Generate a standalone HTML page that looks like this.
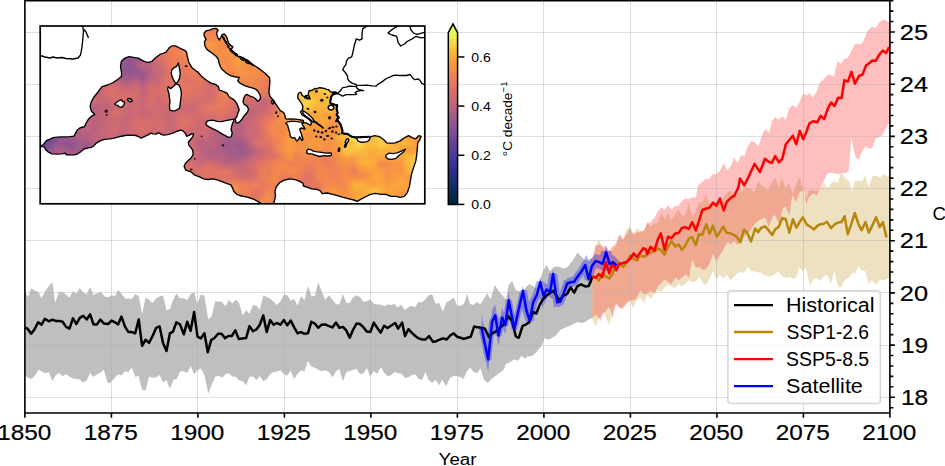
<!DOCTYPE html><html><head><meta charset="utf-8"><style>html,body{margin:0;padding:0;background:#fff;overflow:hidden}svg{display:block}</style></head><body><svg width="945" height="466" viewBox="0 0 945 466">
<rect width="945" height="466" fill="#fff"/>
<path d="M24.9,291.7 L25.7,291.7 L27.8,297.2 L31.2,288.3 L34.6,290.4 L38.6,292.1 L41.5,298.3 L44.9,291.4 L52.3,281.8 L55.2,302.9 L59.2,291.4 L62.6,292.1 L65.5,294.3 L69.5,297.7 L72.9,290.9 L76.4,293.8 L79.8,288.0 L83.2,292.6 L86.7,294.3 L90.1,286.9 L93.5,294.8 L97.0,293.5 L100.4,291.7 L104.7,296.5 L108.1,297.2 L111.6,295.2 L115.0,296.0 L118.1,289.7 L121.5,293.8 L125.6,298.9 L128.7,298.6 L131.8,298.9 L135.2,294.3 L138.7,296.0 L142.1,314.1 L145.5,297.7 L149.0,299.5 L152.4,302.9 L156.2,298.6 L159.6,296.2 L163.1,295.5 L166.5,310.3 L169.9,308.9 L173.0,300.3 L176.4,293.5 L180.0,298.3 L183.8,298.3 L187.2,300.0 L190.6,294.3 L194.1,291.7 L197.2,303.8 L200.9,294.3 L204.4,296.0 L208.3,319.5 L211.8,316.1 L215.2,301.2 L218.6,301.7 L221.5,301.2 L225.5,306.3 L228.9,300.0 L232.4,303.4 L235.8,299.5 L239.2,303.4 L242.7,315.4 L246.1,310.3 L249.5,313.7 L253.0,305.1 L256.4,305.8 L259.8,309.8 L263.3,295.2 L266.7,296.9 L270.1,298.6 L273.6,301.7 L277.0,305.1 L280.4,301.2 L283.9,294.8 L287.3,295.2 L290.7,300.7 L294.2,298.9 L297.6,305.8 L301.0,296.0 L304.5,300.3 L307.9,285.7 L311.3,296.0 L314.8,296.0 L318.2,282.3 L321.6,290.9 L325.1,300.0 L329.0,295.2 L332.4,299.5 L336.0,304.1 L339.4,304.6 L342.9,293.8 L346.3,302.9 L349.7,302.9 L353.2,297.2 L356.6,295.2 L360.0,296.9 L363.5,302.0 L366.9,301.2 L370.3,299.5 L373.8,303.8 L377.2,304.6 L380.6,304.6 L384.1,306.3 L387.5,304.6 L390.9,305.1 L394.4,304.1 L397.8,307.5 L401.2,304.6 L404.7,309.8 L408.1,307.5 L411.5,305.8 L415.0,307.2 L418.4,302.0 L421.8,302.4 L425.3,299.5 L428.7,295.2 L432.1,294.3 L435.6,303.8 L439.0,302.9 L442.8,311.5 L446.7,302.0 L450.2,300.3 L453.6,297.2 L457.0,305.5 L460.5,305.8 L463.9,304.1 L467.3,293.5 L470.0,303.9 L473.4,304.9 L476.9,302.1 L480.3,304.4 L483.7,299.2 L487.2,293.2 L490.6,299.2 L494.9,285.0 L498.3,290.6 L501.8,294.9 L506.1,299.2 L508.6,285.0 L512.1,280.9 L515.5,289.8 L518.9,291.5 L522.4,293.2 L526.0,286.9 L529.4,284.3 L532.9,286.1 L536.3,288.6 L539.7,280.9 L543.2,270.6 L546.6,265.1 L550.0,271.5 L553.5,267.2 L556.9,266.3 L560.3,267.2 L563.8,268.5 L567.2,267.2 L570.6,262.9 L574.1,258.6 L577.5,252.6 L581.8,256.9 L585.2,260.6 L588.7,259.4 L592.1,258.2 L592.3,258.2 L592.3,317.8 L592.1,317.8 L588.7,319.5 L585.2,322.1 L580.9,323.0 L577.5,322.1 L574.1,323.8 L570.6,325.5 L565.5,327.6 L560.3,330.0 L556.0,335.5 L551.5,338.1 L548.1,339.8 L544.7,338.1 L542.1,344.9 L538.7,349.2 L535.2,353.5 L531.8,356.1 L527.5,356.6 L524.9,358.7 L521.5,356.1 L518.1,360.4 L513.8,359.5 L510.3,362.1 L506.0,363.8 L503.5,370.0 L491.4,378.9 L487.9,382.9 L484.0,379.8 L480.5,368.6 L477.1,372.9 L473.7,372.1 L470.2,367.4 L466.8,371.5 L463.4,378.9 L459.9,376.7 L456.5,376.0 L453.1,376.0 L449.6,378.4 L446.2,386.3 L442.4,379.8 L439.0,385.3 L435.6,379.8 L432.1,382.9 L428.7,379.8 L425.3,372.1 L422.2,379.8 L418.7,378.9 L415.3,374.3 L411.9,375.0 L408.4,377.2 L405.0,378.1 L401.6,373.8 L398.1,373.3 L394.7,372.1 L391.3,375.0 L387.8,376.4 L384.4,372.9 L381.0,366.9 L377.2,373.8 L373.8,371.2 L370.3,376.4 L366.9,368.1 L363.5,373.3 L360.0,374.3 L356.6,369.1 L353.2,369.8 L349.7,370.9 L346.3,372.1 L342.9,381.5 L339.4,369.1 L336.0,371.2 L332.4,377.2 L329.0,372.1 L325.1,370.3 L321.6,371.2 L318.2,369.5 L314.8,367.8 L311.3,366.4 L307.9,360.9 L304.5,371.2 L301.0,370.3 L297.6,373.8 L294.2,378.9 L290.7,370.3 L287.3,375.5 L283.9,374.3 L280.4,370.3 L277.0,371.5 L273.6,372.1 L270.1,374.3 L266.7,378.9 L263.3,381.2 L259.8,376.0 L256.4,380.1 L253.0,376.4 L249.5,376.7 L246.1,385.3 L242.7,381.2 L239.2,380.6 L235.8,376.7 L232.4,376.4 L228.9,373.3 L225.5,374.3 L222.1,377.7 L218.6,375.5 L215.2,376.7 L211.8,384.6 L208.3,393.5 L204.4,375.0 L200.9,368.6 L197.5,370.3 L194.1,374.3 L190.6,366.1 L187.2,372.9 L183.8,371.2 L180.0,371.5 L176.8,378.9 L173.4,379.8 L169.9,388.7 L166.5,380.1 L163.1,382.4 L159.6,375.0 L156.2,377.2 L152.4,377.7 L149.0,376.4 L145.5,390.4 L142.1,389.7 L138.7,376.0 L135.2,376.7 L131.8,367.4 L128.4,372.1 L124.9,371.2 L121.5,375.5 L118.1,374.3 L114.1,378.4 L110.7,382.4 L107.8,383.2 L103.8,369.8 L100.4,372.6 L97.0,374.6 L93.5,376.7 L90.1,372.9 L86.7,380.6 L83.2,382.4 L79.8,379.4 L76.4,378.9 L72.9,378.4 L69.5,376.4 L66.1,374.3 L62.6,376.0 L59.2,372.9 L55.8,375.0 L52.3,381.2 L48.9,372.1 L45.5,373.3 L42.0,371.5 L38.6,369.8 L34.6,376.0 L31.2,378.9 L28.3,378.1 L25.7,376.0 L24.9,376.0 Z" fill="#bfbfbf"/>
<path d="M592.3,259.8 L595.5,246.6 L598.9,239.3 L602.3,247.5 L605.8,251.8 L609.2,251.8 L612.6,250.1 L616.1,244.9 L619.5,234.2 L622.9,239.3 L626.4,229.4 L629.8,226.0 L633.3,233.7 L637.2,228.3 L640.4,229.9 L643.6,230.9 L647.4,222.4 L650.1,227.2 L654.4,223.4 L657.6,222.9 L661.4,213.2 L664.6,219.1 L668.1,213.2 L671.5,220.2 L675.3,214.3 L678.5,208.9 L680.0,212.6 L682.6,216.1 L685.2,215.2 L688.6,203.2 L692.4,217.3 L695.9,210.9 L699.3,202.3 L702.7,201.9 L705.8,194.6 L709.2,204.0 L712.6,200.6 L716.1,204.0 L719.5,198.9 L722.9,200.6 L726.4,192.9 L729.8,190.7 L733.2,195.5 L737.1,193.7 L740.0,192.9 L744.3,188.6 L747.5,187.0 L750.7,189.2 L754.5,192.4 L758.2,181.1 L761.5,185.9 L764.7,187.6 L768.4,190.8 L770.0,186.1 L775.3,177.4 L778.7,188.0 L782.1,177.9 L785.5,188.0 L788.8,183.2 L792.7,193.8 L796.1,185.1 L799.5,177.4 L803.3,189.0 L806.2,198.2 L809.6,190.0 L813.0,190.4 L818.3,190.4 L820.2,189.0 L823.6,182.7 L827.5,188.0 L830.0,185.1 L831.2,183.3 L834.4,180.6 L837.6,183.3 L841.4,171.4 L845.4,178.7 L849.4,181.1 L851.9,191.6 L855.1,180.3 L859.1,181.1 L862.3,181.1 L865.2,175.0 L868.8,186.7 L872.8,175.5 L876.8,175.9 L880.0,177.9 L883.2,173.9 L886.5,176.3 L889.9,176.3 L889.9,278.3 L888.4,278.3 L883.7,280.2 L879.7,279.6 L875.7,284.7 L871.7,280.2 L868.6,283.9 L865.4,271.2 L861.4,270.4 L858.3,266.0 L855.1,273.9 L852.7,272.0 L849.5,277.5 L845.6,279.1 L841.6,286.6 L838.4,287.5 L834.4,271.2 L830.5,283.9 L827.3,274.4 L823.3,276.7 L820.2,280.7 L817.0,278.3 L813.8,279.1 L809.8,285.5 L805.9,267.2 L802.7,271.2 L799.5,266.9 L796.3,277.5 L793.2,279.1 L789.2,276.7 L786.0,278.3 L782.1,276.0 L778.1,271.2 L772.5,276.0 L768.6,276.3 L764.6,275.2 L760.6,272.8 L755.9,272.0 L754.4,271.3 L751.2,271.3 L748.0,266.8 L744.2,272.7 L740.5,272.0 L737.3,273.3 L734.0,277.0 L730.3,280.2 L727.1,274.9 L723.3,278.6 L720.1,274.9 L716.3,279.7 L713.1,270.6 L709.9,277.6 L706.1,285.1 L702.9,283.5 L699.7,277.0 L696.5,280.8 L692.7,282.4 L689.5,279.9 L685.8,282.9 L682.0,286.4 L678.8,283.5 L675.0,288.3 L668.6,285.1 L665.4,286.5 L661.1,291.9 L657.9,290.3 L654.7,293.0 L650.9,298.7 L647.2,295.1 L643.9,302.6 L640.2,297.3 L636.4,301.0 L633.2,308.0 L630.0,301.2 L626.0,305.5 L622.6,309.7 L619.6,307.2 L617.5,304.0 L615.8,303.0 L612.5,312.0 L611.0,318.3 L609.3,325.6 L605.0,315.0 L602.9,312.5 L600.5,316.0 L598.2,319.6 L595.6,326.5 L592.4,319.2 L592.3,319.2 Z" fill="#b8860b" fill-opacity="0.25"/>
<path d="M592.3,259.8 L595.5,246.2 L598.9,244.0 L602.3,246.6 L605.8,246.2 L609.2,250.9 L612.6,246.2 L616.1,243.6 L619.5,234.6 L622.9,239.7 L626.4,234.6 L629.8,228.6 L633.3,234.2 L637.2,232.0 L640.4,232.0 L643.6,230.9 L647.4,222.4 L650.1,223.1 L654.4,217.5 L658.1,211.1 L661.4,207.0 L664.6,210.0 L668.1,205.5 L671.5,209.8 L675.3,205.7 L679.1,205.7 L680.0,203.2 L682.6,200.2 L685.2,198.5 L688.6,198.9 L692.0,197.2 L695.9,197.6 L698.0,185.2 L700.6,183.4 L703.2,181.3 L705.8,178.4 L709.2,179.3 L712.6,174.1 L716.1,174.6 L719.5,171.5 L723.8,163.0 L727.3,170.7 L730.7,166.0 L734.1,157.5 L737.6,163.0 L741.0,155.2 L744.4,156.1 L747.9,145.8 L751.3,141.0 L754.7,142.0 L758.2,146.6 L760.0,142.1 L762.8,133.0 L765.6,128.8 L769.1,133.0 L771.9,121.2 L775.3,117.0 L778.8,119.8 L782.3,116.3 L785.8,120.0 L787.9,112.8 L789.3,108.1 L792.8,104.9 L796.3,108.1 L799.8,101.6 L803.2,93.5 L806.7,95.6 L809.5,93.2 L813.0,97.4 L816.5,91.4 L820.0,82.3 L824.2,78.8 L827.7,74.2 L831.1,75.6 L833.9,76.5 L837.4,60.7 L840.9,63.9 L844.4,58.8 L847.9,58.1 L851.4,50.5 L854.9,44.2 L858.3,43.5 L861.1,44.6 L863.9,40.0 L867.4,30.9 L870.2,27.9 L873.0,27.0 L875.8,27.9 L879.3,22.3 L882.8,19.5 L886.2,20.5 L888.3,21.9 L889.9,21.9 L889.9,122.6 L889.0,122.6 L886.2,128.1 L882.8,134.4 L879.3,137.2 L875.8,137.9 L872.3,147.7 L868.8,148.4 L865.3,146.3 L861.8,152.5 L858.3,160.2 L854.9,156.0 L851.4,137.2 L848.6,171.4 L845.1,173.0 L841.6,172.8 L838.1,174.2 L832.5,172.8 L831.2,173.1 L830.0,173.0 L827.5,173.5 L823.6,181.3 L820.2,189.0 L818.3,191.9 L816.9,195.7 L814.4,193.8 L812.0,194.3 L808.6,197.7 L806.2,205.0 L804.3,190.9 L802.4,190.9 L800.0,191.9 L796.1,202.0 L792.2,195.3 L790.8,205.0 L789.3,215.6 L785.8,206.8 L782.8,208.6 L779.3,224.5 L775.2,215.1 L772.8,216.2 L768.7,227.4 L765.7,218.6 L764.0,218.0 L758.7,220.4 L753.9,225.1 L750.4,230.4 L746.9,233.9 L742.1,238.7 L737.4,245.1 L734.0,241.1 L730.8,244.3 L727.6,241.9 L723.8,248.6 L720.1,255.0 L716.3,261.5 L713.1,253.9 L709.4,264.1 L706.1,269.0 L702.9,270.0 L699.2,266.8 L695.9,267.9 L692.2,259.3 L689.0,278.1 L685.8,274.3 L678.8,280.2 L675.6,277.6 L671.3,284.5 L664.8,279.2 L657.9,286.5 L654.7,293.3 L650.9,290.8 L647.2,293.5 L643.9,294.6 L640.2,290.3 L636.4,298.3 L633.2,300.5 L630.0,300.3 L627.8,301.2 L624.3,305.5 L621.8,308.0 L619.6,308.5 L617.5,305.5 L615.8,305.0 L612.5,318.5 L611.0,311.5 L608.9,307.2 L605.0,311.9 L602.9,313.5 L601.0,321.0 L598.6,317.5 L595.6,314.9 L592.4,318.0 L592.3,318.0 Z" fill="#ff0000" fill-opacity="0.25"/>
<g opacity="0.3">
<path d="M481.6,314.5 L488.2,347.1 L492.1,310.3 L495.2,304.3 L498.5,325.3 L502.3,308.1 L505.3,316.2 L508.7,292.0 L514.3,321.7 L523.0,285.4 L526.3,305.0 L529.8,315.6 L533.1,297.5 L536.8,290.0 L540.3,277.3 L543.6,290.8 L546.6,284.5 L550.0,287.1 L553.1,269.0 L557.2,297.4 L560.3,296.5 L563.8,287.9 L567.2,278.5 L570.6,277.3 L574.1,276.8 L577.5,271.6 L580.9,267.3 L585.2,260.1 L588.7,274.2 L591.8,259.3 L595.7,254.0 L599.2,255.1 L602.7,256.8 L606.1,245.2 L609.5,256.8 L613.1,255.1 L616.5,258.5 L616.5,272.5 L613.1,269.1 L609.5,270.8 L606.1,259.2 L602.7,270.8 L599.2,269.1 L595.7,268.0 L591.8,273.3 L588.7,284.2 L585.2,270.1 L580.9,277.3 L577.5,281.6 L574.1,286.8 L570.6,287.3 L567.2,288.5 L563.8,297.9 L560.3,306.5 L557.2,307.4 L553.1,279.0 L550.0,297.1 L546.6,294.5 L543.6,300.8 L540.3,287.3 L536.8,300.0 L533.1,307.5 L529.8,325.6 L526.3,315.0 L523.0,296.2 L514.3,335.9 L508.7,308.6 L505.3,334.0 L502.3,327.1 L498.5,345.9 L495.2,326.3 L492.1,333.7 L488.2,372.1 L481.6,342.3 Z" fill="#0000ff"/>
<path d="M481.6,328.4 L488.2,359.6 L492.1,322.0 L495.2,315.3 L498.5,335.6 L502.3,317.6 L505.3,325.1 L508.7,300.3 L514.3,328.8 L523.0,290.8" fill="none" stroke="#0000ff" stroke-width="6" stroke-linejoin="miter" stroke-miterlimit="3"/>
<path d="M523.0,290.8 L526.3,310.0 L529.8,320.6 L533.1,302.5 L536.8,295.0 L540.3,282.3 L543.6,295.8 L546.6,289.5 L550.0,292.1 L553.1,274.0 L557.2,302.4 L560.3,301.5 L563.8,292.9 L567.2,283.5 L570.6,282.3 L574.1,281.8 L577.5,276.6 L580.9,272.3 L585.2,265.1 L588.7,279.2 L591.8,266.3" fill="none" stroke="#0000ff" stroke-width="8" stroke-linejoin="miter" stroke-miterlimit="3"/>
<path d="M591.8,266.3 L595.7,261.0 L599.2,262.1 L602.7,263.8 L606.1,252.2 L609.5,263.8 L613.1,262.1 L616.5,265.5" fill="none" stroke="#0000ff" stroke-width="10" stroke-linejoin="miter" stroke-miterlimit="3"/>
</g>
<path d="M24.50,0 V413 M111.50,0 V413 M197.50,0 V413 M284.50,0 V413 M370.50,0 V413 M457.50,0 V413 M543.50,0 V413 M630.50,0 V413 M716.50,0 V413 M803.50,0 V413 M889.50,0 V413" stroke="#b0b0b0" stroke-opacity="0.45" stroke-width="1" fill="none"/>
<path d="M24.9,397.50 H889.9 M24.9,345.50 H889.9 M24.9,292.50 H889.9 M24.9,240.50 H889.9 M24.9,188.50 H889.9 M24.9,136.50 H889.9 M24.9,84.50 H889.9 M24.9,32.50 H889.9" stroke="#b0b0b0" stroke-opacity="0.4" stroke-width="1" fill="none"/>
<path d="M24.9,327.4 L27.4,328.6 L31.2,333.8 L34.6,329.2 L38.1,322.3 L41.5,324.7 L44.9,318.9 L48.9,321.3 L52.3,319.7 L55.8,320.9 L59.2,320.9 L62.6,321.8 L66.1,326.9 L69.5,328.6 L72.9,318.3 L76.4,324.0 L79.8,317.8 L83.2,315.8 L86.7,319.5 L90.1,314.4 L93.5,324.4 L97.0,324.4 L100.4,319.5 L103.8,323.5 L108.1,324.0 L111.6,320.6 L115.0,322.3 L118.1,324.4 L121.5,316.6 L124.9,326.4 L128.4,332.1 L131.8,332.1 L135.2,333.3 L138.7,319.5 L142.1,345.8 L145.5,339.8 L149.0,342.9 L152.4,336.4 L156.2,327.8 L159.6,326.4 L163.1,343.2 L166.5,351.0 L169.9,333.3 L173.0,331.6 L176.4,322.3 L180.0,324.4 L183.8,334.3 L187.2,321.8 L190.6,330.9 L194.1,312.0 L197.5,336.7 L200.9,338.4 L204.4,333.3 L207.8,352.2 L211.2,340.1 L214.7,337.7 L218.1,333.8 L221.5,333.8 L225.0,338.1 L228.4,336.0 L231.8,336.0 L235.3,330.4 L238.7,338.9 L242.1,338.4 L246.1,338.1 L249.5,326.1 L253.0,331.2 L256.4,329.5 L259.8,324.7 L263.3,315.4 L266.7,332.1 L270.1,320.1 L273.6,324.7 L277.0,323.0 L280.4,324.7 L283.9,320.1 L287.3,325.2 L290.7,320.6 L294.2,327.4 L297.6,333.3 L301.0,332.1 L304.5,333.8 L307.9,333.3 L311.3,321.8 L314.8,323.5 L318.2,327.8 L321.6,324.7 L325.1,324.4 L329.0,326.1 L332.4,327.4 L336.0,322.6 L339.4,327.8 L342.9,326.9 L346.3,330.4 L349.7,337.7 L353.2,329.5 L356.6,323.5 L360.0,324.0 L363.5,327.4 L366.9,331.6 L370.3,332.1 L373.8,322.6 L377.2,327.8 L380.6,332.6 L384.1,325.7 L387.5,328.1 L390.9,325.7 L395.2,323.0 L398.1,328.6 L402.1,322.6 L405.0,336.0 L408.4,329.2 L411.9,332.9 L415.3,336.0 L418.7,338.4 L422.2,339.5 L425.6,339.5 L429.0,336.0 L433.0,341.9 L436.4,341.2 L439.9,339.5 L443.3,338.4 L446.7,339.5 L450.2,335.5 L453.6,333.3 L457.0,336.7 L460.5,337.7 L463.9,338.9 L467.3,337.7 L470.8,336.7 L474.2,326.4 L476.0,326.9 L481.3,327.8 L485.0,328.8 L488.8,337.1 L492.5,333.3 L496.3,331.1 L500.0,327.8 L504.5,323.6 L508.3,316.1 L512.1,321.3 L515.8,336.3 L518.8,337.8 L522.6,325.8 L526.3,324.3 L529.3,322.1 L532.9,311.8 L536.3,313.5 L539.7,304.9 L543.2,298.9 L546.6,295.5 L550.0,292.9 L553.5,290.9 L556.0,295.0 L559.5,300.6 L562.9,296.0 L567.2,293.8 L570.6,287.4 L574.1,292.6 L577.5,286.1 L580.9,284.3 L585.2,286.4 L588.7,286.1 L590.9,280.9 L592.1,276.6 L592.3,276.6" stroke="#000" stroke-width="2.5" fill="none" stroke-linejoin="round"/>
<path d="M592.3,276.6 L595.7,276.9 L598.9,280.4 L602.1,273.3 L605.3,275.9 L609.2,278.5 L612.4,274.0 L616.3,262.4 L619.5,263.7 L623.3,266.9 L627.2,261.7 L630.4,255.3 L633.0,258.5 L636.9,260.5 L640.1,255.3 L643.3,256.6 L646.0,256.0 L647.2,253.6 L650.6,252.7 L654.5,251.2 L657.9,248.8 L660.8,249.8 L664.6,254.6 L668.0,246.9 L671.4,241.1 L675.3,246.4 L678.6,244.5 L682.0,249.8 L685.4,245.4 L688.8,238.7 L692.2,237.2 L695.8,245.1 L698.9,234.3 L702.3,234.8 L706.2,224.2 L709.6,233.8 L712.9,225.6 L716.8,236.7 L719.7,232.2 L723.3,226.6 L726.8,232.8 L730.3,233.3 L733.9,234.9 L736.8,236.9 L740.4,242.2 L743.9,229.8 L746.9,232.2 L751.0,241.6 L755.1,228.6 L758.1,232.2 L761.0,228.0 L765.1,226.3 L768.7,230.4 L772.2,235.1 L775.2,229.2 L778.7,226.9 L782.3,218.0 L785.8,219.2 L789.3,232.8 L792.9,219.2 L796.3,227.8 L799.6,222.1 L802.8,217.3 L806.8,224.6 L810.0,226.5 L814.0,229.4 L817.3,225.8 L820.5,224.2 L823.7,223.7 L826.9,221.7 L830.9,228.1 L835.0,224.2 L838.2,222.6 L841.4,222.1 L844.6,216.2 L847.8,234.2 L851.1,224.6 L854.8,213.0 L858.3,223.7 L861.5,230.2 L865.5,222.1 L868.8,232.6 L872.8,224.6 L876.0,217.3 L879.7,227.0 L882.9,222.1 L886.5,237.4" stroke="#b8860b" stroke-width="2.5" fill="none" stroke-linejoin="round"/>
<path d="M592.3,276.6 L595.7,277.8 L598.9,274.0 L602.1,277.2 L606.0,262.4 L609.2,273.3 L612.4,263.7 L616.3,270.1 L619.5,263.7 L623.3,263.0 L627.2,261.7 L630.4,258.5 L633.6,253.4 L636.9,257.2 L640.1,252.7 L643.3,248.2 L646.0,249.5 L647.2,254.1 L650.6,246.9 L654.5,250.7 L657.9,239.2 L660.8,233.4 L664.6,249.8 L668.0,236.7 L671.4,238.2 L675.3,233.4 L678.6,232.9 L682.0,228.0 L685.4,227.1 L688.8,229.0 L692.2,222.2 L695.8,230.5 L698.9,221.3 L702.3,210.0 L705.8,208.8 L709.6,207.6 L713.0,202.7 L716.5,205.8 L719.9,198.5 L723.6,210.5 L726.8,201.9 L730.6,198.0 L734.1,195.9 L737.5,189.4 L738.4,187.0 L740.0,178.4 L744.3,185.4 L748.6,176.8 L754.5,163.9 L760.0,172.1 L764.9,158.8 L768.4,161.6 L771.9,163.0 L775.3,156.0 L778.8,162.3 L782.3,158.8 L785.8,144.2 L789.3,140.0 L792.8,135.8 L796.3,144.2 L799.8,130.9 L803.2,139.3 L806.7,130.9 L809.5,123.3 L813.0,121.2 L817.2,122.3 L820.7,115.9 L824.2,119.1 L827.7,108.8 L831.1,102.5 L834.6,106.0 L838.1,97.7 L841.6,97.9 L844.4,80.2 L847.9,81.6 L851.4,71.9 L854.9,83.7 L859.0,76.0 L862.5,74.6 L866.0,65.6 L869.5,63.1 L872.3,60.5 L875.8,60.9 L879.3,54.6 L882.8,50.5 L886.2,53.0 L889.0,47.0" stroke="#ff0000" stroke-width="2.5" fill="none" stroke-linejoin="round"/>
<path d="M481.6,328.4 L488.2,359.6 L492.1,322.0 L495.2,315.3 L498.5,335.6 L502.3,317.6 L505.3,325.1 L508.7,300.3 L514.3,328.8 L523.0,290.8 L526.3,310.0 L529.8,320.6 L533.1,302.5 L536.8,295.0 L540.3,282.3 L543.6,295.8 L546.6,289.5 L550.0,292.1 L553.1,274.0 L557.2,302.4 L560.3,301.5 L563.8,292.9 L567.2,283.5 L570.6,282.3 L574.1,281.8 L577.5,276.6 L580.9,272.3 L585.2,265.1 L588.7,279.2 L591.8,266.3 L595.7,261.0 L599.2,262.1 L602.7,263.8 L606.1,252.2 L609.5,263.8 L613.1,262.1 L616.5,265.5" stroke="#0000ff" stroke-width="2.5" fill="none" stroke-linejoin="round"/>
<defs>
<clipPath id="seaclip"><path d="M40.5,145.7 L42.8,145.2 L44.4,143.1 L46.6,140.4 L49.8,139.3 L53.0,137.7 L57.3,137.2 L61.6,136.9 L65.9,136.9 L70.2,136.6 L73.9,136.1 L75.5,133.4 L77.1,130.2 L79.8,128.0 L83.0,127.0 L84.3,126.8 L85.9,123.6 L88.3,119.3 L91.2,116.4 L94.8,114.4 L91.5,111.2 L90.2,106.7 L91.2,101.9 L93.9,97.0 L97.2,93.0 L99.6,89.8 L102.0,86.6 L107.6,85.0 L113.3,82.5 L118.9,78.5 L121.5,76.5 L121.5,72.0 L120.5,66.8 L121.3,61.4 L123.4,59.3 L126.1,57.7 L129.3,56.6 L132.0,57.1 L134.7,57.7 L138.4,58.2 L142.2,60.3 L145.4,61.9 L148.6,62.3 L151.8,61.4 L154.0,59.3 L157.2,56.6 L159.9,54.4 L163.1,53.4 L165.8,52.3 L167.9,49.6 L169.5,47.5 L172.2,45.8 L175.5,45.8 L178.7,47.5 L181.9,49.1 L185.1,50.7 L186.7,52.3 L187.0,55.5 L187.8,58.2 L188.9,62.5 L189.9,64.1 L192.1,67.8 L194.8,70.0 L198.0,72.1 L201.2,76.0 L202.9,77.5 L207.2,80.7 L211.5,83.4 L215.8,84.5 L218.4,86.6 L219.5,90.4 L222.2,90.9 L224.3,92.0 L227.0,93.1 L228.6,95.8 L230.2,97.9 L232.9,99.0 L235.1,101.1 L236.7,103.3 L237.7,105.9 L238.8,108.6 L239.2,110.0 L237.6,113.8 L237.0,116.4 L235.4,118.6 L235.4,119.7 L236.0,122.9 L238.1,122.9 L240.2,121.3 L242.4,118.6 L244.0,115.9 L246.1,113.8 L247.7,111.6 L248.5,109.2 L246.9,105.9 L244.2,104.3 L243.1,102.2 L243.6,98.4 L245.3,95.2 L247.2,94.5 L250.1,96.1 L253.5,97.3 L255.5,98.8 L257.5,101.0 L259.0,100.6 L260.6,98.2 L260.0,95.0 L258.3,91.8 L256.0,89.3 L253.0,88.2 L249.0,87.2 L244.7,85.6 L240.4,83.4 L237.7,80.7 L239.4,77.5 L236.1,77.0 L230.8,75.9 L226.5,73.2 L222.7,70.0 L220.6,67.3 L219.0,63.0 L218.4,59.3 L215.8,56.0 L211.5,52.8 L207.2,49.6 L205.0,46.4 L204.5,41.6 L206.1,39.4 L204.5,36.7 L203.9,33.5 L206.1,30.8 L210.4,29.8 L213.1,28.7 L216.3,28.4 L218.1,30.1 L216.8,32.4 L216.8,34.6 L217.9,37.8 L219.5,40.0 L221.1,36.7 L222.2,34.6 L224.3,34.0 L225.9,35.7 L227.0,37.8 L227.6,40.0 L228.6,43.2 L230.8,45.3 L232.9,46.9 L231.8,48.5 L229.7,49.1 L230.8,51.2 L232.9,52.8 L236.1,55.0 L239.4,57.1 L242.6,58.2 L245.8,59.3 L249.0,61.4 L252.2,64.1 L255.5,66.2 L258.7,68.4 L260.8,70.0 L265.1,73.2 L269.4,77.5 L269.9,81.8 L269.4,87.2 L268.9,92.5 L270.0,96.6 L272.6,99.2 L275.2,103.0 L277.7,106.9 L280.3,110.7 L282.5,111.8 L284.2,113.5 L285.2,116.2 L285.4,118.6 L287.6,119.2 L291.0,118.9 L295.0,119.1 L299.0,119.7 L303.5,120.5 L303.5,122.3 L299.0,121.8 L295.0,121.3 L291.0,121.3 L287.8,121.8 L285.7,123.2 L287.6,125.1 L288.6,129.0 L289.6,131.9 L290.0,135.3 L291.0,137.2 L292.9,138.2 L294.8,137.7 L295.8,139.6 L296.8,141.1 L298.7,139.2 L299.7,136.8 L300.6,138.7 L302.1,140.6 L303.0,139.2 L302.1,136.8 L301.1,132.9 L300.2,130.9 L299.7,129.0 L301.1,128.0 L303.0,128.5 L305.0,129.0 L304.0,127.0 L302.6,125.1 L302.0,123.5 L304.0,122.8 L306.0,122.8 L307.9,123.7 L310.3,125.2 L311.3,124.2 L310.8,121.3 L308.9,119.4 L305.5,117.0 L302.1,115.0 L300.5,112.0 L302.3,110.0 L302.9,107.0 L302.2,104.5 L300.9,102.5 L299.7,100.6 L298.0,98.7 L297.7,96.1 L298.4,93.5 L300.3,92.2 L301.3,92.9 L302.2,95.5 L303.8,96.4 L305.5,96.1 L308.0,95.5 L308.7,92.2 L309.3,90.3 L311.2,90.6 L313.2,89.7 L314.8,88.4 L317.0,88.7 L319.6,87.7 L321.6,88.0 L324.1,88.4 L326.7,89.3 L328.6,89.7 L330.2,91.6 L331.9,92.2 L333.8,92.6 L335.8,92.4 L336.6,93.4 L334.4,93.8 L332.5,94.8 L331.2,96.7 L330.6,99.3 L330.2,101.9 L330.7,103.6 L335.0,104.7 L337.2,105.2 L336.6,108.9 L337.7,112.7 L336.6,114.8 L338.8,117.5 L337.2,119.1 L338.2,121.3 L340.4,124.0 L341.4,127.2 L342.5,130.4 L342.0,133.1 L344.7,133.6 L347.9,134.1 L350.0,135.8 L352.2,136.8 L355.4,137.4 L357.0,139.0 L358.1,141.1 L360.8,142.2 L364.0,142.2 L367.2,141.6 L369.3,140.0 L370.4,136.8 L374.5,135.7 L379.7,136.7 L383.8,139.8 L386.9,142.9 L391.0,143.3 L395.1,142.9 L400.3,140.9 L404.4,137.8 L408.5,135.7 L412.6,137.8 L415.7,138.8 L418.8,135.7 L421.2,136.3 L419.8,139.8 L417.7,142.9 L417.3,149.1 L416.7,155.3 L415.7,161.4 L413.6,167.6 L411.6,173.8 L410.5,179.9 L409.5,186.1 L407.5,192.3 L404.4,196.4 L400.3,197.4 L396.1,196.4 L391.0,196.4 L385.9,194.3 L380.7,194.3 L375.6,193.3 L370.4,194.3 L366.2,196.5 L362.0,198.6 L357.2,201.4 L353.7,200.0 L348.1,198.6 L342.5,197.2 L338.3,195.8 L332.8,194.4 L327.2,193.0 L322.3,193.7 L320.2,190.9 L317.4,189.5 L311.8,188.8 L307.7,187.4 L303.5,186.0 L302.8,183.2 L299.3,181.1 L295.1,179.7 L289.5,178.8 L283.9,180.4 L279.8,182.5 L276.3,186.7 L274.9,191.6 L275.6,195.8 L274.2,201.4 L274.0,204.5 L262.6,204.5 L260.3,203.1 L257.9,201.4 L253.2,199.0 L247.3,197.2 L241.4,196.0 L236.7,194.3 L233.7,191.3 L232.5,187.8 L230.8,184.8 L227.2,183.6 L222.5,181.9 L217.8,180.1 L213.1,178.9 L208.3,179.5 L203.6,178.9 L198.9,176.6 L194.2,174.8 L191.8,172.4 L189.4,171.3 L185.9,170.1 L184.1,166.5 L185.3,163.6 L188.3,160.6 L191.5,157.5 L193.2,154.0 L192.6,150.2 L191.0,147.6 L188.9,145.4 L188.3,142.2 L190.5,139.5 L192.6,136.8 L193.7,134.1 L192.1,133.6 L189.4,135.2 L186.7,136.3 L185.1,133.1 L183.0,130.9 L180.3,130.2 L176.5,131.5 L172.2,133.4 L167.9,134.7 L163.6,135.2 L161.0,134.1 L158.8,132.7 L156.1,134.1 L152.9,133.8 L150.8,133.1 L147.6,135.2 L144.3,136.6 L141.1,138.1 L139.0,136.8 L135.8,135.5 L131.5,135.2 L127.2,135.2 L122.9,136.0 L118.6,136.8 L114.3,138.1 L110.0,138.8 L104.5,139.3 L100.2,140.9 L96.4,143.1 L93.8,145.7 L91.6,147.3 L88.4,147.9 L84.1,149.0 L80.9,151.6 L77.7,153.8 L74.5,154.9 L70.2,154.9 L66.4,154.9 L65.3,153.2 L61.6,153.8 L57.3,154.1 L51.9,153.8 L47.7,151.6 L45.5,149.5 L44.4,146.8 L40.5,146.6 Z"/></clipPath>
<clipPath id="boxclip"><rect x="40.2" y="26" width="384.6" height="177.8"/></clipPath>
<filter id="blur" x="-20%" y="-20%" width="140%" height="140%"><feGaussianBlur stdDeviation="2"/></filter>
<linearGradient id="cbg" x1="0" y1="0" x2="0" y2="1"><stop offset="0.000" stop-color="#e8fa5b"/><stop offset="0.050" stop-color="#f5dc4b"/><stop offset="0.100" stop-color="#fabe3c"/><stop offset="0.170" stop-color="#fa9b3e"/><stop offset="0.250" stop-color="#f08252"/><stop offset="0.330" stop-color="#dc7069"/><stop offset="0.420" stop-color="#be647d"/><stop offset="0.500" stop-color="#9e5a8a"/><stop offset="0.580" stop-color="#7d5096"/><stop offset="0.670" stop-color="#5e3f98"/><stop offset="0.750" stop-color="#3e3498"/><stop offset="0.830" stop-color="#202f80"/><stop offset="0.900" stop-color="#102e64"/><stop offset="1.000" stop-color="#042333"/></linearGradient>
</defs>
<rect x="40.2" y="26" width="384.6" height="177.8" fill="#fff"/>
<g clip-path="url(#boxclip)">
<g clip-path="url(#seaclip)">
<g filter="url(#blur)">
<rect x="192" y="26" width="4" height="4.5" fill="#f2864f"/>
<rect x="196" y="26" width="4" height="4.5" fill="#f3894d"/>
<rect x="200" y="26" width="4" height="4.5" fill="#f3894c"/>
<rect x="204" y="26" width="4" height="4.5" fill="#f3894d"/>
<rect x="208" y="26" width="4" height="4.5" fill="#f18550"/>
<rect x="212" y="26" width="4" height="4.5" fill="#f08252"/>
<rect x="216" y="26" width="4" height="4.5" fill="#ee8154"/>
<rect x="220" y="26" width="4" height="4.5" fill="#f08252"/>
<rect x="224" y="26" width="4" height="4.5" fill="#f2874e"/>
<rect x="228" y="26" width="4" height="4.5" fill="#f58e48"/>
<rect x="232" y="26" width="4" height="4.5" fill="#f89642"/>
<rect x="192" y="30" width="4" height="4.5" fill="#f38a4b"/>
<rect x="196" y="30" width="12" height="4.5" fill="#f2874e"/>
<rect x="208" y="30" width="4" height="4.5" fill="#f08252"/>
<rect x="212" y="30" width="4" height="4.5" fill="#ef8154"/>
<rect x="216" y="30" width="4" height="4.5" fill="#f38a4c"/>
<rect x="220" y="30" width="4" height="4.5" fill="#f48d49"/>
<rect x="224" y="30" width="4" height="4.5" fill="#f38a4b"/>
<rect x="228" y="30" width="4" height="4.5" fill="#f69245"/>
<rect x="232" y="30" width="4" height="4.5" fill="#fa9e3e"/>
<rect x="164" y="34" width="8" height="4.5" fill="#ed7f56"/>
<rect x="172" y="34" width="4" height="4.5" fill="#f08351"/>
<rect x="176" y="34" width="4" height="4.5" fill="#f3894c"/>
<rect x="180" y="34" width="4" height="4.5" fill="#f08252"/>
<rect x="192" y="34" width="4" height="4.5" fill="#f2874e"/>
<rect x="196" y="34" width="8" height="4.5" fill="#f18351"/>
<rect x="204" y="34" width="4" height="4.5" fill="#f18550"/>
<rect x="208" y="34" width="4" height="4.5" fill="#ef8153"/>
<rect x="212" y="34" width="4" height="4.5" fill="#f08252"/>
<rect x="216" y="34" width="4" height="4.5" fill="#f69047"/>
<rect x="220" y="34" width="4" height="4.5" fill="#f79443"/>
<rect x="224" y="34" width="4" height="4.5" fill="#f58e48"/>
<rect x="228" y="34" width="4" height="4.5" fill="#f79344"/>
<rect x="232" y="34" width="4" height="4.5" fill="#fa9d3e"/>
<rect x="236" y="34" width="4" height="4.5" fill="#f99841"/>
<rect x="160" y="38" width="4" height="4.5" fill="#eb7e57"/>
<rect x="164" y="38" width="4" height="4.5" fill="#ec7e57"/>
<rect x="168" y="38" width="4" height="4.5" fill="#ec7f56"/>
<rect x="172" y="38" width="4" height="4.5" fill="#ef8253"/>
<rect x="176" y="38" width="4" height="4.5" fill="#f2864f"/>
<rect x="180" y="38" width="4" height="4.5" fill="#f08351"/>
<rect x="184" y="38" width="4" height="4.5" fill="#f08253"/>
<rect x="188" y="38" width="4" height="4.5" fill="#f18550"/>
<rect x="192" y="38" width="4" height="4.5" fill="#f2874e"/>
<rect x="196" y="38" width="4" height="4.5" fill="#f2864f"/>
<rect x="200" y="38" width="4" height="4.5" fill="#f3884d"/>
<rect x="204" y="38" width="4" height="4.5" fill="#f48c4a"/>
<rect x="208" y="38" width="8" height="4.5" fill="#f3894c"/>
<rect x="216" y="38" width="4" height="4.5" fill="#f69146"/>
<rect x="220" y="38" width="4" height="4.5" fill="#f69245"/>
<rect x="224" y="38" width="4" height="4.5" fill="#f48b4b"/>
<rect x="228" y="38" width="4" height="4.5" fill="#f69146"/>
<rect x="232" y="38" width="4" height="4.5" fill="#fa9c3e"/>
<rect x="236" y="38" width="4" height="4.5" fill="#f89543"/>
<rect x="240" y="38" width="4" height="4.5" fill="#f69047"/>
<rect x="152" y="42" width="4" height="4.5" fill="#ec7f56"/>
<rect x="156" y="42" width="4" height="4.5" fill="#ee8054"/>
<rect x="160" y="42" width="4" height="4.5" fill="#ea7d59"/>
<rect x="164" y="42" width="4" height="4.5" fill="#ed7f55"/>
<rect x="168" y="42" width="4" height="4.5" fill="#f38a4c"/>
<rect x="172" y="42" width="4" height="4.5" fill="#f18351"/>
<rect x="176" y="42" width="4" height="4.5" fill="#e77a5c"/>
<rect x="180" y="42" width="4" height="4.5" fill="#f08253"/>
<rect x="184" y="42" width="4" height="4.5" fill="#f3894c"/>
<rect x="188" y="42" width="4" height="4.5" fill="#f3884d"/>
<rect x="192" y="42" width="4" height="4.5" fill="#f38b4b"/>
<rect x="196" y="42" width="4" height="4.5" fill="#f58f48"/>
<rect x="200" y="42" width="4" height="4.5" fill="#f89642"/>
<rect x="204" y="42" width="4" height="4.5" fill="#fa9e3e"/>
<rect x="208" y="42" width="4" height="4.5" fill="#fa9b3e"/>
<rect x="212" y="42" width="4" height="4.5" fill="#f89741"/>
<rect x="216" y="42" width="4" height="4.5" fill="#f48c4a"/>
<rect x="220" y="42" width="4" height="4.5" fill="#f18550"/>
<rect x="224" y="42" width="4" height="4.5" fill="#ef8153"/>
<rect x="228" y="42" width="4" height="4.5" fill="#f48c4a"/>
<rect x="232" y="42" width="4" height="4.5" fill="#fa9b3e"/>
<rect x="236" y="42" width="4" height="4.5" fill="#f69146"/>
<rect x="240" y="42" width="4" height="4.5" fill="#f48b4b"/>
<rect x="120" y="46" width="4" height="4.5" fill="#a55c87"/>
<rect x="124" y="46" width="4" height="4.5" fill="#9c598b"/>
<rect x="128" y="46" width="4" height="4.5" fill="#95578d"/>
<rect x="132" y="46" width="4" height="4.5" fill="#99588c"/>
<rect x="136" y="46" width="4" height="4.5" fill="#a65d87"/>
<rect x="140" y="46" width="4" height="4.5" fill="#bf647c"/>
<rect x="148" y="46" width="4" height="4.5" fill="#e5785e"/>
<rect x="152" y="46" width="4" height="4.5" fill="#e97c5a"/>
<rect x="156" y="46" width="4" height="4.5" fill="#ea7d59"/>
<rect x="160" y="46" width="4" height="4.5" fill="#e97c5a"/>
<rect x="164" y="46" width="4" height="4.5" fill="#ec7e57"/>
<rect x="168" y="46" width="4" height="4.5" fill="#f2864f"/>
<rect x="172" y="46" width="4" height="4.5" fill="#f08252"/>
<rect x="176" y="46" width="4" height="4.5" fill="#e97b5a"/>
<rect x="180" y="46" width="4" height="4.5" fill="#f18351"/>
<rect x="184" y="46" width="4" height="4.5" fill="#f38a4b"/>
<rect x="188" y="46" width="4" height="4.5" fill="#f3894d"/>
<rect x="192" y="46" width="4" height="4.5" fill="#f3894c"/>
<rect x="196" y="46" width="4" height="4.5" fill="#f48c4a"/>
<rect x="200" y="46" width="4" height="4.5" fill="#f69047"/>
<rect x="204" y="46" width="4" height="4.5" fill="#f79344"/>
<rect x="208" y="46" width="4" height="4.5" fill="#f99841"/>
<rect x="212" y="46" width="4" height="4.5" fill="#f99741"/>
<rect x="216" y="46" width="4" height="4.5" fill="#f48b4a"/>
<rect x="220" y="46" width="4" height="4.5" fill="#f2874e"/>
<rect x="224" y="46" width="4" height="4.5" fill="#f38a4b"/>
<rect x="228" y="46" width="4" height="4.5" fill="#f58e49"/>
<rect x="232" y="46" width="4" height="4.5" fill="#f69146"/>
<rect x="236" y="46" width="4" height="4.5" fill="#f58f48"/>
<rect x="240" y="46" width="4" height="4.5" fill="#f58e49"/>
<rect x="244" y="46" width="4" height="4.5" fill="#f79245"/>
<rect x="112" y="50" width="4" height="4.5" fill="#895392"/>
<rect x="116" y="50" width="4" height="4.5" fill="#99598c"/>
<rect x="120" y="50" width="4" height="4.5" fill="#a85d86"/>
<rect x="124" y="50" width="4" height="4.5" fill="#9e5a8a"/>
<rect x="128" y="50" width="4" height="4.5" fill="#94578e"/>
<rect x="132" y="50" width="4" height="4.5" fill="#8e5590"/>
<rect x="136" y="50" width="4" height="4.5" fill="#94578e"/>
<rect x="140" y="50" width="4" height="4.5" fill="#a95d86"/>
<rect x="144" y="50" width="4" height="4.5" fill="#c96876"/>
<rect x="148" y="50" width="4" height="4.5" fill="#e27562"/>
<rect x="152" y="50" width="8" height="4.5" fill="#e47760"/>
<rect x="160" y="50" width="4" height="4.5" fill="#e77a5c"/>
<rect x="164" y="50" width="4" height="4.5" fill="#e97c5a"/>
<rect x="168" y="50" width="4" height="4.5" fill="#eb7e57"/>
<rect x="172" y="50" width="4" height="4.5" fill="#ed8055"/>
<rect x="176" y="50" width="4" height="4.5" fill="#ef8153"/>
<rect x="180" y="50" width="4" height="4.5" fill="#f2864f"/>
<rect x="184" y="50" width="4" height="4.5" fill="#f38a4c"/>
<rect x="188" y="50" width="4" height="4.5" fill="#f2884d"/>
<rect x="192" y="50" width="4" height="4.5" fill="#f2874e"/>
<rect x="196" y="50" width="4" height="4.5" fill="#f2864f"/>
<rect x="200" y="50" width="4" height="4.5" fill="#f08351"/>
<rect x="204" y="50" width="4" height="4.5" fill="#ee8054"/>
<rect x="208" y="50" width="4" height="4.5" fill="#f48c4a"/>
<rect x="212" y="50" width="4" height="4.5" fill="#f79345"/>
<rect x="216" y="50" width="4" height="4.5" fill="#f48c4a"/>
<rect x="220" y="50" width="4" height="4.5" fill="#f58e48"/>
<rect x="224" y="50" width="4" height="4.5" fill="#fa9a3f"/>
<rect x="228" y="50" width="4" height="4.5" fill="#f79245"/>
<rect x="232" y="50" width="4" height="4.5" fill="#f18450"/>
<rect x="236" y="50" width="4" height="4.5" fill="#f48c4a"/>
<rect x="240" y="50" width="4" height="4.5" fill="#f79345"/>
<rect x="244" y="50" width="4" height="4.5" fill="#f79444"/>
<rect x="248" y="50" width="4" height="4.5" fill="#f59047"/>
<rect x="252" y="50" width="4" height="4.5" fill="#f2874e"/>
<rect x="112" y="54" width="4" height="4.5" fill="#98588c"/>
<rect x="116" y="54" width="8" height="4.5" fill="#9a598b"/>
<rect x="124" y="54" width="4" height="4.5" fill="#96578d"/>
<rect x="128" y="54" width="4" height="4.5" fill="#93578e"/>
<rect x="132" y="54" width="4" height="4.5" fill="#92568f"/>
<rect x="136" y="54" width="4" height="4.5" fill="#99598c"/>
<rect x="140" y="54" width="4" height="4.5" fill="#aa5e85"/>
<rect x="144" y="54" width="4" height="4.5" fill="#bc637e"/>
<rect x="148" y="54" width="4" height="4.5" fill="#ca6975"/>
<rect x="152" y="54" width="4" height="4.5" fill="#d76e6d"/>
<rect x="156" y="54" width="4" height="4.5" fill="#de7266"/>
<rect x="160" y="54" width="4" height="4.5" fill="#e17464"/>
<rect x="164" y="54" width="4" height="4.5" fill="#e5785e"/>
<rect x="168" y="54" width="4" height="4.5" fill="#ed7f55"/>
<rect x="172" y="54" width="4" height="4.5" fill="#ed8055"/>
<rect x="176" y="54" width="4" height="4.5" fill="#ea7d59"/>
<rect x="180" y="54" width="4" height="4.5" fill="#f08351"/>
<rect x="184" y="54" width="4" height="4.5" fill="#f3894d"/>
<rect x="188" y="54" width="4" height="4.5" fill="#f48b4b"/>
<rect x="192" y="54" width="4" height="4.5" fill="#f3894d"/>
<rect x="196" y="54" width="4" height="4.5" fill="#ef8153"/>
<rect x="200" y="54" width="4" height="4.5" fill="#ed7f56"/>
<rect x="204" y="54" width="4" height="4.5" fill="#ed7f55"/>
<rect x="208" y="54" width="4" height="4.5" fill="#f38a4b"/>
<rect x="212" y="54" width="4" height="4.5" fill="#f69146"/>
<rect x="216" y="54" width="4" height="4.5" fill="#f58e49"/>
<rect x="220" y="54" width="4" height="4.5" fill="#f48d49"/>
<rect x="224" y="54" width="4" height="4.5" fill="#f58f47"/>
<rect x="228" y="54" width="4" height="4.5" fill="#f59047"/>
<rect x="232" y="54" width="4" height="4.5" fill="#f58f47"/>
<rect x="236" y="54" width="4" height="4.5" fill="#f99940"/>
<rect x="240" y="54" width="4" height="4.5" fill="#faa03e"/>
<rect x="244" y="54" width="4" height="4.5" fill="#f89642"/>
<rect x="248" y="54" width="4" height="4.5" fill="#f69047"/>
<rect x="252" y="54" width="4" height="4.5" fill="#f48c4a"/>
<rect x="256" y="54" width="4" height="4.5" fill="#f58e48"/>
<rect x="108" y="58" width="8" height="4.5" fill="#a15b89"/>
<rect x="116" y="58" width="4" height="4.5" fill="#9a598c"/>
<rect x="120" y="58" width="4" height="4.5" fill="#90568f"/>
<rect x="124" y="58" width="4" height="4.5" fill="#8f568f"/>
<rect x="128" y="58" width="4" height="4.5" fill="#91568f"/>
<rect x="132" y="58" width="4" height="4.5" fill="#95578d"/>
<rect x="136" y="58" width="4" height="4.5" fill="#9f5a89"/>
<rect x="140" y="58" width="4" height="4.5" fill="#af5f83"/>
<rect x="144" y="58" width="4" height="4.5" fill="#b46181"/>
<rect x="148" y="58" width="4" height="4.5" fill="#b66180"/>
<rect x="152" y="58" width="4" height="4.5" fill="#ca6975"/>
<rect x="156" y="58" width="4" height="4.5" fill="#d76e6c"/>
<rect x="160" y="58" width="4" height="4.5" fill="#da6f6b"/>
<rect x="164" y="58" width="4" height="4.5" fill="#e17463"/>
<rect x="168" y="58" width="8" height="4.5" fill="#ed7f55"/>
<rect x="176" y="58" width="4" height="4.5" fill="#e77a5c"/>
<rect x="180" y="58" width="4" height="4.5" fill="#ed8055"/>
<rect x="184" y="58" width="4" height="4.5" fill="#f1854f"/>
<rect x="188" y="58" width="4" height="4.5" fill="#f48b4b"/>
<rect x="192" y="58" width="4" height="4.5" fill="#f2884d"/>
<rect x="196" y="58" width="4" height="4.5" fill="#eb7d58"/>
<rect x="200" y="58" width="4" height="4.5" fill="#e87b5b"/>
<rect x="204" y="58" width="4" height="4.5" fill="#eb7d58"/>
<rect x="208" y="58" width="4" height="4.5" fill="#f2874e"/>
<rect x="212" y="58" width="4" height="4.5" fill="#f58f48"/>
<rect x="216" y="58" width="4" height="4.5" fill="#f69047"/>
<rect x="220" y="58" width="4" height="4.5" fill="#f58e49"/>
<rect x="224" y="58" width="4" height="4.5" fill="#f2884d"/>
<rect x="228" y="58" width="4" height="4.5" fill="#f58e48"/>
<rect x="232" y="58" width="4" height="4.5" fill="#f99841"/>
<rect x="236" y="58" width="4" height="4.5" fill="#faa33e"/>
<rect x="240" y="58" width="4" height="4.5" fill="#faa83d"/>
<rect x="244" y="58" width="4" height="4.5" fill="#f89642"/>
<rect x="248" y="58" width="4" height="4.5" fill="#f58f47"/>
<rect x="252" y="58" width="4" height="4.5" fill="#f58f48"/>
<rect x="256" y="58" width="4" height="4.5" fill="#f38a4c"/>
<rect x="260" y="58" width="4" height="4.5" fill="#f18451"/>
<rect x="264" y="58" width="4" height="4.5" fill="#f38a4c"/>
<rect x="108" y="62" width="4" height="4.5" fill="#a55c87"/>
<rect x="112" y="62" width="4" height="4.5" fill="#95578d"/>
<rect x="116" y="62" width="4" height="4.5" fill="#91568f"/>
<rect x="120" y="62" width="4" height="4.5" fill="#92568e"/>
<rect x="124" y="62" width="8" height="4.5" fill="#8e5590"/>
<rect x="132" y="62" width="4" height="4.5" fill="#99588c"/>
<rect x="136" y="62" width="4" height="4.5" fill="#a85d86"/>
<rect x="140" y="62" width="4" height="4.5" fill="#bb637e"/>
<rect x="144" y="62" width="4" height="4.5" fill="#bd647d"/>
<rect x="148" y="62" width="4" height="4.5" fill="#bb637e"/>
<rect x="152" y="62" width="4" height="4.5" fill="#c66778"/>
<rect x="156" y="62" width="4" height="4.5" fill="#ce6a73"/>
<rect x="160" y="62" width="4" height="4.5" fill="#d36c6f"/>
<rect x="164" y="62" width="4" height="4.5" fill="#dc7069"/>
<rect x="168" y="62" width="4" height="4.5" fill="#e87b5c"/>
<rect x="172" y="62" width="4" height="4.5" fill="#eb7d58"/>
<rect x="176" y="62" width="4" height="4.5" fill="#ea7d59"/>
<rect x="180" y="62" width="8" height="4.5" fill="#e97c5a"/>
<rect x="188" y="62" width="4" height="4.5" fill="#ef8153"/>
<rect x="192" y="62" width="4" height="4.5" fill="#ed7f55"/>
<rect x="196" y="62" width="4" height="4.5" fill="#e47760"/>
<rect x="200" y="62" width="4" height="4.5" fill="#e5785e"/>
<rect x="204" y="62" width="4" height="4.5" fill="#ec7f56"/>
<rect x="208" y="62" width="4" height="4.5" fill="#f18550"/>
<rect x="212" y="62" width="4" height="4.5" fill="#f58e48"/>
<rect x="216" y="62" width="4" height="4.5" fill="#f79444"/>
<rect x="220" y="62" width="4" height="4.5" fill="#f79345"/>
<rect x="224" y="62" width="4" height="4.5" fill="#f48b4b"/>
<rect x="228" y="62" width="4" height="4.5" fill="#f69047"/>
<rect x="232" y="62" width="4" height="4.5" fill="#f99841"/>
<rect x="236" y="62" width="4" height="4.5" fill="#f99840"/>
<rect x="240" y="62" width="4" height="4.5" fill="#f89742"/>
<rect x="244" y="62" width="4" height="4.5" fill="#f69146"/>
<rect x="248" y="62" width="4" height="4.5" fill="#f58d49"/>
<rect x="252" y="62" width="4" height="4.5" fill="#f48d49"/>
<rect x="256" y="62" width="4" height="4.5" fill="#f2884d"/>
<rect x="260" y="62" width="8" height="4.5" fill="#ef8153"/>
<rect x="268" y="62" width="4" height="4.5" fill="#f08252"/>
<rect x="108" y="66" width="4" height="4.5" fill="#b06083"/>
<rect x="112" y="66" width="4" height="4.5" fill="#9b598b"/>
<rect x="116" y="66" width="8" height="4.5" fill="#94578e"/>
<rect x="124" y="66" width="4" height="4.5" fill="#8f5590"/>
<rect x="128" y="66" width="4" height="4.5" fill="#8e5590"/>
<rect x="132" y="66" width="4" height="4.5" fill="#96588d"/>
<rect x="136" y="66" width="4" height="4.5" fill="#a35c88"/>
<rect x="140" y="66" width="4" height="4.5" fill="#b46181"/>
<rect x="144" y="66" width="4" height="4.5" fill="#b8627f"/>
<rect x="148" y="66" width="4" height="4.5" fill="#ba637f"/>
<rect x="152" y="66" width="4" height="4.5" fill="#c3667a"/>
<rect x="156" y="66" width="4" height="4.5" fill="#ca6975"/>
<rect x="160" y="66" width="4" height="4.5" fill="#ce6a73"/>
<rect x="164" y="66" width="4" height="4.5" fill="#d76e6c"/>
<rect x="168" y="66" width="4" height="4.5" fill="#e5785f"/>
<rect x="172" y="66" width="4" height="4.5" fill="#ea7c59"/>
<rect x="176" y="66" width="4" height="4.5" fill="#ea7d59"/>
<rect x="180" y="66" width="4" height="4.5" fill="#e6795d"/>
<rect x="184" y="66" width="4" height="4.5" fill="#e5785f"/>
<rect x="188" y="66" width="4" height="4.5" fill="#eb7e57"/>
<rect x="192" y="66" width="4" height="4.5" fill="#ea7d59"/>
<rect x="196" y="66" width="4" height="4.5" fill="#e07464"/>
<rect x="200" y="66" width="4" height="4.5" fill="#e37661"/>
<rect x="204" y="66" width="4" height="4.5" fill="#eb7e58"/>
<rect x="208" y="66" width="4" height="4.5" fill="#ea7c59"/>
<rect x="212" y="66" width="4" height="4.5" fill="#f08253"/>
<rect x="216" y="66" width="4" height="4.5" fill="#f58e48"/>
<rect x="220" y="66" width="4" height="4.5" fill="#f69245"/>
<rect x="224" y="66" width="4" height="4.5" fill="#f48d49"/>
<rect x="228" y="66" width="4" height="4.5" fill="#f58f48"/>
<rect x="232" y="66" width="8" height="4.5" fill="#f79344"/>
<rect x="240" y="66" width="4" height="4.5" fill="#f69246"/>
<rect x="244" y="66" width="4" height="4.5" fill="#f58e48"/>
<rect x="248" y="66" width="4" height="4.5" fill="#f48d49"/>
<rect x="252" y="66" width="4" height="4.5" fill="#f58e48"/>
<rect x="256" y="66" width="4" height="4.5" fill="#f3894c"/>
<rect x="260" y="66" width="4" height="4.5" fill="#f08252"/>
<rect x="264" y="66" width="4" height="4.5" fill="#ec7f56"/>
<rect x="268" y="66" width="4" height="4.5" fill="#eb7e57"/>
<rect x="272" y="66" width="4" height="4.5" fill="#f2864f"/>
<rect x="108" y="70" width="4" height="4.5" fill="#c1657b"/>
<rect x="112" y="70" width="4" height="4.5" fill="#b16082"/>
<rect x="116" y="70" width="4" height="4.5" fill="#a35b88"/>
<rect x="120" y="70" width="4" height="4.5" fill="#98588c"/>
<rect x="124" y="70" width="4" height="4.5" fill="#93578e"/>
<rect x="128" y="70" width="4" height="4.5" fill="#92568e"/>
<rect x="132" y="70" width="4" height="4.5" fill="#8f568f"/>
<rect x="136" y="70" width="4" height="4.5" fill="#93578e"/>
<rect x="140" y="70" width="4" height="4.5" fill="#99598c"/>
<rect x="144" y="70" width="4" height="4.5" fill="#a65c87"/>
<rect x="148" y="70" width="4" height="4.5" fill="#b46181"/>
<rect x="152" y="70" width="4" height="4.5" fill="#c3667a"/>
<rect x="156" y="70" width="4" height="4.5" fill="#cd6a73"/>
<rect x="160" y="70" width="4" height="4.5" fill="#ca6975"/>
<rect x="164" y="70" width="4" height="4.5" fill="#d46d6f"/>
<rect x="168" y="70" width="4" height="4.5" fill="#e5785f"/>
<rect x="172" y="70" width="4" height="4.5" fill="#e97b5a"/>
<rect x="176" y="70" width="4" height="4.5" fill="#e77a5c"/>
<rect x="180" y="70" width="8" height="4.5" fill="#e5785e"/>
<rect x="188" y="70" width="4" height="4.5" fill="#ed7f55"/>
<rect x="192" y="70" width="4" height="4.5" fill="#ec7e57"/>
<rect x="196" y="70" width="4" height="4.5" fill="#e17464"/>
<rect x="200" y="70" width="4" height="4.5" fill="#e27562"/>
<rect x="204" y="70" width="4" height="4.5" fill="#e87b5b"/>
<rect x="208" y="70" width="4" height="4.5" fill="#de7266"/>
<rect x="212" y="70" width="4" height="4.5" fill="#dd7167"/>
<rect x="216" y="70" width="4" height="4.5" fill="#ec7f56"/>
<rect x="220" y="70" width="4" height="4.5" fill="#f3894c"/>
<rect x="224" y="70" width="8" height="4.5" fill="#f48b4b"/>
<rect x="232" y="70" width="4" height="4.5" fill="#f38a4b"/>
<rect x="236" y="70" width="4" height="4.5" fill="#f69146"/>
<rect x="240" y="70" width="4" height="4.5" fill="#f79443"/>
<rect x="244" y="70" width="4" height="4.5" fill="#f58f47"/>
<rect x="248" y="70" width="4" height="4.5" fill="#f58f48"/>
<rect x="252" y="70" width="4" height="4.5" fill="#f69245"/>
<rect x="256" y="70" width="4" height="4.5" fill="#f58e48"/>
<rect x="260" y="70" width="4" height="4.5" fill="#f2884e"/>
<rect x="264" y="70" width="4" height="4.5" fill="#ee8054"/>
<rect x="268" y="70" width="4" height="4.5" fill="#ea7d59"/>
<rect x="272" y="70" width="4" height="4.5" fill="#ef8153"/>
<rect x="276" y="70" width="4" height="4.5" fill="#f08351"/>
<rect x="96" y="74" width="4" height="4.5" fill="#cf6b72"/>
<rect x="100" y="74" width="8" height="4.5" fill="#d46d6e"/>
<rect x="108" y="74" width="4" height="4.5" fill="#cd6a73"/>
<rect x="112" y="74" width="4" height="4.5" fill="#be647d"/>
<rect x="116" y="74" width="4" height="4.5" fill="#ae5f84"/>
<rect x="120" y="74" width="4" height="4.5" fill="#9e5a8a"/>
<rect x="124" y="74" width="4" height="4.5" fill="#9a598b"/>
<rect x="128" y="74" width="4" height="4.5" fill="#9b598b"/>
<rect x="132" y="74" width="4" height="4.5" fill="#9e5a8a"/>
<rect x="136" y="74" width="4" height="4.5" fill="#9d5a8b"/>
<rect x="140" y="74" width="4" height="4.5" fill="#92568e"/>
<rect x="144" y="74" width="4" height="4.5" fill="#a25b89"/>
<rect x="148" y="74" width="4" height="4.5" fill="#b9627f"/>
<rect x="152" y="74" width="4" height="4.5" fill="#bf647c"/>
<rect x="156" y="74" width="4" height="4.5" fill="#c66777"/>
<rect x="160" y="74" width="4" height="4.5" fill="#ce6a72"/>
<rect x="164" y="74" width="4" height="4.5" fill="#d96f6b"/>
<rect x="168" y="74" width="4" height="4.5" fill="#e27662"/>
<rect x="172" y="74" width="4" height="4.5" fill="#e6795d"/>
<rect x="176" y="74" width="4" height="4.5" fill="#e77a5c"/>
<rect x="180" y="74" width="4" height="4.5" fill="#e47760"/>
<rect x="184" y="74" width="4" height="4.5" fill="#e27562"/>
<rect x="188" y="74" width="4" height="4.5" fill="#e77a5d"/>
<rect x="192" y="74" width="4" height="4.5" fill="#e77a5c"/>
<rect x="196" y="74" width="4" height="4.5" fill="#e47760"/>
<rect x="200" y="74" width="4" height="4.5" fill="#e27662"/>
<rect x="204" y="74" width="4" height="4.5" fill="#e37760"/>
<rect x="208" y="74" width="4" height="4.5" fill="#d86e6c"/>
<rect x="212" y="74" width="4" height="4.5" fill="#d36c6f"/>
<rect x="216" y="74" width="4" height="4.5" fill="#df7266"/>
<rect x="220" y="74" width="4" height="4.5" fill="#e87b5b"/>
<rect x="224" y="74" width="4" height="4.5" fill="#ed7f55"/>
<rect x="228" y="74" width="4" height="4.5" fill="#f18450"/>
<rect x="232" y="74" width="4" height="4.5" fill="#f3884d"/>
<rect x="236" y="74" width="4" height="4.5" fill="#f58e48"/>
<rect x="240" y="74" width="4" height="4.5" fill="#f69245"/>
<rect x="244" y="74" width="4" height="4.5" fill="#f58e48"/>
<rect x="248" y="74" width="4" height="4.5" fill="#f48d49"/>
<rect x="252" y="74" width="4" height="4.5" fill="#f58e48"/>
<rect x="256" y="74" width="4" height="4.5" fill="#f3894c"/>
<rect x="260" y="74" width="4" height="4.5" fill="#f08252"/>
<rect x="264" y="74" width="4" height="4.5" fill="#ed8055"/>
<rect x="268" y="74" width="4" height="4.5" fill="#ec7f56"/>
<rect x="272" y="74" width="4" height="4.5" fill="#ee8054"/>
<rect x="276" y="74" width="4" height="4.5" fill="#f08351"/>
<rect x="316" y="74" width="4" height="4.5" fill="#f8cb42"/>
<rect x="320" y="74" width="4" height="4.5" fill="#fabe3c"/>
<rect x="92" y="78" width="4" height="4.5" fill="#c2657b"/>
<rect x="96" y="78" width="4" height="4.5" fill="#d16c70"/>
<rect x="100" y="78" width="4" height="4.5" fill="#dc7068"/>
<rect x="104" y="78" width="4" height="4.5" fill="#dd7168"/>
<rect x="108" y="78" width="4" height="4.5" fill="#d66d6d"/>
<rect x="112" y="78" width="4" height="4.5" fill="#c56779"/>
<rect x="116" y="78" width="4" height="4.5" fill="#b76280"/>
<rect x="120" y="78" width="4" height="4.5" fill="#a75d86"/>
<rect x="124" y="78" width="4" height="4.5" fill="#a55c87"/>
<rect x="128" y="78" width="4" height="4.5" fill="#aa5e85"/>
<rect x="132" y="78" width="4" height="4.5" fill="#b9627f"/>
<rect x="136" y="78" width="4" height="4.5" fill="#b46181"/>
<rect x="140" y="78" width="4" height="4.5" fill="#97588d"/>
<rect x="144" y="78" width="4" height="4.5" fill="#a85d86"/>
<rect x="148" y="78" width="4" height="4.5" fill="#c66778"/>
<rect x="152" y="78" width="4" height="4.5" fill="#bf657c"/>
<rect x="156" y="78" width="4" height="4.5" fill="#c1657b"/>
<rect x="160" y="78" width="4" height="4.5" fill="#d76e6c"/>
<rect x="164" y="78" width="4" height="4.5" fill="#e07365"/>
<rect x="168" y="78" width="4" height="4.5" fill="#dd7168"/>
<rect x="172" y="78" width="4" height="4.5" fill="#e27662"/>
<rect x="176" y="78" width="4" height="4.5" fill="#e87b5b"/>
<rect x="180" y="78" width="4" height="4.5" fill="#e27562"/>
<rect x="184" y="78" width="8" height="4.5" fill="#dd7168"/>
<rect x="192" y="78" width="4" height="4.5" fill="#e07464"/>
<rect x="196" y="78" width="4" height="4.5" fill="#e87b5b"/>
<rect x="200" y="78" width="4" height="4.5" fill="#e4785f"/>
<rect x="204" y="78" width="4" height="4.5" fill="#df7366"/>
<rect x="208" y="78" width="4" height="4.5" fill="#d76e6d"/>
<rect x="212" y="78" width="4" height="4.5" fill="#d16c70"/>
<rect x="216" y="78" width="4" height="4.5" fill="#d36c6f"/>
<rect x="220" y="78" width="4" height="4.5" fill="#d86f6b"/>
<rect x="224" y="78" width="4" height="4.5" fill="#de7266"/>
<rect x="228" y="78" width="4" height="4.5" fill="#ea7d59"/>
<rect x="232" y="78" width="4" height="4.5" fill="#f2884d"/>
<rect x="236" y="78" width="4" height="4.5" fill="#f48c4a"/>
<rect x="240" y="78" width="4" height="4.5" fill="#f48d49"/>
<rect x="244" y="78" width="4" height="4.5" fill="#f48c4a"/>
<rect x="248" y="78" width="4" height="4.5" fill="#f38b4b"/>
<rect x="252" y="78" width="4" height="4.5" fill="#f3894d"/>
<rect x="256" y="78" width="4" height="4.5" fill="#f08252"/>
<rect x="260" y="78" width="4" height="4.5" fill="#e97b5b"/>
<rect x="264" y="78" width="4" height="4.5" fill="#ec7f56"/>
<rect x="268" y="78" width="8" height="4.5" fill="#ef8153"/>
<rect x="276" y="78" width="4" height="4.5" fill="#f18550"/>
<rect x="304" y="78" width="4" height="4.5" fill="#fab63c"/>
<rect x="308" y="78" width="8" height="4.5" fill="#fac03d"/>
<rect x="316" y="78" width="4" height="4.5" fill="#fabb3c"/>
<rect x="320" y="78" width="8" height="4.5" fill="#faba3c"/>
<rect x="328" y="78" width="4" height="4.5" fill="#f9c13e"/>
<rect x="332" y="78" width="4" height="4.5" fill="#fabe3c"/>
<rect x="88" y="82" width="4" height="4.5" fill="#c86876"/>
<rect x="92" y="82" width="4" height="4.5" fill="#ca6975"/>
<rect x="96" y="82" width="4" height="4.5" fill="#cd6a73"/>
<rect x="100" y="82" width="4" height="4.5" fill="#d06b71"/>
<rect x="104" y="82" width="8" height="4.5" fill="#d76e6c"/>
<rect x="112" y="82" width="4" height="4.5" fill="#d06b71"/>
<rect x="116" y="82" width="4" height="4.5" fill="#c86876"/>
<rect x="120" y="82" width="4" height="4.5" fill="#bf657c"/>
<rect x="124" y="82" width="4" height="4.5" fill="#b9637f"/>
<rect x="128" y="82" width="4" height="4.5" fill="#b9627f"/>
<rect x="132" y="82" width="4" height="4.5" fill="#c36679"/>
<rect x="136" y="82" width="4" height="4.5" fill="#c2657b"/>
<rect x="140" y="82" width="4" height="4.5" fill="#ae5f83"/>
<rect x="144" y="82" width="4" height="4.5" fill="#bc637e"/>
<rect x="148" y="82" width="4" height="4.5" fill="#d16c70"/>
<rect x="152" y="82" width="4" height="4.5" fill="#ce6a72"/>
<rect x="156" y="82" width="4" height="4.5" fill="#ce6b72"/>
<rect x="160" y="82" width="4" height="4.5" fill="#d86e6c"/>
<rect x="164" y="82" width="4" height="4.5" fill="#dd7168"/>
<rect x="168" y="82" width="4" height="4.5" fill="#de7266"/>
<rect x="172" y="82" width="4" height="4.5" fill="#e27662"/>
<rect x="176" y="82" width="4" height="4.5" fill="#e47760"/>
<rect x="180" y="82" width="4" height="4.5" fill="#e37661"/>
<rect x="184" y="82" width="4" height="4.5" fill="#e17464"/>
<rect x="188" y="82" width="4" height="4.5" fill="#e17563"/>
<rect x="192" y="82" width="4" height="4.5" fill="#e27562"/>
<rect x="196" y="82" width="4" height="4.5" fill="#e37661"/>
<rect x="200" y="82" width="4" height="4.5" fill="#e07365"/>
<rect x="204" y="82" width="4" height="4.5" fill="#dc7069"/>
<rect x="208" y="82" width="4" height="4.5" fill="#d26c70"/>
<rect x="212" y="82" width="4" height="4.5" fill="#cd6a73"/>
<rect x="216" y="82" width="4" height="4.5" fill="#d76e6c"/>
<rect x="220" y="82" width="4" height="4.5" fill="#e07365"/>
<rect x="224" y="82" width="4" height="4.5" fill="#e77a5c"/>
<rect x="228" y="82" width="4" height="4.5" fill="#f08351"/>
<rect x="232" y="82" width="4" height="4.5" fill="#f58d49"/>
<rect x="236" y="82" width="4" height="4.5" fill="#f58e48"/>
<rect x="240" y="82" width="4" height="4.5" fill="#f48c4a"/>
<rect x="244" y="82" width="4" height="4.5" fill="#f18450"/>
<rect x="248" y="82" width="4" height="4.5" fill="#f18451"/>
<rect x="252" y="82" width="4" height="4.5" fill="#f38b4b"/>
<rect x="256" y="82" width="4" height="4.5" fill="#f1854f"/>
<rect x="260" y="82" width="4" height="4.5" fill="#ec7e57"/>
<rect x="264" y="82" width="4" height="4.5" fill="#e6795e"/>
<rect x="268" y="82" width="4" height="4.5" fill="#e47760"/>
<rect x="272" y="82" width="4" height="4.5" fill="#ec7e57"/>
<rect x="276" y="82" width="4" height="4.5" fill="#ef8153"/>
<rect x="292" y="82" width="8" height="4.5" fill="#fab53d"/>
<rect x="300" y="82" width="4" height="4.5" fill="#fac03d"/>
<rect x="304" y="82" width="4" height="4.5" fill="#f9c43f"/>
<rect x="308" y="82" width="4" height="4.5" fill="#fabf3d"/>
<rect x="312" y="82" width="4" height="4.5" fill="#fac13d"/>
<rect x="316" y="82" width="4" height="4.5" fill="#f9c43f"/>
<rect x="320" y="82" width="4" height="4.5" fill="#f7ce44"/>
<rect x="324" y="82" width="4" height="4.5" fill="#f6d547"/>
<rect x="328" y="82" width="4" height="4.5" fill="#f6d648"/>
<rect x="332" y="82" width="4" height="4.5" fill="#f7cd44"/>
<rect x="336" y="82" width="8" height="4.5" fill="#fabb3c"/>
<rect x="84" y="86" width="4" height="4.5" fill="#c76877"/>
<rect x="88" y="86" width="4" height="4.5" fill="#c96975"/>
<rect x="92" y="86" width="4" height="4.5" fill="#cd6a73"/>
<rect x="96" y="86" width="4" height="4.5" fill="#c86876"/>
<rect x="100" y="86" width="4" height="4.5" fill="#c86877"/>
<rect x="104" y="86" width="4" height="4.5" fill="#d36c6f"/>
<rect x="108" y="86" width="4" height="4.5" fill="#d86f6b"/>
<rect x="112" y="86" width="4" height="4.5" fill="#d86e6c"/>
<rect x="116" y="86" width="4" height="4.5" fill="#d46d6e"/>
<rect x="120" y="86" width="4" height="4.5" fill="#ce6b72"/>
<rect x="124" y="86" width="4" height="4.5" fill="#c96975"/>
<rect x="128" y="86" width="4" height="4.5" fill="#c86877"/>
<rect x="132" y="86" width="4" height="4.5" fill="#cf6b72"/>
<rect x="136" y="86" width="4" height="4.5" fill="#cd6a73"/>
<rect x="140" y="86" width="4" height="4.5" fill="#bf647c"/>
<rect x="144" y="86" width="4" height="4.5" fill="#c86876"/>
<rect x="148" y="86" width="12" height="4.5" fill="#d86e6c"/>
<rect x="160" y="86" width="4" height="4.5" fill="#d96f6b"/>
<rect x="164" y="86" width="4" height="4.5" fill="#dc7069"/>
<rect x="168" y="86" width="4" height="4.5" fill="#e07464"/>
<rect x="172" y="86" width="4" height="4.5" fill="#e27562"/>
<rect x="176" y="86" width="4" height="4.5" fill="#e17563"/>
<rect x="180" y="86" width="4" height="4.5" fill="#e37661"/>
<rect x="184" y="86" width="4" height="4.5" fill="#e37662"/>
<rect x="188" y="86" width="4" height="4.5" fill="#e47760"/>
<rect x="192" y="86" width="4" height="4.5" fill="#e37661"/>
<rect x="196" y="86" width="4" height="4.5" fill="#e07365"/>
<rect x="200" y="86" width="4" height="4.5" fill="#dd7168"/>
<rect x="204" y="86" width="4" height="4.5" fill="#d96f6b"/>
<rect x="208" y="86" width="4" height="4.5" fill="#d06b71"/>
<rect x="212" y="86" width="4" height="4.5" fill="#ce6a72"/>
<rect x="216" y="86" width="4" height="4.5" fill="#de7167"/>
<rect x="220" y="86" width="4" height="4.5" fill="#e87b5b"/>
<rect x="224" y="86" width="4" height="4.5" fill="#f08252"/>
<rect x="228" y="86" width="4" height="4.5" fill="#f2884d"/>
<rect x="232" y="86" width="4" height="4.5" fill="#f48d4a"/>
<rect x="236" y="86" width="4" height="4.5" fill="#f48d49"/>
<rect x="240" y="86" width="4" height="4.5" fill="#f3894c"/>
<rect x="244" y="86" width="4" height="4.5" fill="#ed8055"/>
<rect x="248" y="86" width="4" height="4.5" fill="#ee8055"/>
<rect x="252" y="86" width="4" height="4.5" fill="#f48b4b"/>
<rect x="256" y="86" width="4" height="4.5" fill="#f2874e"/>
<rect x="260" y="86" width="4" height="4.5" fill="#ed7f55"/>
<rect x="264" y="86" width="4" height="4.5" fill="#e37661"/>
<rect x="268" y="86" width="4" height="4.5" fill="#de7266"/>
<rect x="272" y="86" width="4" height="4.5" fill="#e97c5a"/>
<rect x="276" y="86" width="4" height="4.5" fill="#ec7e57"/>
<rect x="288" y="86" width="4" height="4.5" fill="#faa03e"/>
<rect x="292" y="86" width="4" height="4.5" fill="#faab3d"/>
<rect x="296" y="86" width="4" height="4.5" fill="#fab63c"/>
<rect x="300" y="86" width="4" height="4.5" fill="#f8cc43"/>
<rect x="304" y="86" width="4" height="4.5" fill="#f7ce44"/>
<rect x="308" y="86" width="4" height="4.5" fill="#fabb3c"/>
<rect x="312" y="86" width="4" height="4.5" fill="#fabe3c"/>
<rect x="316" y="86" width="4" height="4.5" fill="#f9c640"/>
<rect x="320" y="86" width="4" height="4.5" fill="#f6d849"/>
<rect x="324" y="86" width="4" height="4.5" fill="#f2e44f"/>
<rect x="328" y="86" width="4" height="4.5" fill="#f4df4c"/>
<rect x="332" y="86" width="4" height="4.5" fill="#f7d246"/>
<rect x="336" y="86" width="4" height="4.5" fill="#fabc3c"/>
<rect x="340" y="86" width="4" height="4.5" fill="#fab83c"/>
<rect x="344" y="86" width="4" height="4.5" fill="#fab93c"/>
<rect x="84" y="90" width="4" height="4.5" fill="#c46679"/>
<rect x="88" y="90" width="4" height="4.5" fill="#c0657c"/>
<rect x="92" y="90" width="4" height="4.5" fill="#bb637e"/>
<rect x="96" y="90" width="4" height="4.5" fill="#c3667a"/>
<rect x="100" y="90" width="4" height="4.5" fill="#cc6a74"/>
<rect x="104" y="90" width="4" height="4.5" fill="#d76e6d"/>
<rect x="108" y="90" width="4" height="4.5" fill="#dc7069"/>
<rect x="112" y="90" width="4" height="4.5" fill="#db6f6a"/>
<rect x="116" y="90" width="4" height="4.5" fill="#d76e6c"/>
<rect x="120" y="90" width="4" height="4.5" fill="#d16c70"/>
<rect x="124" y="90" width="4" height="4.5" fill="#d26c70"/>
<rect x="128" y="90" width="4" height="4.5" fill="#d56d6e"/>
<rect x="132" y="90" width="4" height="4.5" fill="#db6f6a"/>
<rect x="136" y="90" width="4" height="4.5" fill="#d46d6e"/>
<rect x="140" y="90" width="4" height="4.5" fill="#bf657c"/>
<rect x="144" y="90" width="4" height="4.5" fill="#c76877"/>
<rect x="148" y="90" width="4" height="4.5" fill="#d76e6c"/>
<rect x="152" y="90" width="4" height="4.5" fill="#d96f6b"/>
<rect x="156" y="90" width="4" height="4.5" fill="#db706a"/>
<rect x="160" y="90" width="4" height="4.5" fill="#dc7069"/>
<rect x="164" y="90" width="4" height="4.5" fill="#de7266"/>
<rect x="168" y="90" width="4" height="4.5" fill="#e47760"/>
<rect x="172" y="90" width="4" height="4.5" fill="#e5785e"/>
<rect x="176" y="90" width="4" height="4.5" fill="#e6795e"/>
<rect x="180" y="90" width="4" height="4.5" fill="#e47760"/>
<rect x="184" y="90" width="4" height="4.5" fill="#e17563"/>
<rect x="188" y="90" width="8" height="4.5" fill="#e17464"/>
<rect x="196" y="90" width="4" height="4.5" fill="#e17463"/>
<rect x="200" y="90" width="4" height="4.5" fill="#dd7068"/>
<rect x="204" y="90" width="8" height="4.5" fill="#d66d6d"/>
<rect x="212" y="90" width="4" height="4.5" fill="#d96f6b"/>
<rect x="216" y="90" width="4" height="4.5" fill="#e37661"/>
<rect x="220" y="90" width="4" height="4.5" fill="#eb7e58"/>
<rect x="224" y="90" width="4" height="4.5" fill="#f1864f"/>
<rect x="228" y="90" width="4" height="4.5" fill="#f18451"/>
<rect x="232" y="90" width="4" height="4.5" fill="#ed8055"/>
<rect x="236" y="90" width="4" height="4.5" fill="#f08351"/>
<rect x="240" y="90" width="4" height="4.5" fill="#f18451"/>
<rect x="244" y="90" width="4" height="4.5" fill="#ee8154"/>
<rect x="248" y="90" width="4" height="4.5" fill="#ef8153"/>
<rect x="252" y="90" width="4" height="4.5" fill="#f2884e"/>
<rect x="256" y="90" width="4" height="4.5" fill="#f08252"/>
<rect x="260" y="90" width="4" height="4.5" fill="#e87b5b"/>
<rect x="264" y="90" width="8" height="4.5" fill="#ea7d59"/>
<rect x="272" y="90" width="4" height="4.5" fill="#e6795d"/>
<rect x="276" y="90" width="4" height="4.5" fill="#e87a5c"/>
<rect x="280" y="90" width="4" height="4.5" fill="#f2884e"/>
<rect x="288" y="90" width="4" height="4.5" fill="#faab3d"/>
<rect x="292" y="90" width="4" height="4.5" fill="#fab73c"/>
<rect x="296" y="90" width="4" height="4.5" fill="#f9c23e"/>
<rect x="300" y="90" width="4" height="4.5" fill="#f7cd44"/>
<rect x="304" y="90" width="4" height="4.5" fill="#f9c640"/>
<rect x="308" y="90" width="8" height="4.5" fill="#fab03d"/>
<rect x="316" y="90" width="4" height="4.5" fill="#fab73c"/>
<rect x="320" y="90" width="4" height="4.5" fill="#f9c540"/>
<rect x="324" y="90" width="4" height="4.5" fill="#f7ce44"/>
<rect x="328" y="90" width="4" height="4.5" fill="#f9c33e"/>
<rect x="332" y="90" width="4" height="4.5" fill="#fab73c"/>
<rect x="336" y="90" width="4" height="4.5" fill="#faaa3d"/>
<rect x="340" y="90" width="4" height="4.5" fill="#fab33d"/>
<rect x="344" y="90" width="4" height="4.5" fill="#f9c43f"/>
<rect x="80" y="94" width="4" height="4.5" fill="#c56778"/>
<rect x="84" y="94" width="4" height="4.5" fill="#c46779"/>
<rect x="88" y="94" width="4" height="4.5" fill="#c2657b"/>
<rect x="92" y="94" width="4" height="4.5" fill="#be647d"/>
<rect x="96" y="94" width="4" height="4.5" fill="#c66778"/>
<rect x="100" y="94" width="4" height="4.5" fill="#cd6a73"/>
<rect x="104" y="94" width="4" height="4.5" fill="#d36d6f"/>
<rect x="108" y="94" width="4" height="4.5" fill="#d86e6c"/>
<rect x="112" y="94" width="4" height="4.5" fill="#da6f6a"/>
<rect x="116" y="94" width="4" height="4.5" fill="#d96f6b"/>
<rect x="120" y="94" width="4" height="4.5" fill="#d66d6d"/>
<rect x="124" y="94" width="4" height="4.5" fill="#d76e6d"/>
<rect x="128" y="94" width="4" height="4.5" fill="#d86e6c"/>
<rect x="132" y="94" width="4" height="4.5" fill="#da6f6a"/>
<rect x="136" y="94" width="4" height="4.5" fill="#d36c6f"/>
<rect x="140" y="94" width="4" height="4.5" fill="#c1657b"/>
<rect x="144" y="94" width="4" height="4.5" fill="#c96876"/>
<rect x="148" y="94" width="4" height="4.5" fill="#d86e6c"/>
<rect x="152" y="94" width="4" height="4.5" fill="#d76e6c"/>
<rect x="156" y="94" width="4" height="4.5" fill="#d86e6c"/>
<rect x="160" y="94" width="4" height="4.5" fill="#d96f6b"/>
<rect x="164" y="94" width="4" height="4.5" fill="#dd7168"/>
<rect x="168" y="94" width="4" height="4.5" fill="#e27562"/>
<rect x="172" y="94" width="4" height="4.5" fill="#e47760"/>
<rect x="176" y="94" width="4" height="4.5" fill="#e5785e"/>
<rect x="180" y="94" width="4" height="4.5" fill="#e27562"/>
<rect x="184" y="94" width="4" height="4.5" fill="#de7266"/>
<rect x="188" y="94" width="4" height="4.5" fill="#df7266"/>
<rect x="192" y="94" width="4" height="4.5" fill="#de7266"/>
<rect x="196" y="94" width="4" height="4.5" fill="#dd7167"/>
<rect x="200" y="94" width="4" height="4.5" fill="#d96f6b"/>
<rect x="204" y="94" width="4" height="4.5" fill="#d46d6e"/>
<rect x="208" y="94" width="4" height="4.5" fill="#d66e6d"/>
<rect x="212" y="94" width="4" height="4.5" fill="#dc7069"/>
<rect x="216" y="94" width="4" height="4.5" fill="#e5785f"/>
<rect x="220" y="94" width="4" height="4.5" fill="#ec7e57"/>
<rect x="224" y="94" width="4" height="4.5" fill="#f08252"/>
<rect x="228" y="94" width="4" height="4.5" fill="#ec7e57"/>
<rect x="232" y="94" width="4" height="4.5" fill="#e5785f"/>
<rect x="236" y="94" width="8" height="4.5" fill="#e77a5c"/>
<rect x="244" y="94" width="4" height="4.5" fill="#e5785f"/>
<rect x="248" y="94" width="4" height="4.5" fill="#e5785e"/>
<rect x="252" y="94" width="4" height="4.5" fill="#e97b5b"/>
<rect x="256" y="94" width="4" height="4.5" fill="#e37661"/>
<rect x="260" y="94" width="4" height="4.5" fill="#da6f6b"/>
<rect x="264" y="94" width="4" height="4.5" fill="#e17463"/>
<rect x="268" y="94" width="4" height="4.5" fill="#e5785f"/>
<rect x="272" y="94" width="4" height="4.5" fill="#e07365"/>
<rect x="276" y="94" width="4" height="4.5" fill="#e77a5c"/>
<rect x="280" y="94" width="4" height="4.5" fill="#f79444"/>
<rect x="284" y="94" width="4" height="4.5" fill="#faad3d"/>
<rect x="288" y="94" width="4" height="4.5" fill="#fab43d"/>
<rect x="292" y="94" width="4" height="4.5" fill="#fabc3c"/>
<rect x="296" y="94" width="4" height="4.5" fill="#f9c33f"/>
<rect x="300" y="94" width="4" height="4.5" fill="#f8cb42"/>
<rect x="304" y="94" width="4" height="4.5" fill="#f9c640"/>
<rect x="308" y="94" width="4" height="4.5" fill="#fab83c"/>
<rect x="312" y="94" width="4" height="4.5" fill="#fab43d"/>
<rect x="316" y="94" width="4" height="4.5" fill="#fab23d"/>
<rect x="320" y="94" width="4" height="4.5" fill="#faba3c"/>
<rect x="324" y="94" width="4" height="4.5" fill="#fabe3c"/>
<rect x="328" y="94" width="4" height="4.5" fill="#faba3c"/>
<rect x="332" y="94" width="4" height="4.5" fill="#fab33d"/>
<rect x="336" y="94" width="4" height="4.5" fill="#faa93d"/>
<rect x="340" y="94" width="4" height="4.5" fill="#fab43d"/>
<rect x="344" y="94" width="4" height="4.5" fill="#f9c740"/>
<rect x="80" y="98" width="4" height="4.5" fill="#c86876"/>
<rect x="84" y="98" width="4" height="4.5" fill="#c96975"/>
<rect x="88" y="98" width="4" height="4.5" fill="#cf6b72"/>
<rect x="92" y="98" width="4" height="4.5" fill="#d66e6d"/>
<rect x="96" y="98" width="4" height="4.5" fill="#cf6b71"/>
<rect x="100" y="98" width="4" height="4.5" fill="#ca6975"/>
<rect x="104" y="98" width="4" height="4.5" fill="#c96876"/>
<rect x="108" y="98" width="4" height="4.5" fill="#cd6a73"/>
<rect x="112" y="98" width="4" height="4.5" fill="#d56d6d"/>
<rect x="116" y="98" width="4" height="4.5" fill="#da6f6a"/>
<rect x="120" y="98" width="4" height="4.5" fill="#dd7168"/>
<rect x="124" y="98" width="4" height="4.5" fill="#d86e6c"/>
<rect x="128" y="98" width="4" height="4.5" fill="#d26c70"/>
<rect x="132" y="98" width="4" height="4.5" fill="#ce6a72"/>
<rect x="136" y="98" width="4" height="4.5" fill="#ca6975"/>
<rect x="140" y="98" width="4" height="4.5" fill="#c66778"/>
<rect x="144" y="98" width="4" height="4.5" fill="#cf6b72"/>
<rect x="148" y="98" width="4" height="4.5" fill="#dc7069"/>
<rect x="152" y="98" width="4" height="4.5" fill="#d46d6f"/>
<rect x="156" y="98" width="4" height="4.5" fill="#cf6b72"/>
<rect x="160" y="98" width="4" height="4.5" fill="#d26c6f"/>
<rect x="164" y="98" width="4" height="4.5" fill="#d66e6d"/>
<rect x="168" y="98" width="4" height="4.5" fill="#da6f6b"/>
<rect x="172" y="98" width="4" height="4.5" fill="#dd7168"/>
<rect x="176" y="98" width="4" height="4.5" fill="#e07464"/>
<rect x="180" y="98" width="4" height="4.5" fill="#dc7069"/>
<rect x="184" y="98" width="4" height="4.5" fill="#d96f6b"/>
<rect x="188" y="98" width="4" height="4.5" fill="#dd7168"/>
<rect x="192" y="98" width="4" height="4.5" fill="#db706a"/>
<rect x="196" y="98" width="4" height="4.5" fill="#d36c6f"/>
<rect x="200" y="98" width="4" height="4.5" fill="#d26c6f"/>
<rect x="204" y="98" width="4" height="4.5" fill="#d46d6e"/>
<rect x="208" y="98" width="4" height="4.5" fill="#d26c6f"/>
<rect x="212" y="98" width="4" height="4.5" fill="#d56d6d"/>
<rect x="216" y="98" width="4" height="4.5" fill="#e47760"/>
<rect x="220" y="98" width="4" height="4.5" fill="#e97c5a"/>
<rect x="224" y="98" width="4" height="4.5" fill="#e77a5d"/>
<rect x="228" y="98" width="4" height="4.5" fill="#e47760"/>
<rect x="232" y="98" width="4" height="4.5" fill="#df7366"/>
<rect x="236" y="98" width="4" height="4.5" fill="#de7267"/>
<rect x="240" y="98" width="4" height="4.5" fill="#d96f6b"/>
<rect x="244" y="98" width="8" height="4.5" fill="#d36c6f"/>
<rect x="252" y="98" width="4" height="4.5" fill="#d86f6b"/>
<rect x="256" y="98" width="4" height="4.5" fill="#cf6b72"/>
<rect x="260" y="98" width="4" height="4.5" fill="#c1657b"/>
<rect x="264" y="98" width="4" height="4.5" fill="#c86877"/>
<rect x="268" y="98" width="4" height="4.5" fill="#cf6b72"/>
<rect x="272" y="98" width="4" height="4.5" fill="#d86f6b"/>
<rect x="276" y="98" width="4" height="4.5" fill="#ed7f55"/>
<rect x="280" y="98" width="4" height="4.5" fill="#faa83d"/>
<rect x="284" y="98" width="4" height="4.5" fill="#fabc3c"/>
<rect x="288" y="98" width="4" height="4.5" fill="#fabb3c"/>
<rect x="292" y="98" width="8" height="4.5" fill="#fab93c"/>
<rect x="300" y="98" width="4" height="4.5" fill="#f9c33f"/>
<rect x="304" y="98" width="4" height="4.5" fill="#f7ce44"/>
<rect x="308" y="98" width="4" height="4.5" fill="#f5d94a"/>
<rect x="312" y="98" width="4" height="4.5" fill="#f8cb42"/>
<rect x="316" y="98" width="8" height="4.5" fill="#fab53d"/>
<rect x="324" y="98" width="4" height="4.5" fill="#fab73c"/>
<rect x="328" y="98" width="4" height="4.5" fill="#f9c33e"/>
<rect x="332" y="98" width="4" height="4.5" fill="#f9c43f"/>
<rect x="336" y="98" width="4" height="4.5" fill="#faba3c"/>
<rect x="340" y="98" width="4" height="4.5" fill="#fabb3c"/>
<rect x="344" y="98" width="4" height="4.5" fill="#fabf3c"/>
<rect x="80" y="102" width="4" height="4.5" fill="#cf6b72"/>
<rect x="84" y="102" width="4" height="4.5" fill="#ca6975"/>
<rect x="88" y="102" width="8" height="4.5" fill="#c96876"/>
<rect x="96" y="102" width="4" height="4.5" fill="#c66778"/>
<rect x="100" y="102" width="4" height="4.5" fill="#c46679"/>
<rect x="104" y="102" width="4" height="4.5" fill="#c2667a"/>
<rect x="108" y="102" width="4" height="4.5" fill="#c66778"/>
<rect x="112" y="102" width="4" height="4.5" fill="#d06b71"/>
<rect x="116" y="102" width="4" height="4.5" fill="#d76e6c"/>
<rect x="120" y="102" width="4" height="4.5" fill="#dc7069"/>
<rect x="124" y="102" width="4" height="4.5" fill="#d36c6f"/>
<rect x="128" y="102" width="4" height="4.5" fill="#cc6a74"/>
<rect x="132" y="102" width="4" height="4.5" fill="#cf6b71"/>
<rect x="136" y="102" width="4" height="4.5" fill="#ce6a73"/>
<rect x="140" y="102" width="4" height="4.5" fill="#c76877"/>
<rect x="144" y="102" width="4" height="4.5" fill="#ce6a72"/>
<rect x="148" y="102" width="4" height="4.5" fill="#da6f6a"/>
<rect x="152" y="102" width="4" height="4.5" fill="#d36c6f"/>
<rect x="156" y="102" width="4" height="4.5" fill="#ce6a72"/>
<rect x="160" y="102" width="4" height="4.5" fill="#d06b71"/>
<rect x="164" y="102" width="4" height="4.5" fill="#d26c6f"/>
<rect x="168" y="102" width="4" height="4.5" fill="#d56d6e"/>
<rect x="172" y="102" width="4" height="4.5" fill="#d76e6d"/>
<rect x="176" y="102" width="4" height="4.5" fill="#d86e6c"/>
<rect x="180" y="102" width="4" height="4.5" fill="#d56d6e"/>
<rect x="184" y="102" width="8" height="4.5" fill="#d26c6f"/>
<rect x="192" y="102" width="4" height="4.5" fill="#d26c70"/>
<rect x="196" y="102" width="4" height="4.5" fill="#d16c70"/>
<rect x="200" y="102" width="4" height="4.5" fill="#d76e6d"/>
<rect x="204" y="102" width="4" height="4.5" fill="#de7267"/>
<rect x="208" y="102" width="4" height="4.5" fill="#dd7168"/>
<rect x="212" y="102" width="4" height="4.5" fill="#de7266"/>
<rect x="216" y="102" width="4" height="4.5" fill="#e6795e"/>
<rect x="220" y="102" width="4" height="4.5" fill="#e87b5b"/>
<rect x="224" y="102" width="4" height="4.5" fill="#e6795e"/>
<rect x="228" y="102" width="4" height="4.5" fill="#e27563"/>
<rect x="232" y="102" width="4" height="4.5" fill="#db706a"/>
<rect x="236" y="102" width="4" height="4.5" fill="#da6f6a"/>
<rect x="240" y="102" width="4" height="4.5" fill="#d46d6e"/>
<rect x="244" y="102" width="4" height="4.5" fill="#cb6975"/>
<rect x="248" y="102" width="4" height="4.5" fill="#c96876"/>
<rect x="252" y="102" width="4" height="4.5" fill="#cd6a73"/>
<rect x="256" y="102" width="4" height="4.5" fill="#c86877"/>
<rect x="260" y="102" width="4" height="4.5" fill="#bf657c"/>
<rect x="264" y="102" width="4" height="4.5" fill="#c56778"/>
<rect x="268" y="102" width="4" height="4.5" fill="#cd6a73"/>
<rect x="272" y="102" width="4" height="4.5" fill="#da6f6a"/>
<rect x="276" y="102" width="4" height="4.5" fill="#ee8054"/>
<rect x="280" y="102" width="4" height="4.5" fill="#fa9e3e"/>
<rect x="284" y="102" width="4" height="4.5" fill="#faaa3d"/>
<rect x="288" y="102" width="4" height="4.5" fill="#faa83d"/>
<rect x="292" y="102" width="4" height="4.5" fill="#faad3d"/>
<rect x="296" y="102" width="4" height="4.5" fill="#fab43d"/>
<rect x="300" y="102" width="4" height="4.5" fill="#f8c941"/>
<rect x="304" y="102" width="4" height="4.5" fill="#f7d346"/>
<rect x="308" y="102" width="4" height="4.5" fill="#f7d045"/>
<rect x="312" y="102" width="4" height="4.5" fill="#f9c23e"/>
<rect x="316" y="102" width="4" height="4.5" fill="#fab33d"/>
<rect x="320" y="102" width="4" height="4.5" fill="#fab43d"/>
<rect x="324" y="102" width="4" height="4.5" fill="#fab73c"/>
<rect x="328" y="102" width="4" height="4.5" fill="#fac03d"/>
<rect x="332" y="102" width="4" height="4.5" fill="#fabd3c"/>
<rect x="336" y="102" width="8" height="4.5" fill="#fab03d"/>
<rect x="344" y="102" width="4" height="4.5" fill="#fab33d"/>
<rect x="80" y="106" width="4" height="4.5" fill="#d76e6d"/>
<rect x="84" y="106" width="4" height="4.5" fill="#c96876"/>
<rect x="88" y="106" width="4" height="4.5" fill="#bc637e"/>
<rect x="92" y="106" width="4" height="4.5" fill="#ad5f84"/>
<rect x="96" y="106" width="4" height="4.5" fill="#b66180"/>
<rect x="100" y="106" width="8" height="4.5" fill="#bc637e"/>
<rect x="108" y="106" width="4" height="4.5" fill="#c1657b"/>
<rect x="112" y="106" width="4" height="4.5" fill="#c96975"/>
<rect x="116" y="106" width="4" height="4.5" fill="#d16c70"/>
<rect x="120" y="106" width="4" height="4.5" fill="#d86e6c"/>
<rect x="124" y="106" width="4" height="4.5" fill="#cb6974"/>
<rect x="128" y="106" width="4" height="4.5" fill="#c56778"/>
<rect x="132" y="106" width="8" height="4.5" fill="#d56d6e"/>
<rect x="140" y="106" width="4" height="4.5" fill="#c76877"/>
<rect x="144" y="106" width="4" height="4.5" fill="#cb6974"/>
<rect x="148" y="106" width="4" height="4.5" fill="#d66e6d"/>
<rect x="152" y="106" width="4" height="4.5" fill="#d36c6f"/>
<rect x="156" y="106" width="4" height="4.5" fill="#d16b71"/>
<rect x="160" y="106" width="8" height="4.5" fill="#d06b71"/>
<rect x="168" y="106" width="4" height="4.5" fill="#d26c70"/>
<rect x="172" y="106" width="4" height="4.5" fill="#d16b71"/>
<rect x="176" y="106" width="4" height="4.5" fill="#ce6a72"/>
<rect x="180" y="106" width="4" height="4.5" fill="#ce6a73"/>
<rect x="184" y="106" width="4" height="4.5" fill="#cc6a74"/>
<rect x="188" y="106" width="4" height="4.5" fill="#c56778"/>
<rect x="192" y="106" width="4" height="4.5" fill="#c76877"/>
<rect x="196" y="106" width="4" height="4.5" fill="#d26c70"/>
<rect x="200" y="106" width="4" height="4.5" fill="#de7267"/>
<rect x="204" y="106" width="4" height="4.5" fill="#e77a5c"/>
<rect x="208" y="106" width="4" height="4.5" fill="#e97b5b"/>
<rect x="212" y="106" width="4" height="4.5" fill="#e97c5a"/>
<rect x="216" y="106" width="4" height="4.5" fill="#e87b5b"/>
<rect x="220" y="106" width="4" height="4.5" fill="#e77a5c"/>
<rect x="224" y="106" width="4" height="4.5" fill="#e6795e"/>
<rect x="228" y="106" width="4" height="4.5" fill="#e17464"/>
<rect x="232" y="106" width="4" height="4.5" fill="#d56d6e"/>
<rect x="236" y="106" width="8" height="4.5" fill="#d96f6b"/>
<rect x="244" y="106" width="4" height="4.5" fill="#cb6974"/>
<rect x="248" y="106" width="4" height="4.5" fill="#c66777"/>
<rect x="252" y="106" width="4" height="4.5" fill="#c76877"/>
<rect x="256" y="106" width="4" height="4.5" fill="#c86877"/>
<rect x="260" y="106" width="4" height="4.5" fill="#c86876"/>
<rect x="264" y="106" width="4" height="4.5" fill="#ce6a72"/>
<rect x="268" y="106" width="4" height="4.5" fill="#d66e6d"/>
<rect x="272" y="106" width="4" height="4.5" fill="#df7365"/>
<rect x="276" y="106" width="4" height="4.5" fill="#ed7f55"/>
<rect x="280" y="106" width="4" height="4.5" fill="#f58f47"/>
<rect x="284" y="106" width="4" height="4.5" fill="#f79344"/>
<rect x="288" y="106" width="4" height="4.5" fill="#f69245"/>
<rect x="292" y="106" width="4" height="4.5" fill="#fa9c3e"/>
<rect x="296" y="106" width="4" height="4.5" fill="#fab03d"/>
<rect x="300" y="106" width="4" height="4.5" fill="#f7d246"/>
<rect x="304" y="106" width="4" height="4.5" fill="#f6d648"/>
<rect x="308" y="106" width="4" height="4.5" fill="#fab93c"/>
<rect x="312" y="106" width="4" height="4.5" fill="#fab13d"/>
<rect x="316" y="106" width="4" height="4.5" fill="#faae3d"/>
<rect x="320" y="106" width="4" height="4.5" fill="#fab43d"/>
<rect x="324" y="106" width="8" height="4.5" fill="#faba3c"/>
<rect x="332" y="106" width="4" height="4.5" fill="#fab13d"/>
<rect x="336" y="106" width="4" height="4.5" fill="#fa9d3e"/>
<rect x="340" y="106" width="4" height="4.5" fill="#fa9e3e"/>
<rect x="344" y="106" width="4" height="4.5" fill="#faa63d"/>
<rect x="80" y="110" width="4" height="4.5" fill="#c76777"/>
<rect x="84" y="110" width="4" height="4.5" fill="#bc637e"/>
<rect x="88" y="110" width="4" height="4.5" fill="#b76280"/>
<rect x="92" y="110" width="4" height="4.5" fill="#b46181"/>
<rect x="96" y="110" width="4" height="4.5" fill="#bd647d"/>
<rect x="100" y="110" width="4" height="4.5" fill="#c3667a"/>
<rect x="104" y="110" width="4" height="4.5" fill="#c36679"/>
<rect x="108" y="110" width="4" height="4.5" fill="#c96975"/>
<rect x="112" y="110" width="4" height="4.5" fill="#d46d6e"/>
<rect x="116" y="110" width="4" height="4.5" fill="#d66d6d"/>
<rect x="120" y="110" width="4" height="4.5" fill="#d36c6f"/>
<rect x="124" y="110" width="4" height="4.5" fill="#ca6975"/>
<rect x="128" y="110" width="4" height="4.5" fill="#c46779"/>
<rect x="132" y="110" width="4" height="4.5" fill="#ce6b72"/>
<rect x="136" y="110" width="4" height="4.5" fill="#cf6b72"/>
<rect x="140" y="110" width="4" height="4.5" fill="#c86877"/>
<rect x="144" y="110" width="4" height="4.5" fill="#c86876"/>
<rect x="148" y="110" width="4" height="4.5" fill="#cb6974"/>
<rect x="152" y="110" width="4" height="4.5" fill="#d06b71"/>
<rect x="156" y="110" width="4" height="4.5" fill="#d36c6f"/>
<rect x="160" y="110" width="4" height="4.5" fill="#ce6a72"/>
<rect x="164" y="110" width="4" height="4.5" fill="#ca6975"/>
<rect x="168" y="110" width="4" height="4.5" fill="#c66778"/>
<rect x="172" y="110" width="4" height="4.5" fill="#cc6a74"/>
<rect x="176" y="110" width="4" height="4.5" fill="#d56d6e"/>
<rect x="180" y="110" width="4" height="4.5" fill="#d26c70"/>
<rect x="184" y="110" width="4" height="4.5" fill="#cf6b72"/>
<rect x="188" y="110" width="4" height="4.5" fill="#ce6a73"/>
<rect x="192" y="110" width="4" height="4.5" fill="#cf6b72"/>
<rect x="196" y="110" width="4" height="4.5" fill="#d36c6f"/>
<rect x="200" y="110" width="4" height="4.5" fill="#da6f6b"/>
<rect x="204" y="110" width="4" height="4.5" fill="#e07365"/>
<rect x="208" y="110" width="8" height="4.5" fill="#de7266"/>
<rect x="216" y="110" width="4" height="4.5" fill="#e27563"/>
<rect x="220" y="110" width="4" height="4.5" fill="#e37661"/>
<rect x="224" y="110" width="4" height="4.5" fill="#e17464"/>
<rect x="228" y="110" width="4" height="4.5" fill="#dd7168"/>
<rect x="232" y="110" width="4" height="4.5" fill="#d36c6f"/>
<rect x="236" y="110" width="4" height="4.5" fill="#d16b71"/>
<rect x="240" y="110" width="4" height="4.5" fill="#ce6a72"/>
<rect x="244" y="110" width="4" height="4.5" fill="#c2667a"/>
<rect x="248" y="110" width="4" height="4.5" fill="#c0657c"/>
<rect x="252" y="110" width="4" height="4.5" fill="#c66777"/>
<rect x="256" y="110" width="4" height="4.5" fill="#c96876"/>
<rect x="260" y="110" width="4" height="4.5" fill="#cb6974"/>
<rect x="264" y="110" width="4" height="4.5" fill="#d26c70"/>
<rect x="268" y="110" width="4" height="4.5" fill="#db706a"/>
<rect x="272" y="110" width="4" height="4.5" fill="#e07464"/>
<rect x="276" y="110" width="4" height="4.5" fill="#ef8153"/>
<rect x="280" y="110" width="4" height="4.5" fill="#f99940"/>
<rect x="284" y="110" width="4" height="4.5" fill="#fa9c3e"/>
<rect x="288" y="110" width="4" height="4.5" fill="#f89741"/>
<rect x="292" y="110" width="4" height="4.5" fill="#f99841"/>
<rect x="296" y="110" width="4" height="4.5" fill="#fa9c3e"/>
<rect x="300" y="110" width="4" height="4.5" fill="#faab3d"/>
<rect x="304" y="110" width="4" height="4.5" fill="#fab03d"/>
<rect x="308" y="110" width="4" height="4.5" fill="#faad3d"/>
<rect x="312" y="110" width="4" height="4.5" fill="#faab3d"/>
<rect x="316" y="110" width="4" height="4.5" fill="#faaa3d"/>
<rect x="320" y="110" width="8" height="4.5" fill="#faa93d"/>
<rect x="328" y="110" width="4" height="4.5" fill="#faad3d"/>
<rect x="332" y="110" width="4" height="4.5" fill="#faa83d"/>
<rect x="336" y="110" width="4" height="4.5" fill="#fa9b3e"/>
<rect x="340" y="110" width="4" height="4.5" fill="#fa9e3e"/>
<rect x="344" y="110" width="4" height="4.5" fill="#faa83d"/>
<rect x="76" y="114" width="4" height="4.5" fill="#b9627f"/>
<rect x="80" y="114" width="4" height="4.5" fill="#bc637e"/>
<rect x="84" y="114" width="4" height="4.5" fill="#b46181"/>
<rect x="88" y="114" width="4" height="4.5" fill="#b66180"/>
<rect x="92" y="114" width="4" height="4.5" fill="#bb637e"/>
<rect x="96" y="114" width="4" height="4.5" fill="#c1657b"/>
<rect x="100" y="114" width="4" height="4.5" fill="#c66778"/>
<rect x="104" y="114" width="4" height="4.5" fill="#c96876"/>
<rect x="108" y="114" width="4" height="4.5" fill="#cf6b72"/>
<rect x="112" y="114" width="4" height="4.5" fill="#d96f6b"/>
<rect x="116" y="114" width="4" height="4.5" fill="#d66d6d"/>
<rect x="120" y="114" width="4" height="4.5" fill="#cd6a73"/>
<rect x="124" y="114" width="4" height="4.5" fill="#c86876"/>
<rect x="128" y="114" width="4" height="4.5" fill="#c56778"/>
<rect x="132" y="114" width="4" height="4.5" fill="#cc6a74"/>
<rect x="136" y="114" width="4" height="4.5" fill="#ce6a73"/>
<rect x="140" y="114" width="4" height="4.5" fill="#cb6975"/>
<rect x="144" y="114" width="4" height="4.5" fill="#c86876"/>
<rect x="148" y="114" width="4" height="4.5" fill="#c76877"/>
<rect x="152" y="114" width="4" height="4.5" fill="#cf6b72"/>
<rect x="156" y="114" width="4" height="4.5" fill="#d46d6f"/>
<rect x="160" y="114" width="4" height="4.5" fill="#cf6b72"/>
<rect x="164" y="114" width="4" height="4.5" fill="#c86876"/>
<rect x="168" y="114" width="4" height="4.5" fill="#c0657c"/>
<rect x="172" y="114" width="4" height="4.5" fill="#ca6975"/>
<rect x="176" y="114" width="4" height="4.5" fill="#da6f6b"/>
<rect x="180" y="114" width="4" height="4.5" fill="#d76e6c"/>
<rect x="184" y="114" width="4" height="4.5" fill="#d56d6d"/>
<rect x="188" y="114" width="4" height="4.5" fill="#d66e6d"/>
<rect x="192" y="114" width="4" height="4.5" fill="#d56d6d"/>
<rect x="196" y="114" width="4" height="4.5" fill="#d36c6f"/>
<rect x="200" y="114" width="4" height="4.5" fill="#d56d6e"/>
<rect x="204" y="114" width="4" height="4.5" fill="#d86e6c"/>
<rect x="208" y="114" width="8" height="4.5" fill="#d46d6e"/>
<rect x="216" y="114" width="4" height="4.5" fill="#dd7168"/>
<rect x="220" y="114" width="4" height="4.5" fill="#de7266"/>
<rect x="224" y="114" width="4" height="4.5" fill="#d96f6b"/>
<rect x="228" y="114" width="4" height="4.5" fill="#d46d6e"/>
<rect x="232" y="114" width="4" height="4.5" fill="#cc6a74"/>
<rect x="236" y="114" width="4" height="4.5" fill="#c86876"/>
<rect x="240" y="114" width="4" height="4.5" fill="#c66778"/>
<rect x="244" y="114" width="4" height="4.5" fill="#bc637e"/>
<rect x="248" y="114" width="4" height="4.5" fill="#bd647d"/>
<rect x="252" y="114" width="4" height="4.5" fill="#c76877"/>
<rect x="256" y="114" width="4" height="4.5" fill="#cd6a73"/>
<rect x="260" y="114" width="4" height="4.5" fill="#d26c70"/>
<rect x="264" y="114" width="4" height="4.5" fill="#d96f6b"/>
<rect x="268" y="114" width="4" height="4.5" fill="#e07464"/>
<rect x="272" y="114" width="4" height="4.5" fill="#e47760"/>
<rect x="276" y="114" width="4" height="4.5" fill="#f18450"/>
<rect x="280" y="114" width="4" height="4.5" fill="#fa9d3e"/>
<rect x="284" y="114" width="4" height="4.5" fill="#faa33e"/>
<rect x="288" y="114" width="4" height="4.5" fill="#fa9d3e"/>
<rect x="292" y="114" width="4" height="4.5" fill="#f99840"/>
<rect x="296" y="114" width="4" height="4.5" fill="#f89742"/>
<rect x="300" y="114" width="4" height="4.5" fill="#f89741"/>
<rect x="304" y="114" width="4" height="4.5" fill="#fa9a3f"/>
<rect x="308" y="114" width="4" height="4.5" fill="#faa43d"/>
<rect x="312" y="114" width="8" height="4.5" fill="#faa73d"/>
<rect x="320" y="114" width="4" height="4.5" fill="#faa23e"/>
<rect x="324" y="114" width="4" height="4.5" fill="#fa9f3e"/>
<rect x="328" y="114" width="4" height="4.5" fill="#faa03e"/>
<rect x="332" y="114" width="4" height="4.5" fill="#fa9d3e"/>
<rect x="336" y="114" width="4" height="4.5" fill="#f99840"/>
<rect x="340" y="114" width="4" height="4.5" fill="#fa9d3e"/>
<rect x="344" y="114" width="4" height="4.5" fill="#faa83d"/>
<rect x="348" y="114" width="4" height="4.5" fill="#fa9e3e"/>
<rect x="72" y="118" width="4" height="4.5" fill="#ab5e85"/>
<rect x="76" y="118" width="4" height="4.5" fill="#bd647d"/>
<rect x="80" y="118" width="4" height="4.5" fill="#c3667a"/>
<rect x="84" y="118" width="4" height="4.5" fill="#c0657b"/>
<rect x="88" y="118" width="4" height="4.5" fill="#bf647c"/>
<rect x="92" y="118" width="4" height="4.5" fill="#be647d"/>
<rect x="96" y="118" width="4" height="4.5" fill="#bd647d"/>
<rect x="100" y="118" width="4" height="4.5" fill="#be647d"/>
<rect x="104" y="118" width="4" height="4.5" fill="#c76877"/>
<rect x="108" y="118" width="4" height="4.5" fill="#cc6974"/>
<rect x="112" y="118" width="4" height="4.5" fill="#cb6974"/>
<rect x="116" y="118" width="4" height="4.5" fill="#c96876"/>
<rect x="120" y="118" width="4" height="4.5" fill="#c56779"/>
<rect x="124" y="118" width="4" height="4.5" fill="#c66778"/>
<rect x="128" y="118" width="4" height="4.5" fill="#c96975"/>
<rect x="132" y="118" width="4" height="4.5" fill="#d66e6d"/>
<rect x="136" y="118" width="4" height="4.5" fill="#d96f6b"/>
<rect x="140" y="118" width="4" height="4.5" fill="#d26c6f"/>
<rect x="144" y="118" width="4" height="4.5" fill="#d36c6f"/>
<rect x="148" y="118" width="4" height="4.5" fill="#d76e6c"/>
<rect x="152" y="118" width="4" height="4.5" fill="#d26c70"/>
<rect x="156" y="118" width="4" height="4.5" fill="#d06b71"/>
<rect x="160" y="118" width="4" height="4.5" fill="#d56d6e"/>
<rect x="164" y="118" width="4" height="4.5" fill="#d36c6f"/>
<rect x="168" y="118" width="4" height="4.5" fill="#ca6975"/>
<rect x="172" y="118" width="4" height="4.5" fill="#cd6a73"/>
<rect x="176" y="118" width="4" height="4.5" fill="#d46d6e"/>
<rect x="180" y="118" width="4" height="4.5" fill="#de7267"/>
<rect x="184" y="118" width="4" height="4.5" fill="#e27662"/>
<rect x="188" y="118" width="4" height="4.5" fill="#dc7069"/>
<rect x="192" y="118" width="4" height="4.5" fill="#d56d6e"/>
<rect x="196" y="118" width="4" height="4.5" fill="#ce6b72"/>
<rect x="200" y="118" width="4" height="4.5" fill="#cf6b72"/>
<rect x="204" y="118" width="4" height="4.5" fill="#d16c70"/>
<rect x="208" y="118" width="4" height="4.5" fill="#d26c70"/>
<rect x="212" y="118" width="4" height="4.5" fill="#d46d6e"/>
<rect x="216" y="118" width="4" height="4.5" fill="#db6f6a"/>
<rect x="220" y="118" width="4" height="4.5" fill="#d96f6b"/>
<rect x="224" y="118" width="4" height="4.5" fill="#cd6a73"/>
<rect x="228" y="118" width="4" height="4.5" fill="#c1657b"/>
<rect x="232" y="118" width="4" height="4.5" fill="#b36181"/>
<rect x="236" y="118" width="4" height="4.5" fill="#ba637f"/>
<rect x="240" y="118" width="8" height="4.5" fill="#c1657b"/>
<rect x="248" y="118" width="4" height="4.5" fill="#c56778"/>
<rect x="252" y="118" width="4" height="4.5" fill="#cd6a73"/>
<rect x="256" y="118" width="4" height="4.5" fill="#d66e6d"/>
<rect x="260" y="118" width="4" height="4.5" fill="#e07464"/>
<rect x="264" y="118" width="4" height="4.5" fill="#e27662"/>
<rect x="268" y="118" width="4" height="4.5" fill="#e77a5c"/>
<rect x="272" y="118" width="4" height="4.5" fill="#f08252"/>
<rect x="276" y="118" width="4" height="4.5" fill="#f48b4b"/>
<rect x="280" y="118" width="4" height="4.5" fill="#f58f47"/>
<rect x="284" y="118" width="4" height="4.5" fill="#f89741"/>
<rect x="288" y="118" width="4" height="4.5" fill="#faa23e"/>
<rect x="292" y="118" width="4" height="4.5" fill="#faaa3d"/>
<rect x="296" y="118" width="4" height="4.5" fill="#faaf3d"/>
<rect x="300" y="118" width="4" height="4.5" fill="#faa93d"/>
<rect x="304" y="118" width="8" height="4.5" fill="#faa73d"/>
<rect x="312" y="118" width="4" height="4.5" fill="#faa53d"/>
<rect x="316" y="118" width="4" height="4.5" fill="#faa33e"/>
<rect x="320" y="118" width="4" height="4.5" fill="#faab3d"/>
<rect x="324" y="118" width="4" height="4.5" fill="#faac3d"/>
<rect x="328" y="118" width="4" height="4.5" fill="#f9993f"/>
<rect x="332" y="118" width="4" height="4.5" fill="#f79444"/>
<rect x="336" y="118" width="4" height="4.5" fill="#f89642"/>
<rect x="340" y="118" width="4" height="4.5" fill="#fa9a3f"/>
<rect x="344" y="118" width="4" height="4.5" fill="#faa33e"/>
<rect x="348" y="118" width="4" height="4.5" fill="#faa53d"/>
<rect x="68" y="122" width="4" height="4.5" fill="#98588c"/>
<rect x="72" y="122" width="4" height="4.5" fill="#a85d86"/>
<rect x="76" y="122" width="4" height="4.5" fill="#b9627f"/>
<rect x="80" y="122" width="4" height="4.5" fill="#c2667a"/>
<rect x="84" y="122" width="4" height="4.5" fill="#c76777"/>
<rect x="88" y="122" width="4" height="4.5" fill="#c2667a"/>
<rect x="92" y="122" width="4" height="4.5" fill="#ba637e"/>
<rect x="96" y="122" width="4" height="4.5" fill="#bd647e"/>
<rect x="100" y="122" width="4" height="4.5" fill="#c0657c"/>
<rect x="104" y="122" width="4" height="4.5" fill="#c76877"/>
<rect x="108" y="122" width="8" height="4.5" fill="#ca6975"/>
<rect x="116" y="122" width="4" height="4.5" fill="#c76877"/>
<rect x="120" y="122" width="4" height="4.5" fill="#c46779"/>
<rect x="124" y="122" width="4" height="4.5" fill="#c66777"/>
<rect x="128" y="122" width="4" height="4.5" fill="#cb6974"/>
<rect x="132" y="122" width="4" height="4.5" fill="#d86f6b"/>
<rect x="136" y="122" width="4" height="4.5" fill="#dc7069"/>
<rect x="140" y="122" width="4" height="4.5" fill="#d76e6c"/>
<rect x="144" y="122" width="4" height="4.5" fill="#d86e6c"/>
<rect x="148" y="122" width="4" height="4.5" fill="#db706a"/>
<rect x="152" y="122" width="4" height="4.5" fill="#d46d6e"/>
<rect x="156" y="122" width="4" height="4.5" fill="#d06b71"/>
<rect x="160" y="122" width="4" height="4.5" fill="#d56d6d"/>
<rect x="164" y="122" width="4" height="4.5" fill="#d36d6f"/>
<rect x="168" y="122" width="4" height="4.5" fill="#c96975"/>
<rect x="172" y="122" width="4" height="4.5" fill="#cd6a73"/>
<rect x="176" y="122" width="4" height="4.5" fill="#d56d6e"/>
<rect x="180" y="122" width="4" height="4.5" fill="#df7365"/>
<rect x="184" y="122" width="4" height="4.5" fill="#e47760"/>
<rect x="188" y="122" width="4" height="4.5" fill="#dc7069"/>
<rect x="192" y="122" width="4" height="4.5" fill="#d36d6f"/>
<rect x="196" y="122" width="4" height="4.5" fill="#cc6a73"/>
<rect x="200" y="122" width="4" height="4.5" fill="#cd6a73"/>
<rect x="204" y="122" width="4" height="4.5" fill="#d06b71"/>
<rect x="208" y="122" width="8" height="4.5" fill="#cf6b72"/>
<rect x="216" y="122" width="4" height="4.5" fill="#d16c70"/>
<rect x="220" y="122" width="4" height="4.5" fill="#ce6a73"/>
<rect x="224" y="122" width="4" height="4.5" fill="#c2657b"/>
<rect x="228" y="122" width="4" height="4.5" fill="#b66180"/>
<rect x="232" y="122" width="4" height="4.5" fill="#af5f83"/>
<rect x="236" y="122" width="4" height="4.5" fill="#b26082"/>
<rect x="240" y="122" width="4" height="4.5" fill="#ba637f"/>
<rect x="244" y="122" width="4" height="4.5" fill="#c56779"/>
<rect x="248" y="122" width="4" height="4.5" fill="#cb6974"/>
<rect x="252" y="122" width="4" height="4.5" fill="#ce6a72"/>
<rect x="256" y="122" width="4" height="4.5" fill="#d86e6c"/>
<rect x="260" y="122" width="4" height="4.5" fill="#e27563"/>
<rect x="264" y="122" width="4" height="4.5" fill="#e87a5c"/>
<rect x="268" y="122" width="4" height="4.5" fill="#ef8154"/>
<rect x="272" y="122" width="4" height="4.5" fill="#f38a4c"/>
<rect x="276" y="122" width="4" height="4.5" fill="#f48c4a"/>
<rect x="280" y="122" width="4" height="4.5" fill="#f2874e"/>
<rect x="284" y="122" width="4" height="4.5" fill="#f69047"/>
<rect x="288" y="122" width="4" height="4.5" fill="#fa9e3e"/>
<rect x="292" y="122" width="4" height="4.5" fill="#faac3d"/>
<rect x="296" y="122" width="4" height="4.5" fill="#fab63c"/>
<rect x="300" y="122" width="4" height="4.5" fill="#fab13d"/>
<rect x="304" y="122" width="4" height="4.5" fill="#faab3d"/>
<rect x="308" y="122" width="4" height="4.5" fill="#faa23e"/>
<rect x="312" y="122" width="4" height="4.5" fill="#fa9f3e"/>
<rect x="316" y="122" width="4" height="4.5" fill="#fa9e3e"/>
<rect x="320" y="122" width="4" height="4.5" fill="#faa83d"/>
<rect x="324" y="122" width="4" height="4.5" fill="#faaa3d"/>
<rect x="328" y="122" width="4" height="4.5" fill="#f79444"/>
<rect x="332" y="122" width="4" height="4.5" fill="#f58f48"/>
<rect x="336" y="122" width="4" height="4.5" fill="#f79543"/>
<rect x="340" y="122" width="4" height="4.5" fill="#f99940"/>
<rect x="344" y="122" width="4" height="4.5" fill="#fa9f3e"/>
<rect x="348" y="122" width="4" height="4.5" fill="#faaa3d"/>
<rect x="352" y="122" width="4" height="4.5" fill="#faba3c"/>
<rect x="372" y="122" width="4" height="4.5" fill="#fabc3c"/>
<rect x="404" y="122" width="4" height="4.5" fill="#fab23d"/>
<rect x="408" y="122" width="4" height="4.5" fill="#fab53c"/>
<rect x="416" y="122" width="4" height="4.5" fill="#faa43d"/>
<rect x="44" y="126" width="4" height="4.5" fill="#815195"/>
<rect x="48" y="126" width="4" height="4.5" fill="#8e5590"/>
<rect x="52" y="126" width="4" height="4.5" fill="#95578d"/>
<rect x="56" y="126" width="4" height="4.5" fill="#94578e"/>
<rect x="60" y="126" width="4" height="4.5" fill="#9c598b"/>
<rect x="64" y="126" width="4" height="4.5" fill="#a25b88"/>
<rect x="68" y="126" width="4" height="4.5" fill="#a05b89"/>
<rect x="72" y="126" width="4" height="4.5" fill="#a45c88"/>
<rect x="76" y="126" width="4" height="4.5" fill="#af5f83"/>
<rect x="80" y="126" width="4" height="4.5" fill="#bc637e"/>
<rect x="84" y="126" width="4" height="4.5" fill="#c96876"/>
<rect x="88" y="126" width="4" height="4.5" fill="#c0657b"/>
<rect x="92" y="126" width="4" height="4.5" fill="#af5f83"/>
<rect x="96" y="126" width="4" height="4.5" fill="#c0657c"/>
<rect x="100" y="126" width="4" height="4.5" fill="#ca6975"/>
<rect x="104" y="126" width="4" height="4.5" fill="#c76877"/>
<rect x="108" y="126" width="4" height="4.5" fill="#ca6975"/>
<rect x="112" y="126" width="4" height="4.5" fill="#d46d6e"/>
<rect x="116" y="126" width="4" height="4.5" fill="#d26c70"/>
<rect x="120" y="126" width="4" height="4.5" fill="#cd6a73"/>
<rect x="124" y="126" width="8" height="4.5" fill="#ca6975"/>
<rect x="132" y="126" width="4" height="4.5" fill="#d26c70"/>
<rect x="136" y="126" width="4" height="4.5" fill="#d76e6c"/>
<rect x="140" y="126" width="4" height="4.5" fill="#d96f6b"/>
<rect x="144" y="126" width="4" height="4.5" fill="#d66e6d"/>
<rect x="148" y="126" width="4" height="4.5" fill="#d36c6f"/>
<rect x="152" y="126" width="8" height="4.5" fill="#d46d6e"/>
<rect x="160" y="126" width="4" height="4.5" fill="#d06b71"/>
<rect x="164" y="126" width="4" height="4.5" fill="#c96975"/>
<rect x="168" y="126" width="4" height="4.5" fill="#bf657c"/>
<rect x="172" y="126" width="4" height="4.5" fill="#ca6975"/>
<rect x="176" y="126" width="8" height="4.5" fill="#dc7069"/>
<rect x="184" y="126" width="4" height="4.5" fill="#db6f6a"/>
<rect x="188" y="126" width="4" height="4.5" fill="#d46d6e"/>
<rect x="192" y="126" width="4" height="4.5" fill="#cf6b71"/>
<rect x="196" y="126" width="4" height="4.5" fill="#cd6a73"/>
<rect x="200" y="126" width="4" height="4.5" fill="#cf6b71"/>
<rect x="204" y="126" width="4" height="4.5" fill="#d46d6e"/>
<rect x="208" y="126" width="4" height="4.5" fill="#ca6975"/>
<rect x="212" y="126" width="4" height="4.5" fill="#c2657b"/>
<rect x="216" y="126" width="4" height="4.5" fill="#be647d"/>
<rect x="220" y="126" width="4" height="4.5" fill="#ba637f"/>
<rect x="224" y="126" width="4" height="4.5" fill="#b56181"/>
<rect x="228" y="126" width="4" height="4.5" fill="#b76280"/>
<rect x="232" y="126" width="4" height="4.5" fill="#bf657c"/>
<rect x="236" y="126" width="4" height="4.5" fill="#b26082"/>
<rect x="240" y="126" width="4" height="4.5" fill="#af5f83"/>
<rect x="244" y="126" width="4" height="4.5" fill="#c66778"/>
<rect x="248" y="126" width="4" height="4.5" fill="#cf6b72"/>
<rect x="252" y="126" width="4" height="4.5" fill="#cb6974"/>
<rect x="256" y="126" width="4" height="4.5" fill="#d06b71"/>
<rect x="260" y="126" width="4" height="4.5" fill="#d76e6d"/>
<rect x="264" y="126" width="4" height="4.5" fill="#e87b5b"/>
<rect x="268" y="126" width="4" height="4.5" fill="#f3884d"/>
<rect x="272" y="126" width="4" height="4.5" fill="#f38a4c"/>
<rect x="276" y="126" width="4" height="4.5" fill="#f3884d"/>
<rect x="280" y="126" width="4" height="4.5" fill="#f18550"/>
<rect x="284" y="126" width="4" height="4.5" fill="#f48b4b"/>
<rect x="288" y="126" width="4" height="4.5" fill="#f79444"/>
<rect x="292" y="126" width="4" height="4.5" fill="#fa9e3e"/>
<rect x="296" y="126" width="4" height="4.5" fill="#faa93d"/>
<rect x="300" y="126" width="4" height="4.5" fill="#faab3d"/>
<rect x="304" y="126" width="4" height="4.5" fill="#faa63d"/>
<rect x="308" y="126" width="8" height="4.5" fill="#f99840"/>
<rect x="316" y="126" width="4" height="4.5" fill="#fa9b3e"/>
<rect x="320" y="126" width="4" height="4.5" fill="#fa9d3e"/>
<rect x="324" y="126" width="4" height="4.5" fill="#fa9b3e"/>
<rect x="328" y="126" width="4" height="4.5" fill="#f69047"/>
<rect x="332" y="126" width="4" height="4.5" fill="#f58f48"/>
<rect x="336" y="126" width="4" height="4.5" fill="#f89642"/>
<rect x="340" y="126" width="4" height="4.5" fill="#fa9a3f"/>
<rect x="344" y="126" width="4" height="4.5" fill="#faa13e"/>
<rect x="348" y="126" width="4" height="4.5" fill="#faad3d"/>
<rect x="352" y="126" width="4" height="4.5" fill="#fabe3c"/>
<rect x="356" y="126" width="4" height="4.5" fill="#f7d145"/>
<rect x="360" y="126" width="4" height="4.5" fill="#f5db4b"/>
<rect x="364" y="126" width="4" height="4.5" fill="#f5dc4b"/>
<rect x="368" y="126" width="4" height="4.5" fill="#f7cd44"/>
<rect x="372" y="126" width="4" height="4.5" fill="#fabe3c"/>
<rect x="376" y="126" width="4" height="4.5" fill="#fab43d"/>
<rect x="380" y="126" width="8" height="4.5" fill="#faaf3d"/>
<rect x="396" y="126" width="4" height="4.5" fill="#fab63c"/>
<rect x="400" y="126" width="4" height="4.5" fill="#faad3d"/>
<rect x="404" y="126" width="4" height="4.5" fill="#fab33d"/>
<rect x="408" y="126" width="8" height="4.5" fill="#fab93c"/>
<rect x="416" y="126" width="4" height="4.5" fill="#fab63c"/>
<rect x="420" y="126" width="4" height="4.5" fill="#fab23d"/>
<rect x="424" y="126" width="4" height="4.5" fill="#fabd3c"/>
<rect x="40" y="130" width="4" height="4.5" fill="#794e96"/>
<rect x="44" y="130" width="8" height="4.5" fill="#855293"/>
<rect x="52" y="130" width="4" height="4.5" fill="#8b5491"/>
<rect x="56" y="130" width="4" height="4.5" fill="#92568f"/>
<rect x="60" y="130" width="4" height="4.5" fill="#9e5a8a"/>
<rect x="64" y="130" width="4" height="4.5" fill="#a85d86"/>
<rect x="68" y="130" width="4" height="4.5" fill="#a35c88"/>
<rect x="72" y="130" width="4" height="4.5" fill="#a45c87"/>
<rect x="76" y="130" width="4" height="4.5" fill="#ac5e84"/>
<rect x="80" y="130" width="4" height="4.5" fill="#b66180"/>
<rect x="84" y="130" width="4" height="4.5" fill="#c0657c"/>
<rect x="88" y="130" width="4" height="4.5" fill="#bd647d"/>
<rect x="92" y="130" width="4" height="4.5" fill="#b56181"/>
<rect x="96" y="130" width="4" height="4.5" fill="#c2667a"/>
<rect x="100" y="130" width="4" height="4.5" fill="#ca6975"/>
<rect x="104" y="130" width="4" height="4.5" fill="#c66778"/>
<rect x="108" y="130" width="4" height="4.5" fill="#c96876"/>
<rect x="112" y="130" width="4" height="4.5" fill="#d46d6e"/>
<rect x="116" y="130" width="4" height="4.5" fill="#ce6a73"/>
<rect x="120" y="130" width="4" height="4.5" fill="#c2657b"/>
<rect x="124" y="130" width="4" height="4.5" fill="#c96876"/>
<rect x="128" y="130" width="4" height="4.5" fill="#ce6a73"/>
<rect x="132" y="130" width="4" height="4.5" fill="#cd6a73"/>
<rect x="136" y="130" width="4" height="4.5" fill="#d16c70"/>
<rect x="140" y="130" width="4" height="4.5" fill="#d96f6b"/>
<rect x="144" y="130" width="4" height="4.5" fill="#d66e6d"/>
<rect x="148" y="130" width="16" height="4.5" fill="#d06b71"/>
<rect x="164" y="130" width="4" height="4.5" fill="#cc6a74"/>
<rect x="168" y="130" width="4" height="4.5" fill="#c3667a"/>
<rect x="172" y="130" width="4" height="4.5" fill="#c96975"/>
<rect x="176" y="130" width="4" height="4.5" fill="#d46d6e"/>
<rect x="180" y="130" width="4" height="4.5" fill="#d06b71"/>
<rect x="184" y="130" width="4" height="4.5" fill="#cc6a73"/>
<rect x="188" y="130" width="4" height="4.5" fill="#cd6a73"/>
<rect x="192" y="130" width="4" height="4.5" fill="#cc6a73"/>
<rect x="196" y="130" width="4" height="4.5" fill="#cc6a74"/>
<rect x="200" y="130" width="4" height="4.5" fill="#ce6b72"/>
<rect x="204" y="130" width="4" height="4.5" fill="#d16b71"/>
<rect x="208" y="130" width="4" height="4.5" fill="#c46679"/>
<rect x="212" y="130" width="4" height="4.5" fill="#b9627f"/>
<rect x="216" y="130" width="4" height="4.5" fill="#b8627f"/>
<rect x="220" y="130" width="4" height="4.5" fill="#b46181"/>
<rect x="224" y="130" width="4" height="4.5" fill="#ae5f83"/>
<rect x="228" y="130" width="4" height="4.5" fill="#b06083"/>
<rect x="232" y="130" width="4" height="4.5" fill="#b86280"/>
<rect x="236" y="130" width="4" height="4.5" fill="#b26082"/>
<rect x="240" y="130" width="4" height="4.5" fill="#b36181"/>
<rect x="244" y="130" width="4" height="4.5" fill="#c66778"/>
<rect x="248" y="130" width="4" height="4.5" fill="#cd6a73"/>
<rect x="252" y="130" width="4" height="4.5" fill="#cb6975"/>
<rect x="256" y="130" width="4" height="4.5" fill="#d06b71"/>
<rect x="260" y="130" width="4" height="4.5" fill="#d86e6c"/>
<rect x="264" y="130" width="4" height="4.5" fill="#e77a5c"/>
<rect x="268" y="130" width="4" height="4.5" fill="#f1864f"/>
<rect x="272" y="130" width="8" height="4.5" fill="#f3894c"/>
<rect x="280" y="130" width="4" height="4.5" fill="#f2864f"/>
<rect x="284" y="130" width="4" height="4.5" fill="#f48d49"/>
<rect x="288" y="130" width="4" height="4.5" fill="#f99741"/>
<rect x="292" y="130" width="4" height="4.5" fill="#f99940"/>
<rect x="296" y="130" width="4" height="4.5" fill="#fa9b3e"/>
<rect x="300" y="130" width="4" height="4.5" fill="#faa13e"/>
<rect x="304" y="130" width="4" height="4.5" fill="#fa9e3e"/>
<rect x="308" y="130" width="4" height="4.5" fill="#f79344"/>
<rect x="312" y="130" width="4" height="4.5" fill="#f79543"/>
<rect x="316" y="130" width="4" height="4.5" fill="#f9993f"/>
<rect x="320" y="130" width="4" height="4.5" fill="#f99940"/>
<rect x="324" y="130" width="4" height="4.5" fill="#f89741"/>
<rect x="328" y="130" width="4" height="4.5" fill="#f59047"/>
<rect x="332" y="130" width="4" height="4.5" fill="#f79245"/>
<rect x="336" y="130" width="4" height="4.5" fill="#faa33e"/>
<rect x="340" y="130" width="4" height="4.5" fill="#faa93d"/>
<rect x="344" y="130" width="4" height="4.5" fill="#faaf3d"/>
<rect x="348" y="130" width="4" height="4.5" fill="#f9c640"/>
<rect x="352" y="130" width="4" height="4.5" fill="#f4dd4c"/>
<rect x="356" y="130" width="4" height="4.5" fill="#f1e650"/>
<rect x="360" y="130" width="4" height="4.5" fill="#f2e34f"/>
<rect x="364" y="130" width="4" height="4.5" fill="#f6d447"/>
<rect x="368" y="130" width="4" height="4.5" fill="#f9c53f"/>
<rect x="372" y="130" width="4" height="4.5" fill="#fabb3c"/>
<rect x="376" y="130" width="4" height="4.5" fill="#fab63c"/>
<rect x="380" y="130" width="4" height="4.5" fill="#fab53d"/>
<rect x="384" y="130" width="4" height="4.5" fill="#fab33d"/>
<rect x="388" y="130" width="4" height="4.5" fill="#fab63c"/>
<rect x="392" y="130" width="4" height="4.5" fill="#fabb3c"/>
<rect x="396" y="130" width="4" height="4.5" fill="#fab33d"/>
<rect x="400" y="130" width="4" height="4.5" fill="#faaa3d"/>
<rect x="404" y="130" width="8" height="4.5" fill="#faa63d"/>
<rect x="412" y="130" width="4" height="4.5" fill="#faaf3d"/>
<rect x="416" y="130" width="4" height="4.5" fill="#faad3d"/>
<rect x="420" y="130" width="4" height="4.5" fill="#faa13e"/>
<rect x="424" y="130" width="4" height="4.5" fill="#faae3d"/>
<rect x="40" y="134" width="4" height="4.5" fill="#7d5096"/>
<rect x="44" y="134" width="4" height="4.5" fill="#815195"/>
<rect x="48" y="134" width="4" height="4.5" fill="#744b97"/>
<rect x="52" y="134" width="4" height="4.5" fill="#794e96"/>
<rect x="56" y="134" width="4" height="4.5" fill="#8c5590"/>
<rect x="60" y="134" width="4" height="4.5" fill="#9d5a8a"/>
<rect x="64" y="134" width="4" height="4.5" fill="#a85d86"/>
<rect x="68" y="134" width="4" height="4.5" fill="#a55c87"/>
<rect x="72" y="134" width="4" height="4.5" fill="#a65d87"/>
<rect x="76" y="134" width="4" height="4.5" fill="#ac5e84"/>
<rect x="80" y="134" width="8" height="4.5" fill="#b16082"/>
<rect x="88" y="134" width="4" height="4.5" fill="#b8627f"/>
<rect x="92" y="134" width="4" height="4.5" fill="#c0657c"/>
<rect x="96" y="134" width="4" height="4.5" fill="#c46679"/>
<rect x="100" y="134" width="4" height="4.5" fill="#c66777"/>
<rect x="104" y="134" width="4" height="4.5" fill="#c46679"/>
<rect x="108" y="134" width="4" height="4.5" fill="#c76877"/>
<rect x="112" y="134" width="4" height="4.5" fill="#d16b71"/>
<rect x="116" y="134" width="4" height="4.5" fill="#c46679"/>
<rect x="120" y="134" width="4" height="4.5" fill="#ad5f84"/>
<rect x="124" y="134" width="4" height="4.5" fill="#c66778"/>
<rect x="128" y="134" width="4" height="4.5" fill="#d36d6f"/>
<rect x="132" y="134" width="4" height="4.5" fill="#c96876"/>
<rect x="136" y="134" width="4" height="4.5" fill="#cb6974"/>
<rect x="140" y="134" width="4" height="4.5" fill="#d96f6b"/>
<rect x="144" y="134" width="4" height="4.5" fill="#d66e6d"/>
<rect x="148" y="134" width="4" height="4.5" fill="#ce6a72"/>
<rect x="152" y="134" width="4" height="4.5" fill="#ca6975"/>
<rect x="156" y="134" width="4" height="4.5" fill="#c96876"/>
<rect x="160" y="134" width="4" height="4.5" fill="#d26c6f"/>
<rect x="164" y="134" width="4" height="4.5" fill="#d36c6f"/>
<rect x="168" y="134" width="4" height="4.5" fill="#cb6974"/>
<rect x="172" y="134" width="4" height="4.5" fill="#c96876"/>
<rect x="176" y="134" width="4" height="4.5" fill="#c76877"/>
<rect x="180" y="134" width="4" height="4.5" fill="#c1657b"/>
<rect x="184" y="134" width="4" height="4.5" fill="#bd647d"/>
<rect x="188" y="134" width="4" height="4.5" fill="#c56778"/>
<rect x="192" y="134" width="4" height="4.5" fill="#ca6975"/>
<rect x="196" y="134" width="4" height="4.5" fill="#cc6a74"/>
<rect x="200" y="134" width="8" height="4.5" fill="#cd6a73"/>
<rect x="208" y="134" width="4" height="4.5" fill="#c0657b"/>
<rect x="212" y="134" width="4" height="4.5" fill="#b86280"/>
<rect x="216" y="134" width="4" height="4.5" fill="#bd647d"/>
<rect x="220" y="134" width="4" height="4.5" fill="#ba637f"/>
<rect x="224" y="134" width="4" height="4.5" fill="#ad5f84"/>
<rect x="228" y="134" width="8" height="4.5" fill="#a85d86"/>
<rect x="236" y="134" width="4" height="4.5" fill="#b16082"/>
<rect x="240" y="134" width="4" height="4.5" fill="#bb637e"/>
<rect x="244" y="134" width="4" height="4.5" fill="#c56778"/>
<rect x="248" y="134" width="8" height="4.5" fill="#ca6975"/>
<rect x="256" y="134" width="4" height="4.5" fill="#d16c70"/>
<rect x="260" y="134" width="4" height="4.5" fill="#dc7069"/>
<rect x="264" y="134" width="4" height="4.5" fill="#e47760"/>
<rect x="268" y="134" width="4" height="4.5" fill="#ed7f56"/>
<rect x="272" y="134" width="4" height="4.5" fill="#f2884e"/>
<rect x="276" y="134" width="4" height="4.5" fill="#f48b4b"/>
<rect x="280" y="134" width="4" height="4.5" fill="#f3884d"/>
<rect x="284" y="134" width="4" height="4.5" fill="#f79245"/>
<rect x="288" y="134" width="4" height="4.5" fill="#faa33e"/>
<rect x="292" y="134" width="4" height="4.5" fill="#f89741"/>
<rect x="296" y="134" width="4" height="4.5" fill="#f69245"/>
<rect x="300" y="134" width="4" height="4.5" fill="#f99841"/>
<rect x="304" y="134" width="4" height="4.5" fill="#f89741"/>
<rect x="308" y="134" width="4" height="4.5" fill="#f58f47"/>
<rect x="312" y="134" width="4" height="4.5" fill="#f79245"/>
<rect x="316" y="134" width="4" height="4.5" fill="#f99940"/>
<rect x="320" y="134" width="4" height="4.5" fill="#f99741"/>
<rect x="324" y="134" width="4" height="4.5" fill="#f89642"/>
<rect x="328" y="134" width="4" height="4.5" fill="#f69146"/>
<rect x="332" y="134" width="4" height="4.5" fill="#f9993f"/>
<rect x="336" y="134" width="4" height="4.5" fill="#faba3c"/>
<rect x="340" y="134" width="8" height="4.5" fill="#fac13d"/>
<rect x="348" y="134" width="4" height="4.5" fill="#f0e751"/>
<rect x="352" y="134" width="8" height="4.5" fill="#e8fa5b"/>
<rect x="360" y="134" width="4" height="4.5" fill="#efea53"/>
<rect x="364" y="134" width="4" height="4.5" fill="#f8cb43"/>
<rect x="368" y="134" width="4" height="4.5" fill="#fabb3c"/>
<rect x="372" y="134" width="4" height="4.5" fill="#fab53c"/>
<rect x="376" y="134" width="4" height="4.5" fill="#faba3c"/>
<rect x="380" y="134" width="4" height="4.5" fill="#fabe3c"/>
<rect x="384" y="134" width="4" height="4.5" fill="#fab93c"/>
<rect x="388" y="134" width="4" height="4.5" fill="#fab63c"/>
<rect x="392" y="134" width="4" height="4.5" fill="#fab23d"/>
<rect x="396" y="134" width="4" height="4.5" fill="#faab3d"/>
<rect x="400" y="134" width="4" height="4.5" fill="#faa53d"/>
<rect x="404" y="134" width="4" height="4.5" fill="#f89741"/>
<rect x="408" y="134" width="4" height="4.5" fill="#f79245"/>
<rect x="412" y="134" width="4" height="4.5" fill="#fa9d3e"/>
<rect x="416" y="134" width="4" height="4.5" fill="#fa9b3e"/>
<rect x="420" y="134" width="4" height="4.5" fill="#f58e48"/>
<rect x="424" y="134" width="4" height="4.5" fill="#f99741"/>
<rect x="40" y="138" width="4" height="4.5" fill="#6f4897"/>
<rect x="44" y="138" width="4" height="4.5" fill="#734a97"/>
<rect x="48" y="138" width="4" height="4.5" fill="#744b97"/>
<rect x="52" y="138" width="4" height="4.5" fill="#7f5195"/>
<rect x="56" y="138" width="4" height="4.5" fill="#90568f"/>
<rect x="60" y="138" width="4" height="4.5" fill="#95578d"/>
<rect x="64" y="138" width="4" height="4.5" fill="#92568e"/>
<rect x="68" y="138" width="4" height="4.5" fill="#93578e"/>
<rect x="72" y="138" width="4" height="4.5" fill="#99588c"/>
<rect x="76" y="138" width="4" height="4.5" fill="#a85d86"/>
<rect x="80" y="138" width="4" height="4.5" fill="#ae5f83"/>
<rect x="84" y="138" width="4" height="4.5" fill="#a75d86"/>
<rect x="88" y="138" width="4" height="4.5" fill="#b06082"/>
<rect x="92" y="138" width="4" height="4.5" fill="#bf647c"/>
<rect x="96" y="138" width="4" height="4.5" fill="#ba637f"/>
<rect x="100" y="138" width="4" height="4.5" fill="#b8627f"/>
<rect x="104" y="138" width="4" height="4.5" fill="#c0657c"/>
<rect x="108" y="138" width="4" height="4.5" fill="#c56778"/>
<rect x="112" y="138" width="4" height="4.5" fill="#c86876"/>
<rect x="116" y="138" width="4" height="4.5" fill="#c46679"/>
<rect x="120" y="138" width="4" height="4.5" fill="#be647d"/>
<rect x="124" y="138" width="4" height="4.5" fill="#cb6974"/>
<rect x="128" y="138" width="4" height="4.5" fill="#d56d6d"/>
<rect x="132" y="138" width="4" height="4.5" fill="#d66e6d"/>
<rect x="136" y="138" width="4" height="4.5" fill="#d76e6d"/>
<rect x="140" y="138" width="4" height="4.5" fill="#d76e6c"/>
<rect x="144" y="138" width="4" height="4.5" fill="#d46d6e"/>
<rect x="148" y="138" width="4" height="4.5" fill="#d06b71"/>
<rect x="152" y="138" width="4" height="4.5" fill="#cb6975"/>
<rect x="156" y="138" width="4" height="4.5" fill="#c96876"/>
<rect x="160" y="138" width="4" height="4.5" fill="#d36d6f"/>
<rect x="164" y="138" width="4" height="4.5" fill="#d56d6d"/>
<rect x="168" y="138" width="4" height="4.5" fill="#cf6b72"/>
<rect x="172" y="138" width="4" height="4.5" fill="#d06b71"/>
<rect x="176" y="138" width="4" height="4.5" fill="#d26c70"/>
<rect x="180" y="138" width="4" height="4.5" fill="#ca6975"/>
<rect x="184" y="138" width="4" height="4.5" fill="#c66778"/>
<rect x="188" y="138" width="4" height="4.5" fill="#cf6b72"/>
<rect x="192" y="138" width="4" height="4.5" fill="#cd6a73"/>
<rect x="196" y="138" width="8" height="4.5" fill="#be647d"/>
<rect x="204" y="138" width="4" height="4.5" fill="#c2657b"/>
<rect x="208" y="138" width="4" height="4.5" fill="#bf647c"/>
<rect x="212" y="138" width="4" height="4.5" fill="#bb637e"/>
<rect x="216" y="138" width="4" height="4.5" fill="#b66280"/>
<rect x="220" y="138" width="4" height="4.5" fill="#ae5f83"/>
<rect x="224" y="138" width="4" height="4.5" fill="#a45c87"/>
<rect x="228" y="138" width="4" height="4.5" fill="#a15b89"/>
<rect x="232" y="138" width="4" height="4.5" fill="#a25b88"/>
<rect x="236" y="138" width="4" height="4.5" fill="#a25b89"/>
<rect x="240" y="138" width="4" height="4.5" fill="#a75d86"/>
<rect x="244" y="138" width="4" height="4.5" fill="#b76280"/>
<rect x="248" y="138" width="4" height="4.5" fill="#c76877"/>
<rect x="252" y="138" width="4" height="4.5" fill="#d56d6d"/>
<rect x="256" y="138" width="4" height="4.5" fill="#dc7069"/>
<rect x="260" y="138" width="4" height="4.5" fill="#e07464"/>
<rect x="264" y="138" width="4" height="4.5" fill="#e27562"/>
<rect x="268" y="138" width="4" height="4.5" fill="#e6795e"/>
<rect x="272" y="138" width="4" height="4.5" fill="#ef8154"/>
<rect x="276" y="138" width="4" height="4.5" fill="#f2874e"/>
<rect x="280" y="138" width="4" height="4.5" fill="#f38a4b"/>
<rect x="284" y="138" width="4" height="4.5" fill="#f79444"/>
<rect x="288" y="138" width="4" height="4.5" fill="#faa23e"/>
<rect x="292" y="138" width="4" height="4.5" fill="#f89543"/>
<rect x="296" y="138" width="4" height="4.5" fill="#f58e49"/>
<rect x="300" y="138" width="4" height="4.5" fill="#f69146"/>
<rect x="304" y="138" width="4" height="4.5" fill="#f79444"/>
<rect x="308" y="138" width="4" height="4.5" fill="#f89741"/>
<rect x="312" y="138" width="4" height="4.5" fill="#fa9a3f"/>
<rect x="316" y="138" width="4" height="4.5" fill="#fa9d3e"/>
<rect x="320" y="138" width="4" height="4.5" fill="#f89741"/>
<rect x="324" y="138" width="4" height="4.5" fill="#f79245"/>
<rect x="328" y="138" width="4" height="4.5" fill="#f58f47"/>
<rect x="332" y="138" width="4" height="4.5" fill="#f79444"/>
<rect x="336" y="138" width="4" height="4.5" fill="#faa33e"/>
<rect x="340" y="138" width="4" height="4.5" fill="#fab23d"/>
<rect x="344" y="138" width="4" height="4.5" fill="#fac03d"/>
<rect x="348" y="138" width="4" height="4.5" fill="#f8cd43"/>
<rect x="352" y="138" width="4" height="4.5" fill="#f6d849"/>
<rect x="356" y="138" width="4" height="4.5" fill="#efea53"/>
<rect x="360" y="138" width="4" height="4.5" fill="#f2e44f"/>
<rect x="364" y="138" width="4" height="4.5" fill="#f9c640"/>
<rect x="368" y="138" width="4" height="4.5" fill="#fabc3c"/>
<rect x="372" y="138" width="4" height="4.5" fill="#fabd3c"/>
<rect x="376" y="138" width="4" height="4.5" fill="#f8c741"/>
<rect x="380" y="138" width="4" height="4.5" fill="#f7cf44"/>
<rect x="384" y="138" width="4" height="4.5" fill="#f9c740"/>
<rect x="388" y="138" width="4" height="4.5" fill="#faba3c"/>
<rect x="392" y="138" width="8" height="4.5" fill="#faa93d"/>
<rect x="400" y="138" width="4" height="4.5" fill="#fab23d"/>
<rect x="404" y="138" width="4" height="4.5" fill="#faac3d"/>
<rect x="408" y="138" width="4" height="4.5" fill="#faa73d"/>
<rect x="412" y="138" width="4" height="4.5" fill="#faa23e"/>
<rect x="416" y="138" width="4" height="4.5" fill="#fa9b3e"/>
<rect x="420" y="138" width="4" height="4.5" fill="#f89543"/>
<rect x="424" y="138" width="4" height="4.5" fill="#fa9b3e"/>
<rect x="40" y="142" width="4" height="4.5" fill="#674497"/>
<rect x="44" y="142" width="4" height="4.5" fill="#6c4797"/>
<rect x="48" y="142" width="4" height="4.5" fill="#794e96"/>
<rect x="52" y="142" width="4" height="4.5" fill="#885392"/>
<rect x="56" y="142" width="4" height="4.5" fill="#96588d"/>
<rect x="60" y="142" width="4" height="4.5" fill="#93578e"/>
<rect x="64" y="142" width="4" height="4.5" fill="#875392"/>
<rect x="68" y="142" width="4" height="4.5" fill="#885392"/>
<rect x="72" y="142" width="4" height="4.5" fill="#90568f"/>
<rect x="76" y="142" width="4" height="4.5" fill="#a55c87"/>
<rect x="80" y="142" width="4" height="4.5" fill="#aa5e85"/>
<rect x="84" y="142" width="4" height="4.5" fill="#9b598b"/>
<rect x="88" y="142" width="4" height="4.5" fill="#a75d86"/>
<rect x="92" y="142" width="4" height="4.5" fill="#bb637e"/>
<rect x="96" y="142" width="4" height="4.5" fill="#b16082"/>
<rect x="100" y="142" width="4" height="4.5" fill="#ac5e84"/>
<rect x="104" y="142" width="4" height="4.5" fill="#bc637e"/>
<rect x="108" y="142" width="4" height="4.5" fill="#c3667a"/>
<rect x="112" y="142" width="4" height="4.5" fill="#c2657b"/>
<rect x="116" y="142" width="4" height="4.5" fill="#c46679"/>
<rect x="120" y="142" width="4" height="4.5" fill="#c76877"/>
<rect x="124" y="142" width="4" height="4.5" fill="#ce6a73"/>
<rect x="128" y="142" width="4" height="4.5" fill="#d56d6e"/>
<rect x="132" y="142" width="8" height="4.5" fill="#de7267"/>
<rect x="140" y="142" width="4" height="4.5" fill="#d56d6d"/>
<rect x="144" y="142" width="4" height="4.5" fill="#d26c70"/>
<rect x="148" y="142" width="4" height="4.5" fill="#d16c70"/>
<rect x="152" y="142" width="8" height="4.5" fill="#ce6a73"/>
<rect x="160" y="142" width="4" height="4.5" fill="#d86e6c"/>
<rect x="164" y="142" width="4" height="4.5" fill="#d96f6b"/>
<rect x="168" y="142" width="4" height="4.5" fill="#d06b71"/>
<rect x="172" y="142" width="4" height="4.5" fill="#d36c6f"/>
<rect x="176" y="142" width="4" height="4.5" fill="#d86f6b"/>
<rect x="180" y="142" width="4" height="4.5" fill="#d36c6f"/>
<rect x="184" y="142" width="4" height="4.5" fill="#d16b71"/>
<rect x="188" y="142" width="4" height="4.5" fill="#d86e6c"/>
<rect x="192" y="142" width="4" height="4.5" fill="#cf6b71"/>
<rect x="196" y="142" width="4" height="4.5" fill="#b56181"/>
<rect x="200" y="142" width="4" height="4.5" fill="#b36182"/>
<rect x="204" y="142" width="4" height="4.5" fill="#b9637f"/>
<rect x="208" y="142" width="8" height="4.5" fill="#bd647d"/>
<rect x="216" y="142" width="4" height="4.5" fill="#b16082"/>
<rect x="220" y="142" width="4" height="4.5" fill="#a75d86"/>
<rect x="224" y="142" width="4" height="4.5" fill="#9f5a8a"/>
<rect x="228" y="142" width="4" height="4.5" fill="#9d5a8a"/>
<rect x="232" y="142" width="4" height="4.5" fill="#a05b89"/>
<rect x="236" y="142" width="8" height="4.5" fill="#98588c"/>
<rect x="244" y="142" width="4" height="4.5" fill="#a95e85"/>
<rect x="248" y="142" width="4" height="4.5" fill="#c0657c"/>
<rect x="252" y="142" width="4" height="4.5" fill="#d76e6d"/>
<rect x="256" y="142" width="4" height="4.5" fill="#de7267"/>
<rect x="260" y="142" width="4" height="4.5" fill="#e07464"/>
<rect x="264" y="142" width="4" height="4.5" fill="#dd7167"/>
<rect x="268" y="142" width="4" height="4.5" fill="#df7266"/>
<rect x="272" y="142" width="4" height="4.5" fill="#e97b5a"/>
<rect x="276" y="142" width="4" height="4.5" fill="#f18450"/>
<rect x="280" y="142" width="4" height="4.5" fill="#f48d4a"/>
<rect x="284" y="142" width="4" height="4.5" fill="#f89543"/>
<rect x="288" y="142" width="4" height="4.5" fill="#fa9f3e"/>
<rect x="292" y="142" width="4" height="4.5" fill="#f79444"/>
<rect x="296" y="142" width="4" height="4.5" fill="#f48c4a"/>
<rect x="300" y="142" width="4" height="4.5" fill="#f48d49"/>
<rect x="304" y="142" width="4" height="4.5" fill="#f69245"/>
<rect x="308" y="142" width="4" height="4.5" fill="#fa9b3e"/>
<rect x="312" y="142" width="4" height="4.5" fill="#fa9f3e"/>
<rect x="316" y="142" width="4" height="4.5" fill="#fa9e3e"/>
<rect x="320" y="142" width="4" height="4.5" fill="#f89543"/>
<rect x="324" y="142" width="8" height="4.5" fill="#f69047"/>
<rect x="332" y="142" width="4" height="4.5" fill="#f69245"/>
<rect x="336" y="142" width="4" height="4.5" fill="#f89642"/>
<rect x="340" y="142" width="4" height="4.5" fill="#faa83d"/>
<rect x="344" y="142" width="4" height="4.5" fill="#f9c13e"/>
<rect x="348" y="142" width="8" height="4.5" fill="#fabb3c"/>
<rect x="356" y="142" width="4" height="4.5" fill="#f6d849"/>
<rect x="360" y="142" width="4" height="4.5" fill="#f5d94a"/>
<rect x="364" y="142" width="4" height="4.5" fill="#fac13d"/>
<rect x="368" y="142" width="4" height="4.5" fill="#fabc3c"/>
<rect x="372" y="142" width="4" height="4.5" fill="#fac03d"/>
<rect x="376" y="142" width="4" height="4.5" fill="#f8cd43"/>
<rect x="380" y="142" width="4" height="4.5" fill="#f6d548"/>
<rect x="384" y="142" width="4" height="4.5" fill="#f8cb43"/>
<rect x="388" y="142" width="4" height="4.5" fill="#fabb3c"/>
<rect x="392" y="142" width="4" height="4.5" fill="#faa63d"/>
<rect x="396" y="142" width="4" height="4.5" fill="#faaa3d"/>
<rect x="400" y="142" width="8" height="4.5" fill="#fab73c"/>
<rect x="408" y="142" width="4" height="4.5" fill="#fab33d"/>
<rect x="412" y="142" width="4" height="4.5" fill="#faa53d"/>
<rect x="416" y="142" width="4" height="4.5" fill="#fa9b3e"/>
<rect x="420" y="142" width="4" height="4.5" fill="#f99940"/>
<rect x="424" y="142" width="4" height="4.5" fill="#fa9e3e"/>
<rect x="40" y="146" width="4" height="4.5" fill="#6c4797"/>
<rect x="44" y="146" width="4" height="4.5" fill="#7a4e96"/>
<rect x="48" y="146" width="4" height="4.5" fill="#8a5491"/>
<rect x="52" y="146" width="4" height="4.5" fill="#99598c"/>
<rect x="56" y="146" width="4" height="4.5" fill="#a45c88"/>
<rect x="60" y="146" width="4" height="4.5" fill="#a25b88"/>
<rect x="64" y="146" width="4" height="4.5" fill="#9b598b"/>
<rect x="68" y="146" width="8" height="4.5" fill="#94578e"/>
<rect x="76" y="146" width="4" height="4.5" fill="#a25b88"/>
<rect x="80" y="146" width="4" height="4.5" fill="#a15b89"/>
<rect x="84" y="146" width="4" height="4.5" fill="#8e5590"/>
<rect x="88" y="146" width="4" height="4.5" fill="#9b598b"/>
<rect x="92" y="146" width="4" height="4.5" fill="#b26082"/>
<rect x="96" y="146" width="8" height="4.5" fill="#ae5f84"/>
<rect x="104" y="146" width="4" height="4.5" fill="#ba637f"/>
<rect x="108" y="146" width="4" height="4.5" fill="#c1657b"/>
<rect x="112" y="146" width="4" height="4.5" fill="#c3667a"/>
<rect x="116" y="146" width="4" height="4.5" fill="#c2657b"/>
<rect x="120" y="146" width="4" height="4.5" fill="#c0657c"/>
<rect x="136" y="146" width="4" height="4.5" fill="#da6f6a"/>
<rect x="140" y="146" width="4" height="4.5" fill="#d56d6d"/>
<rect x="144" y="146" width="4" height="4.5" fill="#d06b71"/>
<rect x="176" y="146" width="4" height="4.5" fill="#d46d6e"/>
<rect x="180" y="146" width="4" height="4.5" fill="#dc7069"/>
<rect x="184" y="146" width="4" height="4.5" fill="#df7366"/>
<rect x="188" y="146" width="4" height="4.5" fill="#d96f6b"/>
<rect x="192" y="146" width="4" height="4.5" fill="#d06b71"/>
<rect x="196" y="146" width="4" height="4.5" fill="#c36679"/>
<rect x="200" y="146" width="4" height="4.5" fill="#be647d"/>
<rect x="204" y="146" width="4" height="4.5" fill="#ba637e"/>
<rect x="208" y="146" width="4" height="4.5" fill="#b76280"/>
<rect x="212" y="146" width="4" height="4.5" fill="#b46181"/>
<rect x="216" y="146" width="4" height="4.5" fill="#af5f83"/>
<rect x="220" y="146" width="4" height="4.5" fill="#a95e85"/>
<rect x="224" y="146" width="4" height="4.5" fill="#a15b89"/>
<rect x="228" y="146" width="4" height="4.5" fill="#a25b88"/>
<rect x="232" y="146" width="4" height="4.5" fill="#a85d86"/>
<rect x="236" y="146" width="4" height="4.5" fill="#9e5a8a"/>
<rect x="240" y="146" width="4" height="4.5" fill="#9a598b"/>
<rect x="244" y="146" width="4" height="4.5" fill="#a35c88"/>
<rect x="248" y="146" width="4" height="4.5" fill="#af5f83"/>
<rect x="252" y="146" width="4" height="4.5" fill="#bc637e"/>
<rect x="256" y="146" width="4" height="4.5" fill="#c96876"/>
<rect x="260" y="146" width="4" height="4.5" fill="#d66d6d"/>
<rect x="264" y="146" width="4" height="4.5" fill="#d76e6d"/>
<rect x="268" y="146" width="4" height="4.5" fill="#dc7069"/>
<rect x="272" y="146" width="4" height="4.5" fill="#e87a5c"/>
<rect x="276" y="146" width="4" height="4.5" fill="#f1854f"/>
<rect x="280" y="146" width="4" height="4.5" fill="#f69245"/>
<rect x="284" y="146" width="4" height="4.5" fill="#f89741"/>
<rect x="288" y="146" width="4" height="4.5" fill="#f99841"/>
<rect x="292" y="146" width="4" height="4.5" fill="#f89642"/>
<rect x="296" y="146" width="4" height="4.5" fill="#f79444"/>
<rect x="300" y="146" width="4" height="4.5" fill="#f79344"/>
<rect x="304" y="146" width="4" height="4.5" fill="#f79444"/>
<rect x="308" y="146" width="8" height="4.5" fill="#f89642"/>
<rect x="316" y="146" width="4" height="4.5" fill="#f79443"/>
<rect x="320" y="146" width="4" height="4.5" fill="#f69046"/>
<rect x="324" y="146" width="4" height="4.5" fill="#f59047"/>
<rect x="328" y="146" width="4" height="4.5" fill="#f89642"/>
<rect x="332" y="146" width="4" height="4.5" fill="#f99a3f"/>
<rect x="336" y="146" width="4" height="4.5" fill="#f99940"/>
<rect x="340" y="146" width="4" height="4.5" fill="#fab13d"/>
<rect x="344" y="146" width="4" height="4.5" fill="#f6d648"/>
<rect x="348" y="146" width="4" height="4.5" fill="#f7cf45"/>
<rect x="352" y="146" width="4" height="4.5" fill="#f8c841"/>
<rect x="356" y="146" width="4" height="4.5" fill="#f8cb42"/>
<rect x="360" y="146" width="4" height="4.5" fill="#f9c53f"/>
<rect x="364" y="146" width="4" height="4.5" fill="#faba3c"/>
<rect x="368" y="146" width="4" height="4.5" fill="#fab43d"/>
<rect x="372" y="146" width="4" height="4.5" fill="#fab23d"/>
<rect x="376" y="146" width="4" height="4.5" fill="#faba3c"/>
<rect x="380" y="146" width="4" height="4.5" fill="#fabe3c"/>
<rect x="384" y="146" width="4" height="4.5" fill="#fab43d"/>
<rect x="388" y="146" width="4" height="4.5" fill="#fab13d"/>
<rect x="392" y="146" width="4" height="4.5" fill="#fab53c"/>
<rect x="396" y="146" width="4" height="4.5" fill="#fab03d"/>
<rect x="400" y="146" width="4" height="4.5" fill="#faa83d"/>
<rect x="404" y="146" width="4" height="4.5" fill="#fa9e3e"/>
<rect x="408" y="146" width="4" height="4.5" fill="#f99940"/>
<rect x="412" y="146" width="4" height="4.5" fill="#fa9c3e"/>
<rect x="416" y="146" width="4" height="4.5" fill="#fa9a3f"/>
<rect x="420" y="146" width="4" height="4.5" fill="#f79444"/>
<rect x="424" y="146" width="4" height="4.5" fill="#f99a3f"/>
<rect x="40" y="150" width="4" height="4.5" fill="#764c96"/>
<rect x="44" y="150" width="4" height="4.5" fill="#8d5590"/>
<rect x="48" y="150" width="4" height="4.5" fill="#9b598b"/>
<rect x="52" y="150" width="4" height="4.5" fill="#a55c87"/>
<rect x="56" y="150" width="4" height="4.5" fill="#ab5e85"/>
<rect x="60" y="150" width="4" height="4.5" fill="#ac5e84"/>
<rect x="64" y="150" width="4" height="4.5" fill="#a95d86"/>
<rect x="68" y="150" width="4" height="4.5" fill="#a25b88"/>
<rect x="72" y="150" width="4" height="4.5" fill="#9f5a89"/>
<rect x="76" y="150" width="4" height="4.5" fill="#a45c88"/>
<rect x="80" y="150" width="4" height="4.5" fill="#9e5a8a"/>
<rect x="84" y="150" width="4" height="4.5" fill="#8d5590"/>
<rect x="88" y="150" width="4" height="4.5" fill="#99588c"/>
<rect x="92" y="150" width="4" height="4.5" fill="#ac5e84"/>
<rect x="96" y="150" width="4" height="4.5" fill="#ae5f83"/>
<rect x="100" y="150" width="4" height="4.5" fill="#b16082"/>
<rect x="180" y="150" width="4" height="4.5" fill="#de7267"/>
<rect x="184" y="150" width="4" height="4.5" fill="#e27562"/>
<rect x="188" y="150" width="4" height="4.5" fill="#d86e6c"/>
<rect x="192" y="150" width="4" height="4.5" fill="#ce6b72"/>
<rect x="196" y="150" width="4" height="4.5" fill="#c86876"/>
<rect x="200" y="150" width="4" height="4.5" fill="#c0657b"/>
<rect x="204" y="150" width="4" height="4.5" fill="#b76280"/>
<rect x="208" y="150" width="4" height="4.5" fill="#b26082"/>
<rect x="212" y="150" width="4" height="4.5" fill="#af5f83"/>
<rect x="216" y="150" width="4" height="4.5" fill="#b16082"/>
<rect x="220" y="150" width="4" height="4.5" fill="#af5f83"/>
<rect x="224" y="150" width="4" height="4.5" fill="#a75d86"/>
<rect x="228" y="150" width="4" height="4.5" fill="#a55c87"/>
<rect x="232" y="150" width="4" height="4.5" fill="#a75d86"/>
<rect x="236" y="150" width="4" height="4.5" fill="#a05b89"/>
<rect x="240" y="150" width="4" height="4.5" fill="#9d5a8a"/>
<rect x="244" y="150" width="4" height="4.5" fill="#a35b88"/>
<rect x="248" y="150" width="4" height="4.5" fill="#aa5e85"/>
<rect x="252" y="150" width="4" height="4.5" fill="#b26082"/>
<rect x="256" y="150" width="4" height="4.5" fill="#c1657b"/>
<rect x="260" y="150" width="4" height="4.5" fill="#cf6b72"/>
<rect x="264" y="150" width="4" height="4.5" fill="#d46d6e"/>
<rect x="268" y="150" width="4" height="4.5" fill="#db7069"/>
<rect x="272" y="150" width="4" height="4.5" fill="#e37760"/>
<rect x="276" y="150" width="4" height="4.5" fill="#ed8055"/>
<rect x="280" y="150" width="4" height="4.5" fill="#f48c4a"/>
<rect x="284" y="150" width="4" height="4.5" fill="#f79344"/>
<rect x="288" y="150" width="4" height="4.5" fill="#f99741"/>
<rect x="292" y="150" width="4" height="4.5" fill="#f69245"/>
<rect x="296" y="150" width="4" height="4.5" fill="#f58e48"/>
<rect x="300" y="150" width="4" height="4.5" fill="#f69146"/>
<rect x="304" y="150" width="4" height="4.5" fill="#f69245"/>
<rect x="308" y="150" width="4" height="4.5" fill="#f69146"/>
<rect x="312" y="150" width="4" height="4.5" fill="#f58f47"/>
<rect x="316" y="150" width="4" height="4.5" fill="#f48b4b"/>
<rect x="320" y="150" width="8" height="4.5" fill="#f2874e"/>
<rect x="328" y="150" width="4" height="4.5" fill="#f69146"/>
<rect x="332" y="150" width="8" height="4.5" fill="#f89642"/>
<rect x="340" y="150" width="4" height="4.5" fill="#faab3d"/>
<rect x="344" y="150" width="4" height="4.5" fill="#f8cb43"/>
<rect x="348" y="150" width="4" height="4.5" fill="#f9c43f"/>
<rect x="352" y="150" width="4" height="4.5" fill="#fabc3c"/>
<rect x="356" y="150" width="4" height="4.5" fill="#fabb3c"/>
<rect x="360" y="150" width="4" height="4.5" fill="#fab83c"/>
<rect x="364" y="150" width="4" height="4.5" fill="#fab33d"/>
<rect x="368" y="150" width="4" height="4.5" fill="#faae3d"/>
<rect x="372" y="150" width="4" height="4.5" fill="#faab3d"/>
<rect x="376" y="150" width="4" height="4.5" fill="#fab13d"/>
<rect x="380" y="150" width="4" height="4.5" fill="#fab43d"/>
<rect x="384" y="150" width="4" height="4.5" fill="#faac3d"/>
<rect x="388" y="150" width="4" height="4.5" fill="#faad3d"/>
<rect x="392" y="150" width="4" height="4.5" fill="#faba3c"/>
<rect x="396" y="150" width="4" height="4.5" fill="#fab23d"/>
<rect x="400" y="150" width="4" height="4.5" fill="#faa23e"/>
<rect x="404" y="150" width="4" height="4.5" fill="#fa9c3e"/>
<rect x="408" y="150" width="4" height="4.5" fill="#fa9a3e"/>
<rect x="412" y="150" width="8" height="4.5" fill="#faa63d"/>
<rect x="420" y="150" width="4" height="4.5" fill="#fa9c3e"/>
<rect x="424" y="150" width="4" height="4.5" fill="#faa43d"/>
<rect x="40" y="154" width="4" height="4.5" fill="#865393"/>
<rect x="44" y="154" width="4" height="4.5" fill="#a35c88"/>
<rect x="48" y="154" width="4" height="4.5" fill="#a85d86"/>
<rect x="52" y="154" width="4" height="4.5" fill="#ac5e84"/>
<rect x="56" y="154" width="4" height="4.5" fill="#ad5f84"/>
<rect x="60" y="154" width="8" height="4.5" fill="#af5f83"/>
<rect x="68" y="154" width="8" height="4.5" fill="#b26082"/>
<rect x="76" y="154" width="4" height="4.5" fill="#aa5e85"/>
<rect x="80" y="154" width="4" height="4.5" fill="#a25b88"/>
<rect x="84" y="154" width="4" height="4.5" fill="#9a598b"/>
<rect x="88" y="154" width="4" height="4.5" fill="#a05b89"/>
<rect x="92" y="154" width="4" height="4.5" fill="#ab5e85"/>
<rect x="96" y="154" width="4" height="4.5" fill="#b26082"/>
<rect x="176" y="154" width="4" height="4.5" fill="#d56d6e"/>
<rect x="180" y="154" width="4" height="4.5" fill="#db706a"/>
<rect x="184" y="154" width="4" height="4.5" fill="#dc7069"/>
<rect x="188" y="154" width="4" height="4.5" fill="#d16c70"/>
<rect x="192" y="154" width="4" height="4.5" fill="#ca6975"/>
<rect x="196" y="154" width="4" height="4.5" fill="#c56778"/>
<rect x="200" y="154" width="4" height="4.5" fill="#bc637e"/>
<rect x="204" y="154" width="4" height="4.5" fill="#b06083"/>
<rect x="208" y="154" width="4" height="4.5" fill="#af5f83"/>
<rect x="212" y="154" width="4" height="4.5" fill="#b16082"/>
<rect x="216" y="154" width="4" height="4.5" fill="#b76280"/>
<rect x="220" y="154" width="4" height="4.5" fill="#b86280"/>
<rect x="224" y="154" width="4" height="4.5" fill="#b06083"/>
<rect x="228" y="154" width="4" height="4.5" fill="#a75d86"/>
<rect x="232" y="154" width="4" height="4.5" fill="#9e5a8a"/>
<rect x="236" y="154" width="4" height="4.5" fill="#9f5a89"/>
<rect x="240" y="154" width="4" height="4.5" fill="#a35c88"/>
<rect x="244" y="154" width="4" height="4.5" fill="#aa5e85"/>
<rect x="248" y="154" width="4" height="4.5" fill="#b56181"/>
<rect x="252" y="154" width="4" height="4.5" fill="#c2667a"/>
<rect x="256" y="154" width="4" height="4.5" fill="#c96975"/>
<rect x="260" y="154" width="4" height="4.5" fill="#cd6a73"/>
<rect x="264" y="154" width="4" height="4.5" fill="#d66e6d"/>
<rect x="268" y="154" width="8" height="4.5" fill="#dd7168"/>
<rect x="276" y="154" width="4" height="4.5" fill="#e27662"/>
<rect x="280" y="154" width="4" height="4.5" fill="#eb7d58"/>
<rect x="284" y="154" width="4" height="4.5" fill="#f48b4a"/>
<rect x="288" y="154" width="4" height="4.5" fill="#fa9d3e"/>
<rect x="292" y="154" width="4" height="4.5" fill="#f3894c"/>
<rect x="296" y="154" width="4" height="4.5" fill="#eb7e57"/>
<rect x="300" y="154" width="4" height="4.5" fill="#f2864f"/>
<rect x="304" y="154" width="4" height="4.5" fill="#f48c4a"/>
<rect x="308" y="154" width="4" height="4.5" fill="#f48d49"/>
<rect x="312" y="154" width="4" height="4.5" fill="#f3894c"/>
<rect x="316" y="154" width="4" height="4.5" fill="#f08252"/>
<rect x="320" y="154" width="4" height="4.5" fill="#ec7e57"/>
<rect x="324" y="154" width="4" height="4.5" fill="#eb7d58"/>
<rect x="328" y="154" width="4" height="4.5" fill="#f08351"/>
<rect x="332" y="154" width="4" height="4.5" fill="#f38a4b"/>
<rect x="336" y="154" width="4" height="4.5" fill="#f69146"/>
<rect x="340" y="154" width="4" height="4.5" fill="#f99a3f"/>
<rect x="344" y="154" width="4" height="4.5" fill="#faa73d"/>
<rect x="348" y="154" width="4" height="4.5" fill="#fa9e3e"/>
<rect x="352" y="154" width="4" height="4.5" fill="#fa9b3e"/>
<rect x="356" y="154" width="4" height="4.5" fill="#faab3d"/>
<rect x="360" y="154" width="4" height="4.5" fill="#fab03d"/>
<rect x="364" y="154" width="4" height="4.5" fill="#faa93d"/>
<rect x="368" y="154" width="8" height="4.5" fill="#faa83d"/>
<rect x="376" y="154" width="4" height="4.5" fill="#faae3d"/>
<rect x="380" y="154" width="4" height="4.5" fill="#fab03d"/>
<rect x="384" y="154" width="4" height="4.5" fill="#faae3d"/>
<rect x="388" y="154" width="4" height="4.5" fill="#faad3d"/>
<rect x="392" y="154" width="4" height="4.5" fill="#fab23d"/>
<rect x="396" y="154" width="4" height="4.5" fill="#faae3d"/>
<rect x="400" y="154" width="4" height="4.5" fill="#faa53d"/>
<rect x="404" y="154" width="4" height="4.5" fill="#fab23d"/>
<rect x="408" y="154" width="4" height="4.5" fill="#fabc3c"/>
<rect x="412" y="154" width="4" height="4.5" fill="#fac13d"/>
<rect x="416" y="154" width="4" height="4.5" fill="#f9c13e"/>
<rect x="420" y="154" width="4" height="4.5" fill="#fabe3c"/>
<rect x="424" y="154" width="4" height="4.5" fill="#fac03d"/>
<rect x="40" y="158" width="4" height="4.5" fill="#895492"/>
<rect x="44" y="158" width="4" height="4.5" fill="#a55c87"/>
<rect x="48" y="158" width="4" height="4.5" fill="#a95d86"/>
<rect x="52" y="158" width="4" height="4.5" fill="#ab5e85"/>
<rect x="56" y="158" width="4" height="4.5" fill="#ac5e85"/>
<rect x="60" y="158" width="4" height="4.5" fill="#a75d86"/>
<rect x="64" y="158" width="4" height="4.5" fill="#a05b89"/>
<rect x="68" y="158" width="4" height="4.5" fill="#a35b88"/>
<rect x="72" y="158" width="4" height="4.5" fill="#a45c88"/>
<rect x="76" y="158" width="4" height="4.5" fill="#9f5a8a"/>
<rect x="80" y="158" width="4" height="4.5" fill="#9d5a8a"/>
<rect x="84" y="158" width="4" height="4.5" fill="#9e5a8a"/>
<rect x="172" y="158" width="4" height="4.5" fill="#cb6975"/>
<rect x="176" y="158" width="4" height="4.5" fill="#ce6a72"/>
<rect x="180" y="158" width="4" height="4.5" fill="#d86e6c"/>
<rect x="184" y="158" width="4" height="4.5" fill="#dd7168"/>
<rect x="188" y="158" width="4" height="4.5" fill="#d46d6e"/>
<rect x="192" y="158" width="4" height="4.5" fill="#cc6a73"/>
<rect x="196" y="158" width="4" height="4.5" fill="#c56778"/>
<rect x="200" y="158" width="4" height="4.5" fill="#c36679"/>
<rect x="204" y="158" width="4" height="4.5" fill="#c2667a"/>
<rect x="208" y="158" width="4" height="4.5" fill="#c1657b"/>
<rect x="212" y="158" width="4" height="4.5" fill="#c0657b"/>
<rect x="216" y="158" width="4" height="4.5" fill="#be647d"/>
<rect x="220" y="158" width="4" height="4.5" fill="#ba637f"/>
<rect x="224" y="158" width="4" height="4.5" fill="#b46181"/>
<rect x="228" y="158" width="4" height="4.5" fill="#ae5f83"/>
<rect x="232" y="158" width="4" height="4.5" fill="#a85d86"/>
<rect x="236" y="158" width="4" height="4.5" fill="#ac5e84"/>
<rect x="240" y="158" width="4" height="4.5" fill="#b26082"/>
<rect x="244" y="158" width="4" height="4.5" fill="#b9637f"/>
<rect x="248" y="158" width="4" height="4.5" fill="#c46679"/>
<rect x="252" y="158" width="4" height="4.5" fill="#d06b71"/>
<rect x="256" y="158" width="4" height="4.5" fill="#d66e6d"/>
<rect x="260" y="158" width="4" height="4.5" fill="#d96f6b"/>
<rect x="264" y="158" width="4" height="4.5" fill="#df7365"/>
<rect x="268" y="158" width="4" height="4.5" fill="#e47760"/>
<rect x="272" y="158" width="4" height="4.5" fill="#e6795e"/>
<rect x="276" y="158" width="4" height="4.5" fill="#ea7c59"/>
<rect x="280" y="158" width="4" height="4.5" fill="#ee8054"/>
<rect x="284" y="158" width="4" height="4.5" fill="#f2864f"/>
<rect x="288" y="158" width="4" height="4.5" fill="#f48c4a"/>
<rect x="292" y="158" width="4" height="4.5" fill="#f08351"/>
<rect x="296" y="158" width="4" height="4.5" fill="#ec7e57"/>
<rect x="300" y="158" width="4" height="4.5" fill="#f18450"/>
<rect x="304" y="158" width="4" height="4.5" fill="#f2864e"/>
<rect x="308" y="158" width="4" height="4.5" fill="#f18550"/>
<rect x="312" y="158" width="8" height="4.5" fill="#f18451"/>
<rect x="320" y="158" width="4" height="4.5" fill="#ec7e57"/>
<rect x="324" y="158" width="4" height="4.5" fill="#e87b5b"/>
<rect x="328" y="158" width="4" height="4.5" fill="#ea7c59"/>
<rect x="332" y="158" width="4" height="4.5" fill="#ef8153"/>
<rect x="336" y="158" width="4" height="4.5" fill="#f48d49"/>
<rect x="340" y="158" width="4" height="4.5" fill="#f79345"/>
<rect x="344" y="158" width="4" height="4.5" fill="#f89642"/>
<rect x="348" y="158" width="4" height="4.5" fill="#f79344"/>
<rect x="352" y="158" width="4" height="4.5" fill="#f79444"/>
<rect x="356" y="158" width="4" height="4.5" fill="#faa43e"/>
<rect x="360" y="158" width="8" height="4.5" fill="#faae3d"/>
<rect x="368" y="158" width="4" height="4.5" fill="#faad3d"/>
<rect x="372" y="158" width="4" height="4.5" fill="#faaa3d"/>
<rect x="376" y="158" width="4" height="4.5" fill="#fa9e3e"/>
<rect x="380" y="158" width="4" height="4.5" fill="#f99841"/>
<rect x="384" y="158" width="4" height="4.5" fill="#f9993f"/>
<rect x="388" y="158" width="4" height="4.5" fill="#fa9a3e"/>
<rect x="392" y="158" width="4" height="4.5" fill="#fa9f3e"/>
<rect x="396" y="158" width="4" height="4.5" fill="#faa13e"/>
<rect x="400" y="158" width="4" height="4.5" fill="#fa9f3e"/>
<rect x="404" y="158" width="4" height="4.5" fill="#fab33d"/>
<rect x="408" y="158" width="4" height="4.5" fill="#f9c23e"/>
<rect x="412" y="158" width="4" height="4.5" fill="#f8ca42"/>
<rect x="416" y="158" width="4" height="4.5" fill="#f8c942"/>
<rect x="420" y="158" width="4" height="4.5" fill="#fabf3d"/>
<rect x="424" y="158" width="4" height="4.5" fill="#fabb3c"/>
<rect x="44" y="162" width="4" height="4.5" fill="#9f5a8a"/>
<rect x="48" y="162" width="4" height="4.5" fill="#a55c87"/>
<rect x="52" y="162" width="4" height="4.5" fill="#a85d86"/>
<rect x="56" y="162" width="4" height="4.5" fill="#a95e85"/>
<rect x="60" y="162" width="4" height="4.5" fill="#9c5a8b"/>
<rect x="64" y="162" width="4" height="4.5" fill="#895491"/>
<rect x="68" y="162" width="4" height="4.5" fill="#895492"/>
<rect x="72" y="162" width="4" height="4.5" fill="#8a5491"/>
<rect x="76" y="162" width="4" height="4.5" fill="#8f5590"/>
<rect x="80" y="162" width="4" height="4.5" fill="#96588d"/>
<rect x="172" y="162" width="4" height="4.5" fill="#c1657b"/>
<rect x="176" y="162" width="4" height="4.5" fill="#c36679"/>
<rect x="180" y="162" width="4" height="4.5" fill="#d56d6e"/>
<rect x="184" y="162" width="4" height="4.5" fill="#df7365"/>
<rect x="188" y="162" width="4" height="4.5" fill="#da6f6a"/>
<rect x="192" y="162" width="4" height="4.5" fill="#d16c70"/>
<rect x="196" y="162" width="4" height="4.5" fill="#c56778"/>
<rect x="200" y="162" width="4" height="4.5" fill="#cd6a73"/>
<rect x="204" y="162" width="8" height="4.5" fill="#d96f6b"/>
<rect x="212" y="162" width="4" height="4.5" fill="#d56d6e"/>
<rect x="216" y="162" width="4" height="4.5" fill="#c76877"/>
<rect x="220" y="162" width="4" height="4.5" fill="#be647d"/>
<rect x="224" y="162" width="8" height="4.5" fill="#ba637f"/>
<rect x="232" y="162" width="4" height="4.5" fill="#bb637e"/>
<rect x="236" y="162" width="4" height="4.5" fill="#c0657c"/>
<rect x="240" y="162" width="4" height="4.5" fill="#c66778"/>
<rect x="244" y="162" width="4" height="4.5" fill="#cb6974"/>
<rect x="248" y="162" width="4" height="4.5" fill="#d46d6e"/>
<rect x="252" y="162" width="4" height="4.5" fill="#dd7167"/>
<rect x="256" y="162" width="4" height="4.5" fill="#e37661"/>
<rect x="260" y="162" width="4" height="4.5" fill="#e6795d"/>
<rect x="264" y="162" width="4" height="4.5" fill="#ea7c59"/>
<rect x="268" y="162" width="4" height="4.5" fill="#ee8054"/>
<rect x="272" y="162" width="4" height="4.5" fill="#f2874e"/>
<rect x="276" y="162" width="8" height="4.5" fill="#f48b4b"/>
<rect x="284" y="162" width="4" height="4.5" fill="#f08252"/>
<rect x="288" y="162" width="4" height="4.5" fill="#e6795e"/>
<rect x="292" y="162" width="4" height="4.5" fill="#ed7f56"/>
<rect x="296" y="162" width="4" height="4.5" fill="#f18450"/>
<rect x="300" y="162" width="4" height="4.5" fill="#f18550"/>
<rect x="304" y="162" width="4" height="4.5" fill="#f08252"/>
<rect x="308" y="162" width="4" height="4.5" fill="#ea7d58"/>
<rect x="312" y="162" width="4" height="4.5" fill="#ee8054"/>
<rect x="316" y="162" width="4" height="4.5" fill="#f38a4b"/>
<rect x="320" y="162" width="4" height="4.5" fill="#f18451"/>
<rect x="324" y="162" width="4" height="4.5" fill="#eb7e58"/>
<rect x="328" y="162" width="4" height="4.5" fill="#e77a5c"/>
<rect x="332" y="162" width="4" height="4.5" fill="#ec7e57"/>
<rect x="336" y="162" width="4" height="4.5" fill="#f58d49"/>
<rect x="340" y="162" width="4" height="4.5" fill="#f69046"/>
<rect x="344" y="162" width="4" height="4.5" fill="#f58f48"/>
<rect x="348" y="162" width="4" height="4.5" fill="#f58f47"/>
<rect x="352" y="162" width="4" height="4.5" fill="#f79344"/>
<rect x="356" y="162" width="4" height="4.5" fill="#fa9f3e"/>
<rect x="360" y="162" width="4" height="4.5" fill="#faaf3d"/>
<rect x="364" y="162" width="4" height="4.5" fill="#fab83c"/>
<rect x="368" y="162" width="4" height="4.5" fill="#fab53d"/>
<rect x="372" y="162" width="4" height="4.5" fill="#faad3d"/>
<rect x="376" y="162" width="4" height="4.5" fill="#f69146"/>
<rect x="380" y="162" width="4" height="4.5" fill="#f08252"/>
<rect x="384" y="162" width="4" height="4.5" fill="#f3894d"/>
<rect x="388" y="162" width="4" height="4.5" fill="#f48c4a"/>
<rect x="392" y="162" width="4" height="4.5" fill="#f69047"/>
<rect x="396" y="162" width="4" height="4.5" fill="#f79443"/>
<rect x="400" y="162" width="4" height="4.5" fill="#f99841"/>
<rect x="404" y="162" width="4" height="4.5" fill="#faab3d"/>
<rect x="408" y="162" width="4" height="4.5" fill="#fabc3c"/>
<rect x="412" y="162" width="4" height="4.5" fill="#f8cb42"/>
<rect x="416" y="162" width="4" height="4.5" fill="#f8c841"/>
<rect x="420" y="162" width="4" height="4.5" fill="#fab53d"/>
<rect x="424" y="162" width="4" height="4.5" fill="#faab3d"/>
<rect x="172" y="166" width="4" height="4.5" fill="#ca6975"/>
<rect x="176" y="166" width="4" height="4.5" fill="#c86876"/>
<rect x="180" y="166" width="4" height="4.5" fill="#d16b71"/>
<rect x="184" y="166" width="4" height="4.5" fill="#d76e6c"/>
<rect x="188" y="166" width="4" height="4.5" fill="#da6f6b"/>
<rect x="192" y="166" width="4" height="4.5" fill="#d96f6b"/>
<rect x="196" y="166" width="4" height="4.5" fill="#d56d6e"/>
<rect x="200" y="166" width="4" height="4.5" fill="#db706a"/>
<rect x="204" y="166" width="4" height="4.5" fill="#e27562"/>
<rect x="208" y="166" width="4" height="4.5" fill="#df7365"/>
<rect x="212" y="166" width="4" height="4.5" fill="#dd7068"/>
<rect x="216" y="166" width="4" height="4.5" fill="#d96f6b"/>
<rect x="220" y="166" width="4" height="4.5" fill="#d66e6d"/>
<rect x="224" y="166" width="4" height="4.5" fill="#d56d6d"/>
<rect x="228" y="166" width="4" height="4.5" fill="#d16c70"/>
<rect x="232" y="166" width="4" height="4.5" fill="#cc6a74"/>
<rect x="236" y="166" width="4" height="4.5" fill="#c86876"/>
<rect x="240" y="166" width="4" height="4.5" fill="#c76877"/>
<rect x="244" y="166" width="4" height="4.5" fill="#cc6a73"/>
<rect x="248" y="166" width="4" height="4.5" fill="#d16c70"/>
<rect x="252" y="166" width="4" height="4.5" fill="#d66d6d"/>
<rect x="256" y="166" width="4" height="4.5" fill="#e07464"/>
<rect x="260" y="166" width="4" height="4.5" fill="#ec7e57"/>
<rect x="264" y="166" width="8" height="4.5" fill="#e77a5c"/>
<rect x="272" y="166" width="4" height="4.5" fill="#f18451"/>
<rect x="276" y="166" width="4" height="4.5" fill="#f38a4b"/>
<rect x="280" y="166" width="4" height="4.5" fill="#f3894c"/>
<rect x="284" y="166" width="4" height="4.5" fill="#f3884d"/>
<rect x="288" y="166" width="8" height="4.5" fill="#f2874e"/>
<rect x="296" y="166" width="4" height="4.5" fill="#f1854f"/>
<rect x="300" y="166" width="4" height="4.5" fill="#ee8054"/>
<rect x="304" y="166" width="4" height="4.5" fill="#ea7c59"/>
<rect x="308" y="166" width="4" height="4.5" fill="#e6795d"/>
<rect x="312" y="166" width="4" height="4.5" fill="#ea7c59"/>
<rect x="316" y="166" width="4" height="4.5" fill="#f18451"/>
<rect x="320" y="166" width="4" height="4.5" fill="#f18550"/>
<rect x="324" y="166" width="4" height="4.5" fill="#f08351"/>
<rect x="328" y="166" width="8" height="4.5" fill="#ed7f56"/>
<rect x="336" y="166" width="4" height="4.5" fill="#f18550"/>
<rect x="340" y="166" width="4" height="4.5" fill="#f38a4c"/>
<rect x="344" y="166" width="4" height="4.5" fill="#f58e48"/>
<rect x="348" y="166" width="4" height="4.5" fill="#f08351"/>
<rect x="352" y="166" width="4" height="4.5" fill="#ee8055"/>
<rect x="356" y="166" width="4" height="4.5" fill="#f58f48"/>
<rect x="360" y="166" width="4" height="4.5" fill="#fa9a3f"/>
<rect x="364" y="166" width="4" height="4.5" fill="#fa9e3e"/>
<rect x="368" y="166" width="4" height="4.5" fill="#faa43e"/>
<rect x="372" y="166" width="4" height="4.5" fill="#faa63d"/>
<rect x="376" y="166" width="4" height="4.5" fill="#f99a3f"/>
<rect x="380" y="166" width="4" height="4.5" fill="#f69146"/>
<rect x="384" y="166" width="8" height="4.5" fill="#f58e48"/>
<rect x="392" y="166" width="4" height="4.5" fill="#f79443"/>
<rect x="396" y="166" width="4" height="4.5" fill="#f79444"/>
<rect x="400" y="166" width="4" height="4.5" fill="#f69146"/>
<rect x="404" y="166" width="4" height="4.5" fill="#faaa3d"/>
<rect x="408" y="166" width="4" height="4.5" fill="#fac03d"/>
<rect x="412" y="166" width="4" height="4.5" fill="#fabf3c"/>
<rect x="416" y="166" width="4" height="4.5" fill="#fabe3c"/>
<rect x="420" y="166" width="4" height="4.5" fill="#fabf3d"/>
<rect x="172" y="170" width="4" height="4.5" fill="#d36c6f"/>
<rect x="176" y="170" width="4" height="4.5" fill="#ce6a72"/>
<rect x="180" y="170" width="4" height="4.5" fill="#cf6b71"/>
<rect x="184" y="170" width="4" height="4.5" fill="#d26c70"/>
<rect x="188" y="170" width="4" height="4.5" fill="#d96f6b"/>
<rect x="192" y="170" width="4" height="4.5" fill="#dc7069"/>
<rect x="196" y="170" width="4" height="4.5" fill="#dd7168"/>
<rect x="200" y="170" width="4" height="4.5" fill="#e17464"/>
<rect x="204" y="170" width="4" height="4.5" fill="#e6795e"/>
<rect x="208" y="170" width="4" height="4.5" fill="#e27562"/>
<rect x="212" y="170" width="4" height="4.5" fill="#e07464"/>
<rect x="216" y="170" width="4" height="4.5" fill="#e37761"/>
<rect x="220" y="170" width="8" height="4.5" fill="#e5785f"/>
<rect x="228" y="170" width="4" height="4.5" fill="#e07464"/>
<rect x="232" y="170" width="4" height="4.5" fill="#d96f6b"/>
<rect x="236" y="170" width="4" height="4.5" fill="#cf6b72"/>
<rect x="240" y="170" width="4" height="4.5" fill="#c96876"/>
<rect x="244" y="170" width="4" height="4.5" fill="#cd6a73"/>
<rect x="248" y="170" width="4" height="4.5" fill="#cf6b71"/>
<rect x="252" y="170" width="4" height="4.5" fill="#d06b71"/>
<rect x="256" y="170" width="4" height="4.5" fill="#df7266"/>
<rect x="260" y="170" width="4" height="4.5" fill="#ef8153"/>
<rect x="264" y="170" width="4" height="4.5" fill="#e77a5d"/>
<rect x="268" y="170" width="4" height="4.5" fill="#e47760"/>
<rect x="272" y="170" width="4" height="4.5" fill="#f18351"/>
<rect x="276" y="170" width="4" height="4.5" fill="#f3894c"/>
<rect x="280" y="170" width="4" height="4.5" fill="#f18450"/>
<rect x="284" y="170" width="4" height="4.5" fill="#f3884d"/>
<rect x="288" y="170" width="4" height="4.5" fill="#f58f48"/>
<rect x="292" y="170" width="4" height="4.5" fill="#f48b4b"/>
<rect x="296" y="170" width="4" height="4.5" fill="#f1864f"/>
<rect x="300" y="170" width="4" height="4.5" fill="#eb7d58"/>
<rect x="304" y="170" width="4" height="4.5" fill="#e5785f"/>
<rect x="308" y="170" width="4" height="4.5" fill="#e37661"/>
<rect x="312" y="170" width="4" height="4.5" fill="#e77a5c"/>
<rect x="316" y="170" width="4" height="4.5" fill="#ef8153"/>
<rect x="320" y="170" width="4" height="4.5" fill="#f2864f"/>
<rect x="324" y="170" width="4" height="4.5" fill="#f2884d"/>
<rect x="328" y="170" width="4" height="4.5" fill="#f18450"/>
<rect x="332" y="170" width="4" height="4.5" fill="#ef8153"/>
<rect x="336" y="170" width="4" height="4.5" fill="#f08252"/>
<rect x="340" y="170" width="4" height="4.5" fill="#f2884d"/>
<rect x="344" y="170" width="4" height="4.5" fill="#f69146"/>
<rect x="348" y="170" width="4" height="4.5" fill="#ee8054"/>
<rect x="352" y="170" width="4" height="4.5" fill="#e77a5c"/>
<rect x="356" y="170" width="4" height="4.5" fill="#f2864f"/>
<rect x="360" y="170" width="4" height="4.5" fill="#f69047"/>
<rect x="364" y="170" width="4" height="4.5" fill="#f69245"/>
<rect x="368" y="170" width="4" height="4.5" fill="#f99940"/>
<rect x="372" y="170" width="4" height="4.5" fill="#faa33e"/>
<rect x="376" y="170" width="4" height="4.5" fill="#faa53d"/>
<rect x="380" y="170" width="4" height="4.5" fill="#fa9f3e"/>
<rect x="384" y="170" width="4" height="4.5" fill="#f79344"/>
<rect x="388" y="170" width="4" height="4.5" fill="#f69146"/>
<rect x="392" y="170" width="4" height="4.5" fill="#f99940"/>
<rect x="396" y="170" width="4" height="4.5" fill="#f89543"/>
<rect x="400" y="170" width="4" height="4.5" fill="#f58f48"/>
<rect x="404" y="170" width="4" height="4.5" fill="#faa63d"/>
<rect x="408" y="170" width="4" height="4.5" fill="#faba3c"/>
<rect x="412" y="170" width="4" height="4.5" fill="#fab33d"/>
<rect x="416" y="170" width="4" height="4.5" fill="#fab63c"/>
<rect x="420" y="170" width="4" height="4.5" fill="#f9c540"/>
<rect x="176" y="174" width="4" height="4.5" fill="#d66e6d"/>
<rect x="180" y="174" width="4" height="4.5" fill="#d76e6c"/>
<rect x="184" y="174" width="4" height="4.5" fill="#d86e6c"/>
<rect x="188" y="174" width="4" height="4.5" fill="#d66d6d"/>
<rect x="192" y="174" width="4" height="4.5" fill="#d46d6e"/>
<rect x="196" y="174" width="4" height="4.5" fill="#d26c6f"/>
<rect x="200" y="174" width="4" height="4.5" fill="#d96f6b"/>
<rect x="204" y="174" width="4" height="4.5" fill="#e17463"/>
<rect x="208" y="174" width="4" height="4.5" fill="#df7365"/>
<rect x="212" y="174" width="4" height="4.5" fill="#df7266"/>
<rect x="216" y="174" width="4" height="4.5" fill="#df7365"/>
<rect x="220" y="174" width="4" height="4.5" fill="#df7266"/>
<rect x="224" y="174" width="4" height="4.5" fill="#de7267"/>
<rect x="228" y="174" width="4" height="4.5" fill="#dd7167"/>
<rect x="232" y="174" width="4" height="4.5" fill="#dd7168"/>
<rect x="236" y="174" width="4" height="4.5" fill="#d46d6f"/>
<rect x="240" y="174" width="4" height="4.5" fill="#ce6a72"/>
<rect x="244" y="174" width="4" height="4.5" fill="#d36c6f"/>
<rect x="248" y="174" width="4" height="4.5" fill="#d56d6e"/>
<rect x="252" y="174" width="4" height="4.5" fill="#d46d6e"/>
<rect x="256" y="174" width="4" height="4.5" fill="#df7366"/>
<rect x="260" y="174" width="4" height="4.5" fill="#eb7e57"/>
<rect x="264" y="174" width="4" height="4.5" fill="#ea7d58"/>
<rect x="268" y="174" width="4" height="4.5" fill="#ec7f56"/>
<rect x="272" y="174" width="4" height="4.5" fill="#f38b4b"/>
<rect x="276" y="174" width="4" height="4.5" fill="#f3894d"/>
<rect x="280" y="174" width="4" height="4.5" fill="#e87b5c"/>
<rect x="284" y="174" width="4" height="4.5" fill="#e77a5c"/>
<rect x="288" y="174" width="4" height="4.5" fill="#eb7e57"/>
<rect x="292" y="174" width="4" height="4.5" fill="#ef8153"/>
<rect x="296" y="174" width="4" height="4.5" fill="#ef8253"/>
<rect x="300" y="174" width="4" height="4.5" fill="#e77a5d"/>
<rect x="304" y="174" width="4" height="4.5" fill="#e17464"/>
<rect x="308" y="174" width="4" height="4.5" fill="#df7365"/>
<rect x="312" y="174" width="4" height="4.5" fill="#e87a5c"/>
<rect x="316" y="174" width="4" height="4.5" fill="#f3894d"/>
<rect x="320" y="174" width="4" height="4.5" fill="#f2884d"/>
<rect x="324" y="174" width="4" height="4.5" fill="#f2864f"/>
<rect x="328" y="174" width="4" height="4.5" fill="#f18450"/>
<rect x="332" y="174" width="4" height="4.5" fill="#f08252"/>
<rect x="336" y="174" width="4" height="4.5" fill="#ef8153"/>
<rect x="340" y="174" width="4" height="4.5" fill="#f2874e"/>
<rect x="344" y="174" width="4" height="4.5" fill="#f69047"/>
<rect x="348" y="174" width="4" height="4.5" fill="#f38a4c"/>
<rect x="352" y="174" width="8" height="4.5" fill="#f1864f"/>
<rect x="360" y="174" width="4" height="4.5" fill="#f38a4c"/>
<rect x="364" y="174" width="4" height="4.5" fill="#f59047"/>
<rect x="368" y="174" width="4" height="4.5" fill="#f99940"/>
<rect x="372" y="174" width="4" height="4.5" fill="#faa63d"/>
<rect x="376" y="174" width="4" height="4.5" fill="#faa53d"/>
<rect x="380" y="174" width="4" height="4.5" fill="#fa9e3e"/>
<rect x="384" y="174" width="4" height="4.5" fill="#f69245"/>
<rect x="388" y="174" width="4" height="4.5" fill="#f69047"/>
<rect x="392" y="174" width="4" height="4.5" fill="#f99940"/>
<rect x="396" y="174" width="8" height="4.5" fill="#fa9c3e"/>
<rect x="404" y="174" width="4" height="4.5" fill="#fa9b3e"/>
<rect x="408" y="174" width="4" height="4.5" fill="#fa9c3e"/>
<rect x="412" y="174" width="4" height="4.5" fill="#faa83d"/>
<rect x="416" y="174" width="4" height="4.5" fill="#fab43d"/>
<rect x="420" y="174" width="4" height="4.5" fill="#fac03d"/>
<rect x="180" y="178" width="8" height="4.5" fill="#d96f6b"/>
<rect x="188" y="178" width="4" height="4.5" fill="#d16b71"/>
<rect x="192" y="178" width="4" height="4.5" fill="#cc6a74"/>
<rect x="196" y="178" width="4" height="4.5" fill="#cb6974"/>
<rect x="200" y="178" width="4" height="4.5" fill="#d46d6f"/>
<rect x="204" y="178" width="4" height="4.5" fill="#df7365"/>
<rect x="208" y="178" width="8" height="4.5" fill="#de7266"/>
<rect x="216" y="178" width="4" height="4.5" fill="#df7366"/>
<rect x="220" y="178" width="4" height="4.5" fill="#df7266"/>
<rect x="224" y="178" width="4" height="4.5" fill="#de7267"/>
<rect x="228" y="178" width="4" height="4.5" fill="#e17563"/>
<rect x="232" y="178" width="4" height="4.5" fill="#e6795e"/>
<rect x="236" y="178" width="4" height="4.5" fill="#e07365"/>
<rect x="240" y="178" width="4" height="4.5" fill="#dc7069"/>
<rect x="244" y="178" width="4" height="4.5" fill="#dd7168"/>
<rect x="248" y="178" width="4" height="4.5" fill="#de7266"/>
<rect x="252" y="178" width="4" height="4.5" fill="#e07365"/>
<rect x="256" y="178" width="4" height="4.5" fill="#e37761"/>
<rect x="260" y="178" width="4" height="4.5" fill="#e87b5b"/>
<rect x="264" y="178" width="4" height="4.5" fill="#eb7d58"/>
<rect x="268" y="178" width="4" height="4.5" fill="#ef8153"/>
<rect x="272" y="178" width="4" height="4.5" fill="#f48b4b"/>
<rect x="276" y="178" width="4" height="4.5" fill="#f1864f"/>
<rect x="280" y="178" width="4" height="4.5" fill="#e27662"/>
<rect x="284" y="178" width="4" height="4.5" fill="#e17464"/>
<rect x="288" y="178" width="4" height="4.5" fill="#e47760"/>
<rect x="292" y="178" width="4" height="4.5" fill="#e87a5c"/>
<rect x="296" y="178" width="4" height="4.5" fill="#e87b5b"/>
<rect x="300" y="178" width="4" height="4.5" fill="#e37661"/>
<rect x="304" y="178" width="4" height="4.5" fill="#e07365"/>
<rect x="308" y="178" width="4" height="4.5" fill="#e17464"/>
<rect x="312" y="178" width="4" height="4.5" fill="#e77a5c"/>
<rect x="316" y="178" width="4" height="4.5" fill="#f18451"/>
<rect x="320" y="178" width="4" height="4.5" fill="#f2864f"/>
<rect x="324" y="178" width="4" height="4.5" fill="#f2874e"/>
<rect x="328" y="178" width="4" height="4.5" fill="#f2864f"/>
<rect x="332" y="178" width="4" height="4.5" fill="#f18450"/>
<rect x="336" y="178" width="4" height="4.5" fill="#f08351"/>
<rect x="340" y="178" width="4" height="4.5" fill="#f2884d"/>
<rect x="344" y="178" width="4" height="4.5" fill="#f58f48"/>
<rect x="348" y="178" width="4" height="4.5" fill="#f79443"/>
<rect x="352" y="178" width="4" height="4.5" fill="#f99841"/>
<rect x="356" y="178" width="8" height="4.5" fill="#f79443"/>
<rect x="364" y="178" width="4" height="4.5" fill="#f89642"/>
<rect x="368" y="178" width="4" height="4.5" fill="#fa9b3e"/>
<rect x="372" y="178" width="4" height="4.5" fill="#faa23e"/>
<rect x="376" y="178" width="4" height="4.5" fill="#faa43d"/>
<rect x="380" y="178" width="4" height="4.5" fill="#faa13e"/>
<rect x="384" y="178" width="4" height="4.5" fill="#f79543"/>
<rect x="388" y="178" width="4" height="4.5" fill="#f79444"/>
<rect x="392" y="178" width="4" height="4.5" fill="#fa9e3e"/>
<rect x="396" y="178" width="4" height="4.5" fill="#faa43d"/>
<rect x="400" y="178" width="4" height="4.5" fill="#faa83d"/>
<rect x="404" y="178" width="4" height="4.5" fill="#fa9c3e"/>
<rect x="408" y="178" width="4" height="4.5" fill="#f99840"/>
<rect x="412" y="178" width="4" height="4.5" fill="#faa63d"/>
<rect x="416" y="178" width="4" height="4.5" fill="#fab13d"/>
<rect x="420" y="178" width="4" height="4.5" fill="#fab63c"/>
<rect x="188" y="182" width="4" height="4.5" fill="#c96975"/>
<rect x="192" y="182" width="4" height="4.5" fill="#c56778"/>
<rect x="196" y="182" width="4" height="4.5" fill="#c86876"/>
<rect x="200" y="182" width="4" height="4.5" fill="#d36c6f"/>
<rect x="204" y="182" width="4" height="4.5" fill="#e17463"/>
<rect x="208" y="182" width="4" height="4.5" fill="#e07365"/>
<rect x="212" y="182" width="4" height="4.5" fill="#e07465"/>
<rect x="216" y="182" width="4" height="4.5" fill="#e4785f"/>
<rect x="220" y="182" width="4" height="4.5" fill="#e6795d"/>
<rect x="224" y="182" width="4" height="4.5" fill="#e6795e"/>
<rect x="228" y="182" width="4" height="4.5" fill="#ec7f56"/>
<rect x="232" y="182" width="4" height="4.5" fill="#f3884d"/>
<rect x="236" y="182" width="4" height="4.5" fill="#f18451"/>
<rect x="240" y="182" width="4" height="4.5" fill="#ee8054"/>
<rect x="244" y="182" width="4" height="4.5" fill="#e97c5a"/>
<rect x="248" y="182" width="4" height="4.5" fill="#ea7d59"/>
<rect x="252" y="182" width="4" height="4.5" fill="#f08252"/>
<rect x="256" y="182" width="4" height="4.5" fill="#ec7e57"/>
<rect x="260" y="182" width="4" height="4.5" fill="#e5785f"/>
<rect x="264" y="182" width="4" height="4.5" fill="#e87b5b"/>
<rect x="268" y="182" width="4" height="4.5" fill="#ec7e57"/>
<rect x="272" y="182" width="4" height="4.5" fill="#f18550"/>
<rect x="276" y="182" width="4" height="4.5" fill="#ef8153"/>
<rect x="280" y="182" width="4" height="4.5" fill="#e17563"/>
<rect x="284" y="182" width="4" height="4.5" fill="#e17463"/>
<rect x="288" y="182" width="4" height="4.5" fill="#e5785f"/>
<rect x="292" y="182" width="4" height="4.5" fill="#e17464"/>
<rect x="296" y="182" width="4" height="4.5" fill="#dd7168"/>
<rect x="300" y="182" width="4" height="4.5" fill="#df7366"/>
<rect x="304" y="182" width="4" height="4.5" fill="#e27562"/>
<rect x="308" y="182" width="4" height="4.5" fill="#e77a5c"/>
<rect x="312" y="182" width="4" height="4.5" fill="#e5785e"/>
<rect x="316" y="182" width="4" height="4.5" fill="#e37661"/>
<rect x="320" y="182" width="4" height="4.5" fill="#ee8054"/>
<rect x="324" y="182" width="4" height="4.5" fill="#f38a4b"/>
<rect x="328" y="182" width="4" height="4.5" fill="#f38a4c"/>
<rect x="332" y="182" width="8" height="4.5" fill="#f2884d"/>
<rect x="340" y="182" width="4" height="4.5" fill="#f3894d"/>
<rect x="344" y="182" width="4" height="4.5" fill="#f38a4b"/>
<rect x="348" y="182" width="4" height="4.5" fill="#fa9a3f"/>
<rect x="352" y="182" width="4" height="4.5" fill="#faaf3d"/>
<rect x="356" y="182" width="4" height="4.5" fill="#fab83c"/>
<rect x="360" y="182" width="4" height="4.5" fill="#fab53d"/>
<rect x="364" y="182" width="4" height="4.5" fill="#faa83d"/>
<rect x="368" y="182" width="4" height="4.5" fill="#fa9f3e"/>
<rect x="372" y="182" width="4" height="4.5" fill="#f99840"/>
<rect x="376" y="182" width="4" height="4.5" fill="#faa23e"/>
<rect x="380" y="182" width="4" height="4.5" fill="#faa63d"/>
<rect x="384" y="182" width="8" height="4.5" fill="#fa9a3f"/>
<rect x="392" y="182" width="4" height="4.5" fill="#faa73d"/>
<rect x="396" y="182" width="4" height="4.5" fill="#faa93d"/>
<rect x="400" y="182" width="4" height="4.5" fill="#faa83d"/>
<rect x="404" y="182" width="4" height="4.5" fill="#faa73d"/>
<rect x="408" y="182" width="4" height="4.5" fill="#faa93d"/>
<rect x="412" y="182" width="8" height="4.5" fill="#fab03d"/>
<rect x="196" y="186" width="4" height="4.5" fill="#cd6a73"/>
<rect x="200" y="186" width="4" height="4.5" fill="#d86e6c"/>
<rect x="204" y="186" width="4" height="4.5" fill="#e47760"/>
<rect x="208" y="186" width="4" height="4.5" fill="#e5785f"/>
<rect x="212" y="186" width="4" height="4.5" fill="#e6795e"/>
<rect x="216" y="186" width="4" height="4.5" fill="#eb7e58"/>
<rect x="220" y="186" width="4" height="4.5" fill="#ec7f56"/>
<rect x="224" y="186" width="4" height="4.5" fill="#ea7c59"/>
<rect x="228" y="186" width="4" height="4.5" fill="#f08351"/>
<rect x="232" y="186" width="4" height="4.5" fill="#f69046"/>
<rect x="236" y="186" width="4" height="4.5" fill="#f2864f"/>
<rect x="240" y="186" width="4" height="4.5" fill="#ee8055"/>
<rect x="244" y="186" width="4" height="4.5" fill="#ed7f56"/>
<rect x="248" y="186" width="4" height="4.5" fill="#ec7e57"/>
<rect x="252" y="186" width="4" height="4.5" fill="#eb7d58"/>
<rect x="256" y="186" width="4" height="4.5" fill="#e77a5c"/>
<rect x="260" y="186" width="4" height="4.5" fill="#e37761"/>
<rect x="264" y="186" width="4" height="4.5" fill="#eb7d58"/>
<rect x="268" y="186" width="4" height="4.5" fill="#f08252"/>
<rect x="272" y="186" width="4" height="4.5" fill="#ee8055"/>
<rect x="276" y="186" width="4" height="4.5" fill="#ea7d59"/>
<rect x="280" y="186" width="4" height="4.5" fill="#e6795e"/>
<rect x="284" y="186" width="4" height="4.5" fill="#e5785f"/>
<rect x="288" y="186" width="4" height="4.5" fill="#e6795e"/>
<rect x="292" y="186" width="4" height="4.5" fill="#df7365"/>
<rect x="296" y="186" width="4" height="4.5" fill="#da6f6a"/>
<rect x="300" y="186" width="4" height="4.5" fill="#dd7168"/>
<rect x="304" y="186" width="4" height="4.5" fill="#de7267"/>
<rect x="308" y="186" width="4" height="4.5" fill="#e17463"/>
<rect x="312" y="186" width="8" height="4.5" fill="#df7365"/>
<rect x="320" y="186" width="4" height="4.5" fill="#ee8054"/>
<rect x="324" y="186" width="4" height="4.5" fill="#f58f48"/>
<rect x="328" y="186" width="4" height="4.5" fill="#f69146"/>
<rect x="332" y="186" width="4" height="4.5" fill="#f69047"/>
<rect x="336" y="186" width="4" height="4.5" fill="#f48d49"/>
<rect x="340" y="186" width="8" height="4.5" fill="#f48c4a"/>
<rect x="348" y="186" width="4" height="4.5" fill="#fa9b3e"/>
<rect x="352" y="186" width="4" height="4.5" fill="#faae3d"/>
<rect x="356" y="186" width="4" height="4.5" fill="#fab33d"/>
<rect x="360" y="186" width="4" height="4.5" fill="#fab43d"/>
<rect x="364" y="186" width="4" height="4.5" fill="#faaf3d"/>
<rect x="368" y="186" width="12" height="4.5" fill="#faae3d"/>
<rect x="380" y="186" width="4" height="4.5" fill="#faab3d"/>
<rect x="384" y="186" width="4" height="4.5" fill="#faa03e"/>
<rect x="388" y="186" width="4" height="4.5" fill="#fa9f3e"/>
<rect x="392" y="186" width="4" height="4.5" fill="#faa63d"/>
<rect x="396" y="186" width="4" height="4.5" fill="#faa53d"/>
<rect x="400" y="186" width="4" height="4.5" fill="#faa13e"/>
<rect x="404" y="186" width="4" height="4.5" fill="#faa23e"/>
<rect x="408" y="186" width="4" height="4.5" fill="#faa43d"/>
<rect x="412" y="186" width="8" height="4.5" fill="#faa63d"/>
<rect x="216" y="190" width="8" height="4.5" fill="#f18550"/>
<rect x="224" y="190" width="4" height="4.5" fill="#ec7f56"/>
<rect x="228" y="190" width="4" height="4.5" fill="#f2864f"/>
<rect x="232" y="190" width="4" height="4.5" fill="#f89543"/>
<rect x="236" y="190" width="4" height="4.5" fill="#f08252"/>
<rect x="240" y="190" width="4" height="4.5" fill="#e6795d"/>
<rect x="244" y="190" width="4" height="4.5" fill="#ec7f56"/>
<rect x="248" y="190" width="4" height="4.5" fill="#e97c5a"/>
<rect x="252" y="190" width="8" height="4.5" fill="#de7266"/>
<rect x="260" y="190" width="4" height="4.5" fill="#e27562"/>
<rect x="264" y="190" width="4" height="4.5" fill="#ef8153"/>
<rect x="268" y="190" width="4" height="4.5" fill="#f3894c"/>
<rect x="272" y="190" width="4" height="4.5" fill="#e97c5a"/>
<rect x="276" y="190" width="4" height="4.5" fill="#e5785e"/>
<rect x="280" y="190" width="4" height="4.5" fill="#eb7e57"/>
<rect x="284" y="190" width="4" height="4.5" fill="#ea7d59"/>
<rect x="292" y="190" width="4" height="4.5" fill="#e17464"/>
<rect x="296" y="190" width="4" height="4.5" fill="#db7069"/>
<rect x="300" y="190" width="4" height="4.5" fill="#db706a"/>
<rect x="304" y="190" width="4" height="4.5" fill="#d86e6c"/>
<rect x="308" y="190" width="4" height="4.5" fill="#d46d6e"/>
<rect x="312" y="190" width="4" height="4.5" fill="#d76e6c"/>
<rect x="316" y="190" width="4" height="4.5" fill="#df7365"/>
<rect x="320" y="190" width="4" height="4.5" fill="#f08252"/>
<rect x="324" y="190" width="4" height="4.5" fill="#f79444"/>
<rect x="328" y="190" width="4" height="4.5" fill="#fa9a3f"/>
<rect x="332" y="190" width="4" height="4.5" fill="#f99940"/>
<rect x="336" y="190" width="4" height="4.5" fill="#f79345"/>
<rect x="340" y="190" width="4" height="4.5" fill="#f69046"/>
<rect x="344" y="190" width="4" height="4.5" fill="#f69047"/>
<rect x="348" y="190" width="4" height="4.5" fill="#f99940"/>
<rect x="352" y="190" width="4" height="4.5" fill="#faa23e"/>
<rect x="356" y="190" width="4" height="4.5" fill="#faa03e"/>
<rect x="360" y="190" width="4" height="4.5" fill="#faa43d"/>
<rect x="364" y="190" width="4" height="4.5" fill="#fab03d"/>
<rect x="368" y="190" width="4" height="4.5" fill="#fac03d"/>
<rect x="372" y="190" width="4" height="4.5" fill="#f6d447"/>
<rect x="376" y="190" width="4" height="4.5" fill="#fabe3c"/>
<rect x="380" y="190" width="4" height="4.5" fill="#faae3d"/>
<rect x="384" y="190" width="4" height="4.5" fill="#faa53d"/>
<rect x="388" y="190" width="8" height="4.5" fill="#faa13e"/>
<rect x="396" y="190" width="4" height="4.5" fill="#fa9d3e"/>
<rect x="400" y="190" width="4" height="4.5" fill="#f99840"/>
<rect x="404" y="190" width="8" height="4.5" fill="#f99940"/>
<rect x="412" y="190" width="4" height="4.5" fill="#f99840"/>
<rect x="416" y="190" width="4" height="4.5" fill="#fa9a3e"/>
<rect x="224" y="194" width="4" height="4.5" fill="#ea7d59"/>
<rect x="228" y="194" width="4" height="4.5" fill="#ed8055"/>
<rect x="232" y="194" width="4" height="4.5" fill="#f2864f"/>
<rect x="236" y="194" width="4" height="4.5" fill="#f08252"/>
<rect x="240" y="194" width="4" height="4.5" fill="#ed7f55"/>
<rect x="244" y="194" width="4" height="4.5" fill="#ef8153"/>
<rect x="248" y="194" width="4" height="4.5" fill="#eb7e58"/>
<rect x="252" y="194" width="4" height="4.5" fill="#e07464"/>
<rect x="256" y="194" width="4" height="4.5" fill="#e47760"/>
<rect x="260" y="194" width="4" height="4.5" fill="#ed7f56"/>
<rect x="264" y="194" width="4" height="4.5" fill="#f48d49"/>
<rect x="268" y="194" width="4" height="4.5" fill="#f69146"/>
<rect x="272" y="194" width="4" height="4.5" fill="#e77a5c"/>
<rect x="276" y="194" width="4" height="4.5" fill="#e27562"/>
<rect x="280" y="194" width="8" height="4.5" fill="#ec7f56"/>
<rect x="296" y="194" width="4" height="4.5" fill="#e17563"/>
<rect x="300" y="194" width="4" height="4.5" fill="#e47760"/>
<rect x="304" y="194" width="4" height="4.5" fill="#de7266"/>
<rect x="308" y="194" width="4" height="4.5" fill="#d16c70"/>
<rect x="312" y="194" width="4" height="4.5" fill="#d56d6e"/>
<rect x="316" y="194" width="4" height="4.5" fill="#e27562"/>
<rect x="320" y="194" width="4" height="4.5" fill="#f2874e"/>
<rect x="324" y="194" width="4" height="4.5" fill="#f99840"/>
<rect x="328" y="194" width="4" height="4.5" fill="#f99940"/>
<rect x="332" y="194" width="4" height="4.5" fill="#f89642"/>
<rect x="336" y="194" width="4" height="4.5" fill="#f79344"/>
<rect x="340" y="194" width="4" height="4.5" fill="#f79543"/>
<rect x="344" y="194" width="4" height="4.5" fill="#f99741"/>
<rect x="348" y="194" width="4" height="4.5" fill="#fa9a3f"/>
<rect x="352" y="194" width="4" height="4.5" fill="#fa9f3e"/>
<rect x="356" y="194" width="4" height="4.5" fill="#faaa3d"/>
<rect x="360" y="194" width="4" height="4.5" fill="#faab3d"/>
<rect x="364" y="194" width="4" height="4.5" fill="#faa23e"/>
<rect x="368" y="194" width="4" height="4.5" fill="#faad3d"/>
<rect x="372" y="194" width="4" height="4.5" fill="#fabf3d"/>
<rect x="376" y="194" width="4" height="4.5" fill="#faaa3d"/>
<rect x="380" y="194" width="4" height="4.5" fill="#fa9d3e"/>
<rect x="384" y="194" width="4" height="4.5" fill="#faa53d"/>
<rect x="388" y="194" width="4" height="4.5" fill="#faa73d"/>
<rect x="392" y="194" width="4" height="4.5" fill="#faa33e"/>
<rect x="396" y="194" width="4" height="4.5" fill="#f99840"/>
<rect x="400" y="194" width="4" height="4.5" fill="#f58e49"/>
<rect x="404" y="194" width="4" height="4.5" fill="#f99741"/>
<rect x="408" y="194" width="4" height="4.5" fill="#fa9f3e"/>
<rect x="412" y="194" width="8" height="4.5" fill="#f99a3f"/>
<rect x="224" y="198" width="4" height="4.5" fill="#e97c5a"/>
<rect x="228" y="198" width="4" height="4.5" fill="#ea7d59"/>
<rect x="232" y="198" width="4" height="4.5" fill="#ee8055"/>
<rect x="236" y="198" width="4" height="4.5" fill="#f08352"/>
<rect x="240" y="198" width="4" height="4.5" fill="#f18550"/>
<rect x="244" y="198" width="4" height="4.5" fill="#f18351"/>
<rect x="248" y="198" width="4" height="4.5" fill="#ec7f56"/>
<rect x="252" y="198" width="4" height="4.5" fill="#e47760"/>
<rect x="256" y="198" width="4" height="4.5" fill="#ea7c59"/>
<rect x="260" y="198" width="4" height="4.5" fill="#f2874e"/>
<rect x="264" y="198" width="4" height="4.5" fill="#f69245"/>
<rect x="268" y="198" width="4" height="4.5" fill="#f79245"/>
<rect x="272" y="198" width="4" height="4.5" fill="#e77a5d"/>
<rect x="276" y="198" width="4" height="4.5" fill="#e17463"/>
<rect x="280" y="198" width="4" height="4.5" fill="#ec7f56"/>
<rect x="284" y="198" width="4" height="4.5" fill="#ec7e57"/>
<rect x="308" y="198" width="4" height="4.5" fill="#d06b71"/>
<rect x="312" y="198" width="4" height="4.5" fill="#d36d6f"/>
<rect x="316" y="198" width="4" height="4.5" fill="#e27562"/>
<rect x="320" y="198" width="4" height="4.5" fill="#f3884d"/>
<rect x="324" y="198" width="4" height="4.5" fill="#f99a3f"/>
<rect x="328" y="198" width="4" height="4.5" fill="#f89741"/>
<rect x="332" y="198" width="4" height="4.5" fill="#f79443"/>
<rect x="336" y="198" width="4" height="4.5" fill="#f79543"/>
<rect x="340" y="198" width="4" height="4.5" fill="#f99741"/>
<rect x="344" y="198" width="8" height="4.5" fill="#fa9b3e"/>
<rect x="352" y="198" width="4" height="4.5" fill="#fa9e3e"/>
<rect x="356" y="198" width="4" height="4.5" fill="#faae3d"/>
<rect x="360" y="198" width="4" height="4.5" fill="#faac3d"/>
<rect x="364" y="198" width="4" height="4.5" fill="#f99940"/>
<rect x="368" y="198" width="4" height="4.5" fill="#faa03e"/>
<rect x="372" y="198" width="4" height="4.5" fill="#fab33d"/>
<rect x="376" y="198" width="4" height="4.5" fill="#fa9d3e"/>
<rect x="380" y="198" width="4" height="4.5" fill="#f79443"/>
<rect x="384" y="198" width="4" height="4.5" fill="#faa33e"/>
<rect x="388" y="198" width="4" height="4.5" fill="#faaa3d"/>
<rect x="392" y="198" width="4" height="4.5" fill="#faa73d"/>
<rect x="396" y="198" width="4" height="4.5" fill="#f99741"/>
<rect x="400" y="198" width="4" height="4.5" fill="#f3894d"/>
<rect x="404" y="198" width="4" height="4.5" fill="#f99841"/>
<rect x="408" y="198" width="4" height="4.5" fill="#faa53d"/>
<rect x="412" y="198" width="4" height="4.5" fill="#fa9d3e"/>
<rect x="228" y="202" width="4" height="4.5" fill="#f08351"/>
<rect x="232" y="202" width="4" height="4.5" fill="#f58e48"/>
<rect x="236" y="202" width="4" height="4.5" fill="#f38a4c"/>
<rect x="240" y="202" width="4" height="4.5" fill="#f18550"/>
<rect x="244" y="202" width="4" height="4.5" fill="#ef8154"/>
<rect x="248" y="202" width="4" height="4.5" fill="#ed7f55"/>
<rect x="252" y="202" width="4" height="4.5" fill="#ee8054"/>
<rect x="256" y="202" width="4" height="4.5" fill="#f08252"/>
<rect x="260" y="202" width="4" height="4.5" fill="#f1854f"/>
<rect x="264" y="202" width="4" height="4.5" fill="#f08351"/>
<rect x="268" y="202" width="4" height="4.5" fill="#ed8055"/>
<rect x="272" y="202" width="4" height="4.5" fill="#e87a5c"/>
<rect x="276" y="202" width="4" height="4.5" fill="#e6795e"/>
<rect x="280" y="202" width="4" height="4.5" fill="#e87b5b"/>
<rect x="316" y="202" width="4" height="4.5" fill="#d86e6c"/>
<rect x="320" y="202" width="4" height="4.5" fill="#ed7f55"/>
<rect x="324" y="202" width="4" height="4.5" fill="#f69146"/>
<rect x="328" y="202" width="4" height="4.5" fill="#f89543"/>
<rect x="332" y="202" width="4" height="4.5" fill="#f89642"/>
<rect x="336" y="202" width="4" height="4.5" fill="#f99840"/>
<rect x="340" y="202" width="4" height="4.5" fill="#f89642"/>
<rect x="344" y="202" width="4" height="4.5" fill="#f79344"/>
<rect x="348" y="202" width="4" height="4.5" fill="#fa9c3e"/>
<rect x="352" y="202" width="4" height="4.5" fill="#faa43d"/>
<rect x="356" y="202" width="4" height="4.5" fill="#fa9d3e"/>
<rect x="360" y="202" width="8" height="4.5" fill="#fa9a3f"/>
<rect x="368" y="202" width="4" height="4.5" fill="#faa63d"/>
<rect x="372" y="202" width="4" height="4.5" fill="#fab73c"/>
<rect x="376" y="202" width="4" height="4.5" fill="#faa23e"/>
<rect x="380" y="202" width="4" height="4.5" fill="#f89742"/>
<rect x="384" y="202" width="4" height="4.5" fill="#fa9b3e"/>
<rect x="388" y="202" width="4" height="4.5" fill="#faa53d"/>
<rect x="392" y="202" width="4" height="4.5" fill="#fab03d"/>
<rect x="396" y="202" width="4" height="4.5" fill="#faa63d"/>
<rect x="400" y="202" width="4" height="4.5" fill="#f89741"/>
<rect x="404" y="202" width="4" height="4.5" fill="#fa9e3e"/>
<rect x="408" y="202" width="4" height="4.5" fill="#faa53d"/>
</g></g>
<path d="M40.5,145.7 L42.8,145.2 L44.4,143.1 L46.6,140.4 L49.8,139.3 L53.0,137.7 L57.3,137.2 L61.6,136.9 L65.9,136.9 L70.2,136.6 L73.9,136.1 L75.5,133.4 L77.1,130.2 L79.8,128.0 L83.0,127.0 L84.3,126.8 L85.9,123.6 L88.3,119.3 L91.2,116.4 L94.8,114.4 L91.5,111.2 L90.2,106.7 L91.2,101.9 L93.9,97.0 L97.2,93.0 L99.6,89.8 L102.0,86.6 L107.6,85.0 L113.3,82.5 L118.9,78.5 L121.5,76.5 L121.5,72.0 L120.5,66.8 L121.3,61.4 L123.4,59.3 L126.1,57.7 L129.3,56.6 L132.0,57.1 L134.7,57.7 L138.4,58.2 L142.2,60.3 L145.4,61.9 L148.6,62.3 L151.8,61.4 L154.0,59.3 L157.2,56.6 L159.9,54.4 L163.1,53.4 L165.8,52.3 L167.9,49.6 L169.5,47.5 L172.2,45.8 L175.5,45.8 L178.7,47.5 L181.9,49.1 L185.1,50.7 L186.7,52.3 L187.0,55.5 L187.8,58.2 L188.9,62.5 L189.9,64.1 L192.1,67.8 L194.8,70.0 L198.0,72.1 L201.2,76.0 L202.9,77.5 L207.2,80.7 L211.5,83.4 L215.8,84.5 L218.4,86.6 L219.5,90.4 L222.2,90.9 L224.3,92.0 L227.0,93.1 L228.6,95.8 L230.2,97.9 L232.9,99.0 L235.1,101.1 L236.7,103.3 L237.7,105.9 L238.8,108.6 L239.2,110.0 L237.6,113.8 L237.0,116.4 L235.4,118.6 L235.4,119.7 L236.0,122.9 L238.1,122.9 L240.2,121.3 L242.4,118.6 L244.0,115.9 L246.1,113.8 L247.7,111.6 L248.5,109.2 L246.9,105.9 L244.2,104.3 L243.1,102.2 L243.6,98.4 L245.3,95.2 L247.2,94.5 L250.1,96.1 L253.5,97.3 L255.5,98.8 L257.5,101.0 L259.0,100.6 L260.6,98.2 L260.0,95.0 L258.3,91.8 L256.0,89.3 L253.0,88.2 L249.0,87.2 L244.7,85.6 L240.4,83.4 L237.7,80.7 L239.4,77.5 L236.1,77.0 L230.8,75.9 L226.5,73.2 L222.7,70.0 L220.6,67.3 L219.0,63.0 L218.4,59.3 L215.8,56.0 L211.5,52.8 L207.2,49.6 L205.0,46.4 L204.5,41.6 L206.1,39.4 L204.5,36.7 L203.9,33.5 L206.1,30.8 L210.4,29.8 L213.1,28.7 L216.3,28.4 L218.1,30.1 L216.8,32.4 L216.8,34.6 L217.9,37.8 L219.5,40.0 L221.1,36.7 L222.2,34.6 L224.3,34.0 L225.9,35.7 L227.0,37.8 L227.6,40.0 L228.6,43.2 L230.8,45.3 L232.9,46.9 L231.8,48.5 L229.7,49.1 L230.8,51.2 L232.9,52.8 L236.1,55.0 L239.4,57.1 L242.6,58.2 L245.8,59.3 L249.0,61.4 L252.2,64.1 L255.5,66.2 L258.7,68.4 L260.8,70.0 L265.1,73.2 L269.4,77.5 L269.9,81.8 L269.4,87.2 L268.9,92.5 L270.0,96.6 L272.6,99.2 L275.2,103.0 L277.7,106.9 L280.3,110.7 L282.5,111.8 L284.2,113.5 L285.2,116.2 L285.4,118.6 L287.6,119.2 L291.0,118.9 L295.0,119.1 L299.0,119.7 L303.5,120.5 L303.5,122.3 L299.0,121.8 L295.0,121.3 L291.0,121.3 L287.8,121.8 L285.7,123.2 L287.6,125.1 L288.6,129.0 L289.6,131.9 L290.0,135.3 L291.0,137.2 L292.9,138.2 L294.8,137.7 L295.8,139.6 L296.8,141.1 L298.7,139.2 L299.7,136.8 L300.6,138.7 L302.1,140.6 L303.0,139.2 L302.1,136.8 L301.1,132.9 L300.2,130.9 L299.7,129.0 L301.1,128.0 L303.0,128.5 L305.0,129.0 L304.0,127.0 L302.6,125.1 L302.0,123.5 L304.0,122.8 L306.0,122.8 L307.9,123.7 L310.3,125.2 L311.3,124.2 L310.8,121.3 L308.9,119.4 L305.5,117.0 L302.1,115.0 L300.5,112.0 L302.3,110.0 L302.9,107.0 L302.2,104.5 L300.9,102.5 L299.7,100.6 L298.0,98.7 L297.7,96.1 L298.4,93.5 L300.3,92.2 L301.3,92.9 L302.2,95.5 L303.8,96.4 L305.5,96.1 L308.0,95.5 L308.7,92.2 L309.3,90.3 L311.2,90.6 L313.2,89.7 L314.8,88.4 L317.0,88.7 L319.6,87.7 L321.6,88.0 L324.1,88.4 L326.7,89.3 L328.6,89.7 L330.2,91.6 L331.9,92.2 L333.8,92.6 L335.8,92.4 L336.6,93.4 L334.4,93.8 L332.5,94.8 L331.2,96.7 L330.6,99.3 L330.2,101.9 L330.7,103.6 L335.0,104.7 L337.2,105.2 L336.6,108.9 L337.7,112.7 L336.6,114.8 L338.8,117.5 L337.2,119.1 L338.2,121.3 L340.4,124.0 L341.4,127.2 L342.5,130.4 L342.0,133.1 L344.7,133.6 L347.9,134.1 L350.0,135.8 L352.2,136.8 L355.4,137.4 L357.0,139.0 L358.1,141.1 L360.8,142.2 L364.0,142.2 L367.2,141.6 L369.3,140.0 L370.4,136.8 L374.5,135.7 L379.7,136.7 L383.8,139.8 L386.9,142.9 L391.0,143.3 L395.1,142.9 L400.3,140.9 L404.4,137.8 L408.5,135.7 L412.6,137.8 L415.7,138.8 L418.8,135.7 L421.2,136.3 L419.8,139.8 L417.7,142.9 L417.3,149.1 L416.7,155.3 L415.7,161.4 L413.6,167.6 L411.6,173.8 L410.5,179.9 L409.5,186.1 L407.5,192.3 L404.4,196.4 L400.3,197.4 L396.1,196.4 L391.0,196.4 L385.9,194.3 L380.7,194.3 L375.6,193.3 L370.4,194.3 L366.2,196.5 L362.0,198.6 L357.2,201.4 L353.7,200.0 L348.1,198.6 L342.5,197.2 L338.3,195.8 L332.8,194.4 L327.2,193.0 L322.3,193.7 L320.2,190.9 L317.4,189.5 L311.8,188.8 L307.7,187.4 L303.5,186.0 L302.8,183.2 L299.3,181.1 L295.1,179.7 L289.5,178.8 L283.9,180.4 L279.8,182.5 L276.3,186.7 L274.9,191.6 L275.6,195.8 L274.2,201.4 L274.0,204.5 L262.6,204.5 L260.3,203.1 L257.9,201.4 L253.2,199.0 L247.3,197.2 L241.4,196.0 L236.7,194.3 L233.7,191.3 L232.5,187.8 L230.8,184.8 L227.2,183.6 L222.5,181.9 L217.8,180.1 L213.1,178.9 L208.3,179.5 L203.6,178.9 L198.9,176.6 L194.2,174.8 L191.8,172.4 L189.4,171.3 L185.9,170.1 L184.1,166.5 L185.3,163.6 L188.3,160.6 L191.5,157.5 L193.2,154.0 L192.6,150.2 L191.0,147.6 L188.9,145.4 L188.3,142.2 L190.5,139.5 L192.6,136.8 L193.7,134.1 L192.1,133.6 L189.4,135.2 L186.7,136.3 L185.1,133.1 L183.0,130.9 L180.3,130.2 L176.5,131.5 L172.2,133.4 L167.9,134.7 L163.6,135.2 L161.0,134.1 L158.8,132.7 L156.1,134.1 L152.9,133.8 L150.8,133.1 L147.6,135.2 L144.3,136.6 L141.1,138.1 L139.0,136.8 L135.8,135.5 L131.5,135.2 L127.2,135.2 L122.9,136.0 L118.6,136.8 L114.3,138.1 L110.0,138.8 L104.5,139.3 L100.2,140.9 L96.4,143.1 L93.8,145.7 L91.6,147.3 L88.4,147.9 L84.1,149.0 L80.9,151.6 L77.7,153.8 L74.5,154.9 L70.2,154.9 L66.4,154.9 L65.3,153.2 L61.6,153.8 L57.3,154.1 L51.9,153.8 L47.7,151.6 L45.5,149.5 L44.4,146.8 L40.5,146.6 Z" fill="none" stroke="#000" stroke-width="1.35" stroke-linejoin="round"/>
<path d="M206.4,121.8 L208.6,120.7 L212.9,120.2 L217.2,121.3 L221.5,121.6 L225.8,120.7 L230.0,119.9 L234.3,119.1 L233.3,121.8 L231.7,126.1 L231.1,129.3 L232.2,133.1 L231.1,136.8 L227.9,137.4 L225.8,135.8 L221.5,133.6 L217.2,130.9 L212.9,128.8 L208.6,126.6 L206.4,125.0 L205.9,123.4 Z" fill="#fff" stroke="#000" stroke-width="1.35" stroke-linejoin="round"/>
<path d="M178.4,63.0 L179.0,66.4 L179.6,68.8 L180.2,73.6 L179.6,78.4 L177.2,82.6 L175.4,83.2 L173.6,80.2 L172.4,77.2 L171.2,73.6 L171.8,70.0 L174.2,67.6 L176.6,66.4 L177.8,64.0 Z" fill="#fff" stroke="#000" stroke-width="1.35" stroke-linejoin="round"/>
<path d="M176.0,83.8 L179.0,85.0 L180.8,89.2 L181.4,94.0 L180.8,98.8 L180.2,103.6 L179.6,108.4 L177.2,109.7 L174.8,110.9 L173.0,110.9 L170.0,110.3 L169.4,106.0 L170.0,101.2 L169.4,97.6 L168.8,92.8 L167.6,89.2 L168.2,86.8 L170.6,88.6 L173.0,86.8 Z" fill="#fff" stroke="#000" stroke-width="1.35" stroke-linejoin="round"/>
<path d="M307.0,150.5 L308.4,149.1 L311.1,149.8 L313.2,151.2 L317.4,151.9 L321.6,152.3 L325.8,153.2 L329.3,152.8 L331.4,153.2 L331.4,155.3 L327.9,156.0 L323.7,155.6 L319.5,156.5 L316.0,155.3 L311.8,153.9 L308.4,153.9 L306.5,152.6 Z" fill="#fff" stroke="#000" stroke-width="1.35" stroke-linejoin="round"/>
<path d="M385.9,155.3 L388.9,153.2 L393.1,153.6 L397.2,152.8 L401.3,151.1 L405.4,149.1 L403.3,152.2 L399.2,155.3 L396.1,158.3 L392.0,159.4 L387.9,159.0 L385.9,157.3 Z" fill="#fff" stroke="#000" stroke-width="1.35" stroke-linejoin="round"/>
<path d="M114.7,104.0 L116.0,102.8 L117.8,101.5 L119.8,100.2 L121.6,99.9 L122.7,101.7 L124.5,102.2 L124.2,104.3 L122.9,106.4 L121.1,107.4 L119.1,106.9 L117.8,105.3 L116.0,105.1 Z" fill="#fff" stroke="#000" stroke-width="1.35" stroke-linejoin="round"/>
<path d="M303.2,110.8 L305.5,112.3 L308.0,114.0 L310.5,116.3 L313.0,119.0 L314.6,121.8 L313.2,122.2 L310.5,119.8 L307.5,117.3 L304.5,115.2 L302.8,113.0 Z" fill="#fff" stroke="#000" stroke-width="1.35" stroke-linejoin="round"/>
<ellipse cx="129.8" cy="100.2" rx="2.4" ry="1.3" transform="rotate(25 129.8 100.2)" fill="#fff" stroke="#000" stroke-width="1.5"/>
<ellipse cx="106.2" cy="111.2" rx="1.6" ry="1.6" transform="rotate(0 106.2 111.2)" fill="#111"/>
<ellipse cx="106.7" cy="114.9" rx="1.0" ry="0.9" transform="rotate(0 106.7 114.9)" fill="#111"/>
<ellipse cx="186.2" cy="66.2" rx="1.6" ry="0.9" transform="rotate(0 186.2 66.2)" fill="#111"/>
<ellipse cx="201.6" cy="136.3" rx="0.9" ry="0.9" transform="rotate(0 201.6 136.3)" fill="#111"/>
<ellipse cx="223.1" cy="145.4" rx="1.4" ry="1.0" transform="rotate(30 223.1 145.4)" fill="#111"/>
<ellipse cx="194.8" cy="158.9" rx="0.9" ry="0.9" transform="rotate(0 194.8 158.9)" fill="#111"/>
<ellipse cx="191.2" cy="169.5" rx="1.3" ry="1.1" transform="rotate(0 191.2 169.5)" fill="#111"/>
<ellipse cx="347" cy="141" rx="1.3" ry="2.4" transform="rotate(25 347 141)" fill="#fff" stroke="#000" stroke-width="1.5"/>
<ellipse cx="345.5" cy="145.5" rx="0.8" ry="1.8" transform="rotate(20 345.5 145.5)" fill="#fff" stroke="#000" stroke-width="1.5"/>
<ellipse cx="339" cy="149.8" rx="0.7" ry="1.8" transform="rotate(10 339 149.8)" fill="#fff" stroke="#000" stroke-width="1.5"/>
<ellipse cx="316.4" cy="91.4" rx="1.5" ry="1.4" transform="rotate(0 316.4 91.4)" fill="#111"/>
<ellipse cx="324.8" cy="94" rx="1.2" ry="1.0" transform="rotate(0 324.8 94)" fill="#111"/>
<ellipse cx="321.8" cy="100.3" rx="1.7" ry="1.5" transform="rotate(0 321.8 100.3)" fill="#111"/>
<ellipse cx="327.3" cy="97.4" rx="1.0" ry="1.0" transform="rotate(0 327.3 97.4)" fill="#111"/>
<ellipse cx="305" cy="97.5" rx="1.0" ry="1.4" transform="rotate(0 305 97.5)" fill="#111"/>
<ellipse cx="308.2" cy="98.3" rx="1.0" ry="1.5" transform="rotate(0 308.2 98.3)" fill="#111"/>
<ellipse cx="331" cy="107.6" rx="2.8" ry="2.3" transform="rotate(0 331 107.6)" fill="#fff" stroke="#000" stroke-width="1.5"/>
<ellipse cx="329.5" cy="117.8" rx="1.6" ry="1.7" transform="rotate(0 329.5 117.8)" fill="#111"/>
<ellipse cx="333" cy="127.2" rx="1.7" ry="1.0" transform="rotate(10 333 127.2)" fill="#111"/>
<ellipse cx="329" cy="128.6" rx="1.6" ry="0.7" transform="rotate(0 329 128.6)" fill="#111"/>
<ellipse cx="339" cy="134.2" rx="1.6" ry="0.8" transform="rotate(-20 339 134.2)" fill="#111"/>
<ellipse cx="336.5" cy="121" rx="1.5" ry="1.25" transform="rotate(0 336.5 121)" fill="#111"/>
<ellipse cx="336.5" cy="126.5" rx="1.25" ry="1.0" transform="rotate(0 336.5 126.5)" fill="#111"/>
<ellipse cx="315" cy="112" rx="1.5" ry="1.25" transform="rotate(0 315 112)" fill="#111"/>
<ellipse cx="307.9" cy="108.8" rx="1.38" ry="1.12" transform="rotate(0 307.9 108.8)" fill="#111"/>
<ellipse cx="316.5" cy="122.5" rx="1.6" ry="0.8" transform="rotate(35 316.5 122.5)" fill="#111"/>
<ellipse cx="319.5" cy="125" rx="1.62" ry="1.0" transform="rotate(35 319.5 125)" fill="#111"/>
<ellipse cx="322.5" cy="127.5" rx="1.62" ry="1.0" transform="rotate(35 322.5 127.5)" fill="#111"/>
<ellipse cx="314.3" cy="130.4" rx="1.25" ry="1.25" transform="rotate(0 314.3 130.4)" fill="#111"/>
<ellipse cx="318.2" cy="131.7" rx="1.38" ry="1.25" transform="rotate(0 318.2 131.7)" fill="#111"/>
<ellipse cx="322.1" cy="132.5" rx="1.38" ry="1.25" transform="rotate(0 322.1 132.5)" fill="#111"/>
<ellipse cx="325.9" cy="131" rx="1.25" ry="1.25" transform="rotate(0 325.9 131)" fill="#111"/>
<ellipse cx="329.8" cy="127.9" rx="1.25" ry="1.25" transform="rotate(0 329.8 127.9)" fill="#111"/>
<ellipse cx="332.4" cy="131.4" rx="1.25" ry="1.25" transform="rotate(0 332.4 131.4)" fill="#111"/>
<ellipse cx="336.2" cy="132.7" rx="1.25" ry="1.12" transform="rotate(0 336.2 132.7)" fill="#111"/>
<ellipse cx="316.3" cy="136.5" rx="1.25" ry="1.12" transform="rotate(0 316.3 136.5)" fill="#111"/>
<ellipse cx="320.8" cy="137.2" rx="1.5" ry="1.12" transform="rotate(0 320.8 137.2)" fill="#111"/>
<ellipse cx="324.4" cy="139.4" rx="1.25" ry="1.12" transform="rotate(0 324.4 139.4)" fill="#111"/>
<ellipse cx="327.6" cy="135.9" rx="1.62" ry="1.12" transform="rotate(0 327.6 135.9)" fill="#111"/>
<ellipse cx="331.7" cy="138.5" rx="1.25" ry="1.12" transform="rotate(0 331.7 138.5)" fill="#111"/>
<ellipse cx="272.6" cy="102.2" rx="1.0" ry="1.8" transform="rotate(-20 272.6 102.2)" fill="#fff" stroke="#000" stroke-width="1.5"/>
<ellipse cx="276.2" cy="112.5" rx="1.1" ry="1.5" transform="rotate(0 276.2 112.5)" fill="#111"/>
<ellipse cx="278" cy="116.3" rx="1.0" ry="1.0" transform="rotate(0 278 116.3)" fill="#111"/>
<ellipse cx="228" cy="47" rx="1.5" ry="0.7" transform="rotate(40 228 47)" fill="#111"/>
<ellipse cx="232" cy="51" rx="1.6" ry="0.7" transform="rotate(40 232 51)" fill="#111"/>
<ellipse cx="236" cy="54.5" rx="1.8" ry="0.8" transform="rotate(35 236 54.5)" fill="#fff" stroke="#000" stroke-width="1.5"/>
<ellipse cx="242.5" cy="58.8" rx="2.2" ry="1.2" transform="rotate(30 242.5 58.8)" fill="#fff" stroke="#000" stroke-width="1.5"/>
<ellipse cx="247.5" cy="61.8" rx="2.2" ry="1.2" transform="rotate(30 247.5 61.8)" fill="#fff" stroke="#000" stroke-width="1.5"/>
<ellipse cx="251" cy="64" rx="1.6" ry="1.0" transform="rotate(30 251 64)" fill="#111"/>
<ellipse cx="224" cy="38.5" rx="1.0" ry="1.6" transform="rotate(-30 224 38.5)" fill="#111"/>
<ellipse cx="226" cy="42" rx="1.0" ry="1.6" transform="rotate(-30 226 42)" fill="#111"/>
<path d="M331.9,92.2 L333.8,92.6 L335.8,92.4 L336.6,93.4 L334.4,93.8 L332.5,94.8 L331.2,96.7 L330.6,99.3 L330.2,101.9 L330.7,103.6 L335.0,104.7 L337.2,105.2 L336.6,108.9 L337.7,112.7 L336.6,114.8 L338.8,117.5 L337.2,119.1 L338.2,121.3 L340.4,124.0 L341.4,127.2 L342.5,130.4 L342.0,133.1 L344.7,133.6 L347.9,134.1 L350.0,135.8 L352.2,136.8 L355.4,137.4 L370.4,136.8" fill="none" stroke="#000" stroke-width="2.1" stroke-linejoin="round"/>
<path d="M222.5,36.5 L224.5,40.0 L226.5,43.5 L229.0,46.5" fill="none" stroke="#000" stroke-width="1.6" stroke-linecap="round" stroke-linejoin="round"/>
<path d="M239.5,56.5 L243.0,58.5 L246.5,60.5 L250.0,63.0 L253.5,65.5" fill="none" stroke="#000" stroke-width="1.6" stroke-linecap="round" stroke-linejoin="round"/>
<path d="M229.5,48.5 L232.0,50.5 L234.5,52.5" fill="none" stroke="#000" stroke-width="1.6" stroke-linecap="round" stroke-linejoin="round"/>
<path d="M313.5,120.8 L316.5,123.0 L319.5,125.2 L322.5,127.4" fill="none" stroke="#000" stroke-width="1.6" stroke-linecap="round" stroke-linejoin="round"/>
<path d="M305.8,95.6 L306.8,98.5" fill="none" stroke="#000" stroke-width="1.6" stroke-linecap="round" stroke-linejoin="round"/>
<path d="M309.0,96.0 L310.0,99.0" fill="none" stroke="#000" stroke-width="1.6" stroke-linecap="round" stroke-linejoin="round"/>
<path d="M82.6,26.0 L83.5,31.0 L82.5,42.0 L82.0,47.0 L80.5,55.0 L78.0,58.0 L73.0,59.0 L66.0,58.5 L62.0,57.5 L57.0,58.0 L53.0,57.0 L50.0,58.0 L45.0,57.0 L40.2,55.5" fill="none" stroke="#000" stroke-width="1.35" stroke-linejoin="round"/>
<path d="M83.8,29.5 L86.0,32.0 L87.3,35.0 L88.5,38.0" fill="none" stroke="#000" stroke-width="1.35" stroke-linejoin="round"/>
<path d="M367.2,26.0 L362.7,28.6 L362.0,33.7 L362.0,38.9 L359.5,40.2 L356.2,38.9 L355.6,41.5 L354.3,45.3 L353.0,51.8 L351.7,56.9 L348.5,58.2 L346.6,60.8 L345.9,64.6 L344.0,67.2 L342.7,69.8 L344.7,71.7 L345.6,73.0 L347.6,76.0 L347.6,78.5 L349.1,81.1 L352.1,83.1 L356.1,84.6 L356.6,85.1 L361.2,85.3 L367.2,85.1 L372.2,85.9 L376.2,86.1 L378.3,84.1 L382.3,81.6 L386.3,78.5 L390.3,76.8 L394.3,75.2 L400.4,75.5 L406.4,75.5 L410.4,74.5 L411.9,77.0 L414.4,79.6 L418.5,79.0 L420.5,81.1 L422.0,83.6 L424.8,84.6" fill="none" stroke="#000" stroke-width="1.35" stroke-linejoin="round"/>
<path d="M387.8,33.1 L391.6,29.9 L395.5,27.3 L398.1,26.0" fill="none" stroke="#000" stroke-width="1.35" stroke-linejoin="round"/>
<path d="M387.8,33.1 L392.0,35.0 L396.8,36.3 L398.1,42.7 L400.7,46.0 L404.5,44.0 L407.1,41.5 L412.2,38.9 L416.1,36.3 L420.0,37.6 L424.8,37.6" fill="none" stroke="#000" stroke-width="1.35" stroke-linejoin="round"/>
<path d="M409.7,26.0 L411.0,29.9 L413.5,33.1 L417.4,34.4 L421.3,33.1 L424.8,32.4" fill="none" stroke="#000" stroke-width="1.35" stroke-linejoin="round"/>
<path d="M356.6,85.1 L356.1,86.6 L353.1,86.3 L349.1,86.1 L346.1,87.1 L342.6,87.6 L340.1,91.1 L337.5,93.6 L340.1,94.6 L342.6,96.1 L346.1,94.6 L350.1,94.6 L354.6,94.6 L356.6,94.1 L355.1,92.6 L357.1,91.3 L360.2,90.6 L363.7,90.6 L359.2,89.6 L357.1,88.6 L356.6,86.6" fill="none" stroke="#000" stroke-width="1.35" stroke-linejoin="round"/>
</g>
<rect x="40.2" y="26" width="384.6" height="177.8" fill="none" stroke="#000" stroke-width="1.7"/>
<rect x="448.3" y="32.8" width="9.3" height="171.8" fill="url(#cbg)"/>
<path d="M448.3,32.8 L452.95,23.9 L457.6,32.8 Z" fill="#e8fa5b"/>
<path d="M448.3,204.6 V32.8 L452.95,23.9 L457.6,32.8 V204.6 Z" fill="none" stroke="#000" stroke-width="1.5"/>
<path d="M457.6,204.40 H464.4" stroke="#000" stroke-width="1.5"/>
<text x="471.2" y="209.00" font-family="'Liberation Sans', sans-serif" font-size="12.8" textLength="19.6" lengthAdjust="spacingAndGlyphs">0.0</text>
<path d="M457.6,155.25 H464.4" stroke="#000" stroke-width="1.5"/>
<text x="471.2" y="159.85" font-family="'Liberation Sans', sans-serif" font-size="12.8" textLength="19.6" lengthAdjust="spacingAndGlyphs">0.2</text>
<path d="M457.6,106.10 H464.4" stroke="#000" stroke-width="1.5"/>
<text x="471.2" y="110.70" font-family="'Liberation Sans', sans-serif" font-size="12.8" textLength="19.6" lengthAdjust="spacingAndGlyphs">0.4</text>
<path d="M457.6,56.95 H464.4" stroke="#000" stroke-width="1.5"/>
<text x="471.2" y="61.55" font-family="'Liberation Sans', sans-serif" font-size="12.8" textLength="19.6" lengthAdjust="spacingAndGlyphs">0.6</text>
<text transform="translate(512.2,156.2) rotate(-90)" font-family="'Liberation Sans', sans-serif" font-size="13.6"><tspan>°C decade</tspan><tspan dy="-4.8" font-size="9.8">−1</tspan></text>
<path d="M24.9,0 V413 M889.9,0 V413 M24.1,413 H890.7 M24.1,0.6 H890.7" stroke="#000" stroke-width="1.6" fill="none"/>
<path d="M24.90,413 V417.8 M111.40,413 V417.8 M197.90,413 V417.8 M284.40,413 V417.8 M370.90,413 V417.8 M457.40,413 V417.8 M543.90,413 V417.8 M630.40,413 V417.8 M716.90,413 V417.8 M803.40,413 V417.8 M889.90,413 V417.8 M889.9,407.70 H893.4 M889.9,397.26 H894.9 M889.9,386.82 H893.4 M889.9,376.39 H893.4 M889.9,365.95 H893.4 M889.9,355.52 H893.4 M889.9,345.08 H894.9 M889.9,334.64 H893.4 M889.9,324.21 H893.4 M889.9,313.77 H893.4 M889.9,303.34 H893.4 M889.9,292.90 H894.9 M889.9,282.46 H893.4 M889.9,272.03 H893.4 M889.9,261.59 H893.4 M889.9,251.16 H893.4 M889.9,240.72 H894.9 M889.9,230.28 H893.4 M889.9,219.85 H893.4 M889.9,209.41 H893.4 M889.9,198.98 H893.4 M889.9,188.54 H894.9 M889.9,178.10 H893.4 M889.9,167.67 H893.4 M889.9,157.23 H893.4 M889.9,146.80 H893.4 M889.9,136.36 H894.9 M889.9,125.92 H893.4 M889.9,115.49 H893.4 M889.9,105.05 H893.4 M889.9,94.62 H893.4 M889.9,84.18 H894.9 M889.9,73.74 H893.4 M889.9,63.31 H893.4 M889.9,52.87 H893.4 M889.9,42.44 H893.4 M889.9,32.00 H894.9 M889.9,21.56 H893.4 M889.9,11.13 H893.4 M889.9,0.69 H893.4" stroke="#000" stroke-width="1.6" fill="none"/>
<text x="24.30" y="440.4" font-family="'Liberation Sans', sans-serif" stroke="#000" stroke-width="0.18" font-size="21.6" text-anchor="middle" textLength="54.2" lengthAdjust="spacingAndGlyphs">1850</text>
<text x="110.80" y="440.4" font-family="'Liberation Sans', sans-serif" stroke="#000" stroke-width="0.18" font-size="21.6" text-anchor="middle" textLength="54.2" lengthAdjust="spacingAndGlyphs">1875</text>
<text x="197.30" y="440.4" font-family="'Liberation Sans', sans-serif" stroke="#000" stroke-width="0.18" font-size="21.6" text-anchor="middle" textLength="54.2" lengthAdjust="spacingAndGlyphs">1900</text>
<text x="283.80" y="440.4" font-family="'Liberation Sans', sans-serif" stroke="#000" stroke-width="0.18" font-size="21.6" text-anchor="middle" textLength="54.2" lengthAdjust="spacingAndGlyphs">1925</text>
<text x="370.30" y="440.4" font-family="'Liberation Sans', sans-serif" stroke="#000" stroke-width="0.18" font-size="21.6" text-anchor="middle" textLength="54.2" lengthAdjust="spacingAndGlyphs">1950</text>
<text x="456.80" y="440.4" font-family="'Liberation Sans', sans-serif" stroke="#000" stroke-width="0.18" font-size="21.6" text-anchor="middle" textLength="54.2" lengthAdjust="spacingAndGlyphs">1975</text>
<text x="543.30" y="440.4" font-family="'Liberation Sans', sans-serif" stroke="#000" stroke-width="0.18" font-size="21.6" text-anchor="middle" textLength="54.2" lengthAdjust="spacingAndGlyphs">2000</text>
<text x="629.80" y="440.4" font-family="'Liberation Sans', sans-serif" stroke="#000" stroke-width="0.18" font-size="21.6" text-anchor="middle" textLength="54.2" lengthAdjust="spacingAndGlyphs">2025</text>
<text x="716.30" y="440.4" font-family="'Liberation Sans', sans-serif" stroke="#000" stroke-width="0.18" font-size="21.6" text-anchor="middle" textLength="54.2" lengthAdjust="spacingAndGlyphs">2050</text>
<text x="802.80" y="440.4" font-family="'Liberation Sans', sans-serif" stroke="#000" stroke-width="0.18" font-size="21.6" text-anchor="middle" textLength="54.2" lengthAdjust="spacingAndGlyphs">2075</text>
<text x="889.30" y="440.4" font-family="'Liberation Sans', sans-serif" stroke="#000" stroke-width="0.18" font-size="21.6" text-anchor="middle" textLength="54.2" lengthAdjust="spacingAndGlyphs">2100</text>
<text x="900.9" y="404.96" font-family="'Liberation Sans', sans-serif" stroke="#000" stroke-width="0.18" font-size="21.6" textLength="27.2" lengthAdjust="spacingAndGlyphs">18</text>
<text x="900.9" y="352.78" font-family="'Liberation Sans', sans-serif" stroke="#000" stroke-width="0.18" font-size="21.6" textLength="27.2" lengthAdjust="spacingAndGlyphs">19</text>
<text x="899.8" y="300.60" font-family="'Liberation Sans', sans-serif" stroke="#000" stroke-width="0.18" font-size="21.6" textLength="28.2" lengthAdjust="spacingAndGlyphs">20</text>
<text x="899.8" y="248.42" font-family="'Liberation Sans', sans-serif" stroke="#000" stroke-width="0.18" font-size="21.6" textLength="28.2" lengthAdjust="spacingAndGlyphs">21</text>
<text x="899.8" y="196.24" font-family="'Liberation Sans', sans-serif" stroke="#000" stroke-width="0.18" font-size="21.6" textLength="28.2" lengthAdjust="spacingAndGlyphs">22</text>
<text x="899.8" y="144.06" font-family="'Liberation Sans', sans-serif" stroke="#000" stroke-width="0.18" font-size="21.6" textLength="28.2" lengthAdjust="spacingAndGlyphs">23</text>
<text x="899.8" y="91.88" font-family="'Liberation Sans', sans-serif" stroke="#000" stroke-width="0.18" font-size="21.6" textLength="28.2" lengthAdjust="spacingAndGlyphs">24</text>
<text x="899.8" y="39.70" font-family="'Liberation Sans', sans-serif" stroke="#000" stroke-width="0.18" font-size="21.6" textLength="28.2" lengthAdjust="spacingAndGlyphs">25</text>
<text x="457.6" y="465.3" font-family="'Liberation Sans', sans-serif" font-size="17.3" text-anchor="middle" textLength="38" lengthAdjust="spacingAndGlyphs">Year</text>
<text x="932.4" y="220.1" font-family="'Liberation Sans', sans-serif" font-size="18.6">C</text>
<rect x="727.9" y="290.9" width="152.4" height="112.6" rx="3" ry="3" fill="#fff" fill-opacity="0.8" stroke="#cccccc" stroke-opacity="0.8" stroke-width="1.6"/>
<path d="M734,305.1 H773" stroke="#000" stroke-width="2.4"/>
<text x="786" y="312.0" font-family="'Liberation Sans', sans-serif" font-size="19.4" textLength="88.5" lengthAdjust="spacingAndGlyphs">Historical</text>
<path d="M734,332.0 H773" stroke="#b8860b" stroke-width="2.4"/>
<text x="786.6" y="338.9" font-family="'Liberation Sans', sans-serif" font-size="19.4" textLength="82.5" lengthAdjust="spacingAndGlyphs">SSP1-2.6</text>
<path d="M734,359.1 H773" stroke="#ff0000" stroke-width="2.4"/>
<text x="786.1" y="366.0" font-family="'Liberation Sans', sans-serif" font-size="19.4" textLength="83" lengthAdjust="spacingAndGlyphs">SSP5-8.5</text>
<path d="M734,386.1 H773" stroke="#0000ff" stroke-width="2.4"/>
<text x="786.1" y="393.0" font-family="'Liberation Sans', sans-serif" font-size="19.4" textLength="76.8" lengthAdjust="spacingAndGlyphs">Satellite</text>
</svg></body></html>
